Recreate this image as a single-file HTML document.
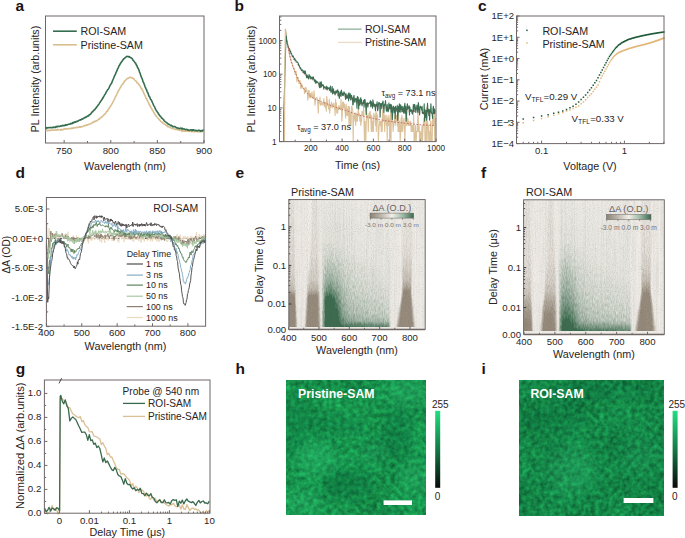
<!DOCTYPE html>
<html><head><meta charset="utf-8"><style>
html,body{margin:0;padding:0;background:#fff;}
svg{display:block;font-family:"Liberation Sans", sans-serif;}
</style></head><body>
<svg width="685" height="538" viewBox="0 0 685 538">
<rect width="685" height="538" fill="#fff"/>
<text x="15.6" y="11.3" font-size="15.5" text-anchor="start" font-weight="bold" fill="#1c1414">a</text>
<rect x="45.5" y="16" width="158.5" height="127" fill="none" stroke="#6f6767" stroke-width="1"/>
<line x1="64.15" y1="143.00" x2="64.15" y2="140.00" stroke="#6f6767" stroke-width="1"/>
<text x="64.14705882352942" y="153.6" font-size="9.7" text-anchor="middle" font-weight="normal" fill="#2a2424">750</text>
<line x1="110.76" y1="143.00" x2="110.76" y2="140.00" stroke="#6f6767" stroke-width="1"/>
<text x="110.76470588235294" y="153.6" font-size="9.7" text-anchor="middle" font-weight="normal" fill="#2a2424">800</text>
<line x1="157.38" y1="143.00" x2="157.38" y2="140.00" stroke="#6f6767" stroke-width="1"/>
<text x="157.38235294117646" y="153.6" font-size="9.7" text-anchor="middle" font-weight="normal" fill="#2a2424">850</text>
<line x1="204.00" y1="143.00" x2="204.00" y2="140.00" stroke="#6f6767" stroke-width="1"/>
<text x="204.0" y="153.6" font-size="9.7" text-anchor="middle" font-weight="normal" fill="#2a2424">900</text>
<line x1="87.46" y1="143.00" x2="87.46" y2="141.00" stroke="#6f6767" stroke-width="1"/>
<line x1="134.07" y1="143.00" x2="134.07" y2="141.00" stroke="#6f6767" stroke-width="1"/>
<line x1="180.69" y1="143.00" x2="180.69" y2="141.00" stroke="#6f6767" stroke-width="1"/>
<text x="125" y="170" font-size="10.8" text-anchor="middle" font-weight="normal" fill="#2a2424">Wavelength (nm)</text>
<text x="38.6" y="79" font-size="10.7" text-anchor="middle" font-weight="normal" fill="#2a2424" transform="rotate(-90 38.6 79)">PL Intensity (arb.units)</text>
<path d="M45.6,130.5 L46.1,130.6 L46.6,130.5 L47.1,130.1 L47.6,130.6 L48.1,130.5 L48.6,130.2 L49.1,130.5 L49.6,130.4 L50.1,130.4 L50.6,130.3 L51.1,130.4 L51.6,130.1 L52.1,130.2 L52.6,130.1 L53.1,130.3 L53.6,130.2 L54.1,130.1 L54.6,129.9 L55.1,130.0 L55.6,130.0 L56.1,129.9 L56.6,130.3 L57.1,130.2 L57.6,129.2 L58.1,129.4 L58.6,129.8 L59.1,129.7 L59.6,129.8 L60.1,129.7 L60.6,130.2 L61.1,129.3 L61.6,129.4 L62.1,130.0 L62.6,129.6 L63.1,129.6 L63.6,129.2 L64.1,128.9 L64.6,129.3 L65.1,129.2 L65.6,128.8 L66.1,128.9 L66.6,129.0 L67.1,128.7 L67.6,128.8 L68.1,128.8 L68.6,128.7 L69.1,128.5 L69.6,128.7 L70.1,128.7 L70.6,128.5 L71.1,128.2 L71.6,128.5 L72.1,128.1 L72.6,128.4 L73.1,127.8 L73.6,128.2 L74.1,127.9 L74.6,127.6 L75.1,127.7 L75.6,127.7 L76.1,127.7 L76.6,127.3 L77.1,127.2 L77.6,127.4 L78.1,127.2 L78.6,127.3 L79.1,127.3 L79.6,126.6 L80.1,127.0 L80.6,127.2 L81.1,126.7 L81.6,126.5 L82.1,126.7 L82.6,126.5 L83.1,126.5 L83.6,126.1 L84.1,125.6 L84.6,125.8 L85.1,125.6 L85.6,125.7 L86.1,125.4 L86.6,124.8 L87.1,124.7 L87.6,125.1 L88.1,124.8 L88.6,124.3 L89.1,124.2 L89.6,124.1 L90.1,123.9 L90.6,123.8 L91.1,123.4 L91.6,123.1 L92.1,122.9 L92.6,122.9 L93.1,121.9 L93.6,122.2 L94.1,122.0 L94.6,121.3 L95.1,121.5 L95.6,121.0 L96.1,121.1 L96.6,120.6 L97.1,120.5 L97.6,120.3 L98.1,119.8 L98.6,119.2 L99.1,118.7 L99.6,119.1 L100.1,118.3 L100.6,117.8 L101.1,117.6 L101.6,117.1 L102.1,116.9 L102.6,116.2 L103.1,115.8 L103.6,115.1 L104.1,114.9 L104.6,114.0 L105.1,113.9 L105.6,113.5 L106.1,112.2 L106.6,111.3 L107.1,111.4 L107.6,111.3 L108.1,109.7 L108.6,108.9 L109.1,108.6 L109.6,107.5 L110.1,106.8 L110.6,106.1 L111.1,105.5 L111.6,104.4 L112.1,103.7 L112.6,102.7 L113.1,101.6 L113.6,100.8 L114.1,99.6 L114.6,98.8 L115.1,97.5 L115.6,96.4 L116.1,96.0 L116.6,94.5 L117.1,93.5 L117.6,92.6 L118.1,91.4 L118.6,90.5 L119.1,89.8 L119.6,88.9 L120.1,87.7 L120.6,87.4 L121.1,86.3 L121.6,85.4 L122.1,84.7 L122.6,84.1 L123.1,83.9 L123.6,82.5 L124.1,82.1 L124.6,80.9 L125.1,80.8 L125.6,80.4 L126.1,79.6 L126.6,79.0 L127.1,78.8 L127.6,78.5 L128.1,78.2 L128.6,78.3 L129.1,77.6 L129.6,77.3 L130.1,77.4 L130.6,77.4 L131.1,77.6 L131.6,77.7 L132.1,78.0 L132.6,77.8 L133.1,78.7 L133.6,78.7 L134.1,79.0 L134.6,79.9 L135.1,80.6 L135.6,80.9 L136.1,81.3 L136.6,81.6 L137.1,83.1 L137.6,83.3 L138.1,83.4 L138.6,84.1 L139.1,85.0 L139.6,85.2 L140.1,86.4 L140.6,87.0 L141.1,88.2 L141.6,89.0 L142.1,89.0 L142.6,90.6 L143.1,91.2 L143.6,92.9 L144.1,93.7 L144.6,94.9 L145.1,95.6 L145.6,97.4 L146.1,98.5 L146.6,98.8 L147.1,100.2 L147.6,100.9 L148.1,102.1 L148.6,102.8 L149.1,104.5 L149.6,104.8 L150.1,105.9 L150.6,107.1 L151.1,107.7 L151.6,108.7 L152.1,109.5 L152.6,110.5 L153.1,111.1 L153.6,112.2 L154.1,113.0 L154.6,113.8 L155.1,114.6 L155.6,115.2 L156.1,116.2 L156.6,116.6 L157.1,117.2 L157.6,117.7 L158.1,118.3 L158.6,118.7 L159.1,119.7 L159.6,119.8 L160.1,120.4 L160.6,121.2 L161.1,121.7 L161.6,121.9 L162.1,122.0 L162.6,123.0 L163.1,123.3 L163.6,123.3 L164.1,124.2 L164.6,124.2 L165.1,124.4 L165.6,125.0 L166.1,125.3 L166.6,125.7 L167.1,125.5 L167.6,126.7 L168.1,126.4 L168.6,126.4 L169.1,127.2 L169.6,127.2 L170.1,127.6 L170.6,127.7 L171.1,128.0 L171.6,128.2 L172.1,128.2 L172.6,128.7 L173.1,128.6 L173.6,128.6 L174.1,129.0 L174.6,129.2 L175.1,129.2 L175.6,129.1 L176.1,129.6 L176.6,129.1 L177.1,129.4 L177.6,129.8 L178.1,129.6 L178.6,130.0 L179.1,130.1 L179.6,130.4 L180.1,130.1 L180.6,130.2 L181.1,130.6 L181.6,129.9 L182.1,131.4 L182.6,130.5 L183.1,130.6 L183.6,131.1 L184.1,130.9 L184.6,130.5 L185.1,131.2 L185.6,131.3 L186.1,131.0 L186.6,131.1 L187.1,131.3 L187.6,131.0 L188.1,131.4 L188.6,131.4 L189.1,131.2 L189.6,131.0 L190.1,131.3 L190.6,131.2 L191.1,131.7 L191.6,131.5 L192.1,131.6 L192.6,131.5 L193.1,131.5 L193.6,131.3 L194.1,131.7 L194.6,132.0 L195.1,131.4 L195.6,131.4 L196.1,131.5 L196.6,131.4 L197.1,131.4 L197.6,131.6 L198.1,131.5 L198.6,131.9 L199.1,131.6 L199.6,131.7 L200.1,131.8 L200.6,131.5 L201.1,131.9 L201.6,131.4 L202.1,131.4 L202.6,131.5 L203.1,131.6 L203.6,131.2" fill="none" stroke="#d9bf8f" stroke-width="1.6" stroke-linejoin="round" opacity="1"/>
<path d="M45.6,128.0 L46.1,127.5 L46.6,128.3 L47.1,127.9 L47.6,127.7 L48.1,127.6 L48.6,127.7 L49.1,127.7 L49.6,127.5 L50.1,127.5 L50.6,127.6 L51.1,127.5 L51.6,127.8 L52.1,127.8 L52.6,127.4 L53.1,127.5 L53.6,127.0 L54.1,127.4 L54.6,127.2 L55.1,127.2 L55.6,127.4 L56.1,126.4 L56.6,126.9 L57.1,126.5 L57.6,126.8 L58.1,126.3 L58.6,126.4 L59.1,126.5 L59.6,126.5 L60.1,126.2 L60.6,125.9 L61.1,125.9 L61.6,126.1 L62.1,125.8 L62.6,125.3 L63.1,125.8 L63.6,125.6 L64.1,125.6 L64.6,125.2 L65.1,125.4 L65.6,124.8 L66.1,125.1 L66.6,124.7 L67.1,124.9 L67.6,124.8 L68.1,124.3 L68.6,124.3 L69.1,124.2 L69.6,124.3 L70.1,124.0 L70.6,123.4 L71.1,123.6 L71.6,123.5 L72.1,123.7 L72.6,122.6 L73.1,122.7 L73.6,123.0 L74.1,122.1 L74.6,121.9 L75.1,122.2 L75.6,122.1 L76.1,121.5 L76.6,121.6 L77.1,121.2 L77.6,121.4 L78.1,120.8 L78.6,120.8 L79.1,120.2 L79.6,120.1 L80.1,119.9 L80.6,120.0 L81.1,119.7 L81.6,119.1 L82.1,119.3 L82.6,119.1 L83.1,118.6 L83.6,118.3 L84.1,118.1 L84.6,117.5 L85.1,117.7 L85.6,117.4 L86.1,116.9 L86.6,117.0 L87.1,116.2 L87.6,116.0 L88.1,115.7 L88.6,116.0 L89.1,114.7 L89.6,114.8 L90.1,114.5 L90.6,113.9 L91.1,113.6 L91.6,112.6 L92.1,111.8 L92.6,112.0 L93.1,111.0 L93.6,110.7 L94.1,109.9 L94.6,109.9 L95.1,109.2 L95.6,108.2 L96.1,108.0 L96.6,107.2 L97.1,106.5 L97.6,105.9 L98.1,105.1 L98.6,104.6 L99.1,103.8 L99.6,102.9 L100.1,102.5 L100.6,101.3 L101.1,100.7 L101.6,100.0 L102.1,99.4 L102.6,98.1 L103.1,97.9 L103.6,96.7 L104.1,95.8 L104.6,94.8 L105.1,94.3 L105.6,93.4 L106.1,92.3 L106.6,91.4 L107.1,90.7 L107.6,89.8 L108.1,89.4 L108.6,88.6 L109.1,87.6 L109.6,86.5 L110.1,85.4 L110.6,84.6 L111.1,83.8 L111.6,83.2 L112.1,81.8 L112.6,80.5 L113.1,79.4 L113.6,78.2 L114.1,76.9 L114.6,75.9 L115.1,74.7 L115.6,73.9 L116.1,72.3 L116.6,71.4 L117.1,70.4 L117.6,68.8 L118.1,68.1 L118.6,66.9 L119.1,65.7 L119.6,65.0 L120.1,64.1 L120.6,63.2 L121.1,62.5 L121.6,61.8 L122.1,61.2 L122.6,60.2 L123.1,59.8 L123.6,58.8 L124.1,58.7 L124.6,58.3 L125.1,57.7 L125.6,57.3 L126.1,57.1 L126.6,56.5 L127.1,56.4 L127.6,56.5 L128.1,56.6 L128.6,56.5 L129.1,57.1 L129.6,56.7 L130.1,57.3 L130.6,57.7 L131.1,57.8 L131.6,58.1 L132.1,58.5 L132.6,59.4 L133.1,60.3 L133.6,60.7 L134.1,61.4 L134.6,62.0 L135.1,63.0 L135.6,63.1 L136.1,64.5 L136.6,65.3 L137.1,66.0 L137.6,67.9 L138.1,68.1 L138.6,69.3 L139.1,70.6 L139.6,72.4 L140.1,73.2 L140.6,75.0 L141.1,76.3 L141.6,77.6 L142.1,78.6 L142.6,80.1 L143.1,82.0 L143.6,82.5 L144.1,83.9 L144.6,85.3 L145.1,86.8 L145.6,87.8 L146.1,89.1 L146.6,89.8 L147.1,91.5 L147.6,92.6 L148.1,93.2 L148.6,95.1 L149.1,96.4 L149.6,96.7 L150.1,98.0 L150.6,99.4 L151.1,99.7 L151.6,100.6 L152.1,101.8 L152.6,103.0 L153.1,104.0 L153.6,105.3 L154.1,106.2 L154.6,106.7 L155.1,108.1 L155.6,109.4 L156.1,110.1 L156.6,111.0 L157.1,111.6 L157.6,112.6 L158.1,112.9 L158.6,114.1 L159.1,114.6 L159.6,115.6 L160.1,116.1 L160.6,116.3 L161.1,117.2 L161.6,118.1 L162.1,118.1 L162.6,118.8 L163.1,119.2 L163.6,119.6 L164.1,120.7 L164.6,121.2 L165.1,121.6 L165.6,121.9 L166.1,122.2 L166.6,122.7 L167.1,122.9 L167.6,123.6 L168.1,124.0 L168.6,124.3 L169.1,124.3 L169.6,124.7 L170.1,124.9 L170.6,125.7 L171.1,125.5 L171.6,125.3 L172.1,126.1 L172.6,126.7 L173.1,126.6 L173.6,126.8 L174.1,126.8 L174.6,126.5 L175.1,126.7 L175.6,127.1 L176.1,127.5 L176.6,127.8 L177.1,128.0 L177.6,127.9 L178.1,128.4 L178.6,128.2 L179.1,128.2 L179.6,128.7 L180.1,128.4 L180.6,128.0 L181.1,128.5 L181.6,128.9 L182.1,128.2 L182.6,129.0 L183.1,129.1 L183.6,128.9 L184.1,128.9 L184.6,129.3 L185.1,129.3 L185.6,129.8 L186.1,129.7 L186.6,129.3 L187.1,129.5 L187.6,129.9 L188.1,130.3 L188.6,130.0 L189.1,130.0 L189.6,130.4 L190.1,130.0 L190.6,130.0 L191.1,129.7 L191.6,130.0 L192.1,130.7 L192.6,129.8 L193.1,130.2 L193.6,129.9 L194.1,130.3 L194.6,130.5 L195.1,130.3 L195.6,130.5 L196.1,130.6 L196.6,130.5 L197.1,130.9 L197.6,130.6 L198.1,130.4 L198.6,130.3 L199.1,130.3 L199.6,130.6 L200.1,130.5 L200.6,131.2 L201.1,131.0 L201.6,130.5 L202.1,130.5 L202.6,131.0 L203.1,130.1 L203.6,130.5" fill="none" stroke="#356d4f" stroke-width="1.6" stroke-linejoin="round" opacity="1"/>
<line x1="53.00" y1="31.20" x2="76.80" y2="31.20" stroke="#356d4f" stroke-width="1.6"/>
<line x1="53.00" y1="44.80" x2="76.80" y2="44.80" stroke="#d9bf8f" stroke-width="1.6"/>
<text x="80.5" y="35.4" font-size="10.7" text-anchor="start" font-weight="normal" fill="#2a2424">ROI-SAM</text>
<text x="80.5" y="48.8" font-size="10.7" text-anchor="start" font-weight="normal" fill="#2a2424">Pristine-SAM</text>
<text x="234.5" y="11.3" font-size="15.5" text-anchor="start" font-weight="bold" fill="#1c1414">b</text>
<path d="M285.4,29.1 L286.0,33.8 L286.4,36.7 L286.8,39.9 L287.3,41.5 L287.7,44.1 L288.1,46.5 L288.5,49.4 L288.9,51.2 L289.4,54.1 L289.8,56.1 L290.2,57.7 L290.6,58.7 L291.0,60.6 L291.5,62.6 L291.9,63.2 L292.3,64.2 L292.7,65.8 L293.1,67.0 L293.6,68.3 L294.0,68.0 L294.4,71.4 L294.8,70.6 L295.2,74.2 L295.7,73.8 L296.1,71.3 L296.5,76.4 L296.9,81.7 L297.3,78.4 L297.8,77.1 L298.2,78.2 L298.6,81.7 L299.0,83.5 L299.4,82.2 L299.9,80.5 L300.3,82.2 L300.7,88.4 L301.1,83.2 L301.5,88.0 L302.0,84.3 L302.4,88.0 L302.8,88.0 L303.2,88.0 L303.6,88.0 L304.1,88.4 L304.5,93.4 L304.9,88.0 L305.3,92.8 L305.7,87.2 L306.2,89.2 L306.6,90.0 L307.0,90.4 L307.4,93.4 L307.8,100.1 L308.3,96.4 L308.7,90.4 L309.1,90.4 L309.5,96.4 L309.9,97.8 L310.4,93.4 L310.8,97.8 L311.2,97.8 L311.6,94.5 L312.0,91.8 L312.5,97.0 L312.9,97.8 L313.3,98.5 L313.7,95.1 L314.1,90.9 L314.6,99.3 L315.0,105.2 L315.4,101.0 L315.8,98.5 L316.2,97.8 L316.7,97.8 L317.1,97.8 L317.5,101.0 L317.9,105.2 L318.3,113.1 L318.8,100.1 L319.2,103.0 L319.6,103.0 L320.0,97.0 L320.4,105.2 L320.9,104.1 L321.3,103.0 L321.7,103.0 L322.1,105.2 L322.5,104.1 L323.0,103.0 L323.4,104.1 L323.8,98.5 L324.2,106.5 L324.6,105.2 L325.1,102.0 L325.5,107.9 L325.9,103.0 L326.3,111.2 L326.7,96.4 L327.2,101.0 L327.6,104.1 L328.0,106.5 L328.4,105.2 L328.8,109.4 L329.3,99.3 L329.7,113.1 L330.1,106.5 L330.5,107.9 L330.9,105.2 L331.4,102.0 L331.8,104.1 L332.2,107.9 L332.6,105.2 L333.0,104.1 L333.5,105.2 L333.9,103.0 L334.3,107.9 L334.7,107.9 L335.1,115.4 L335.6,99.3 L336.0,109.4 L336.4,103.0 L336.8,113.1 L337.2,107.9 L337.7,113.1 L338.1,107.9 L338.5,109.4 L338.9,105.2 L339.3,106.5 L339.8,109.4 L340.2,109.4 L340.6,109.4 L341.0,99.3 L341.4,106.5 L341.9,121.3 L342.3,113.1 L342.7,102.0 L343.1,107.9 L343.5,102.0 L344.0,107.9 L344.4,104.1 L344.8,107.9 L345.2,113.1 L345.6,118.0 L346.1,104.1 L346.5,107.9 L346.9,115.4 L347.3,109.4 L347.7,115.4 L348.2,106.5 L348.6,106.5 L349.0,125.5 L349.4,106.5 L349.8,113.1 L350.3,125.5 L350.7,113.1 L351.1,125.5 L351.5,106.5 L351.9,106.5 L352.4,109.4 L352.8,111.2 L353.2,140.9 L353.6,115.4 L354.0,121.3 L354.5,118.0 L354.9,113.1 L355.3,113.1 L355.7,125.5 L356.1,113.1 L356.6,115.4 L357.0,121.3 L357.4,121.3 L357.8,115.4 L358.2,107.9 L358.7,115.4 L359.1,113.1 L359.5,115.4 L359.9,121.3 L360.3,115.4 L360.8,125.5 L361.2,121.3 L361.6,121.3 L362.0,111.2 L362.4,113.1 L362.9,115.4 L363.3,113.1 L363.7,106.5 L364.1,125.5 L364.5,140.9 L365.0,121.3 L365.4,131.5 L365.8,140.9 L366.2,125.5 L366.6,111.2 L367.1,118.0 L367.5,115.4 L367.9,118.0 L368.3,131.5 L368.7,115.4 L369.2,113.1 L369.6,118.0 L370.0,111.2 L370.4,113.1 L370.8,118.0 L371.3,131.5 L371.7,115.4 L372.1,131.5 L372.5,121.3 L372.9,125.5 L373.4,131.5 L373.8,113.1 L374.2,115.4 L374.6,115.4 L375.0,118.0 L375.5,125.5 L375.9,111.2 L376.3,131.5 L376.7,113.1 L377.1,121.3 L377.6,115.4 L378.0,125.5 L378.4,140.9 L378.8,131.5 L379.2,125.5 L379.7,121.3 L380.1,121.3 L380.5,125.5 L380.9,121.3 L381.3,131.5 L381.8,121.3 L382.2,131.5 L382.6,111.2 L383.0,109.4 L383.4,121.3 L383.9,113.1 L384.3,121.3 L384.7,131.5 L385.1,115.4 L385.5,121.3 L386.0,121.3 L386.4,125.5 L386.8,115.4 L387.2,140.9 L387.6,118.0 L388.1,121.3 L388.5,125.5 L388.9,115.4 L389.3,121.3 L389.7,140.9 L390.2,125.5 L390.6,113.1 L391.0,140.9 L391.4,113.1 L391.8,121.3 L392.3,118.0 L392.7,121.3 L393.1,131.5 L393.5,125.5 L393.9,121.3 L394.4,121.3 L394.8,115.4 L395.2,125.5 L395.6,118.0 L396.0,115.4 L396.5,121.3 L396.9,115.4 L397.3,125.5 L397.7,118.0 L398.1,131.5 L398.6,113.1 L399.0,131.5 L399.4,121.3 L399.8,125.5 L400.2,140.9 L400.7,131.5 L401.1,118.0 L401.5,131.5 L401.9,115.4 L402.3,121.3 L402.8,131.5 L403.2,121.3 L403.6,121.3 L404.0,118.0 L404.4,125.5 L404.9,140.9 L405.3,125.5 L405.7,125.5 L406.1,118.0 L406.5,125.5 L407.0,125.5 L407.4,118.0 L407.8,118.0 L408.2,121.3 L408.6,125.5 L409.1,121.3 L409.5,125.5 L409.9,125.5 L410.3,125.5 L410.7,121.3 L411.2,131.5 L411.6,125.5 L412.0,131.5 L412.4,125.5 L412.8,131.5 L413.3,125.5 L413.7,115.4 L414.1,140.9 L414.5,140.9 L414.9,140.9 L415.4,125.5 L415.8,125.5 L416.2,140.9 L416.6,131.5 L417.0,131.5 L417.5,131.5 L417.9,113.1 L418.3,118.0 L418.7,131.5 L419.1,125.5 L419.6,140.9 L420.0,140.9 L420.4,131.5 L420.8,140.9 L421.2,140.9 L421.7,131.5 L422.1,125.5 L422.5,140.9 L422.9,131.5 L423.3,125.5 L423.8,118.0 L424.2,125.5 L424.6,118.0 L425.0,140.9 L425.4,140.9 L425.9,140.9 L426.3,107.9 L426.7,125.5 L427.1,140.9 L427.5,121.3 L428.0,125.5 L428.4,125.5 L428.8,140.9 L429.2,140.9 L429.6,131.5 L430.1,140.9 L430.5,121.3 L430.9,121.3 L431.3,140.9 L431.7,140.9 L432.2,140.9 L432.6,115.4 L433.0,118.0 L433.4,121.3 L433.8,125.5 L434.3,113.1 L434.7,140.9 L435.1,125.5 L435.5,118.0" fill="none" stroke="#dcc29a" stroke-width="1.1" stroke-linejoin="round" opacity="1"/>
<path d="M283.8,141.6 L283.8,114.0 L286.0,35.3 L286.4,38.5 L286.8,40.6 L287.3,44.1 L287.7,44.8 L288.1,46.2 L288.5,47.5 L288.9,48.1 L289.4,48.9 L289.8,49.8 L290.2,52.2 L290.6,51.3 L291.0,53.2 L291.5,53.5 L291.9,54.9 L292.3,56.0 L292.7,56.6 L293.1,55.9 L293.6,57.3 L294.0,58.1 L294.4,59.6 L294.8,58.5 L295.2,60.4 L295.7,60.0 L296.1,61.2 L296.5,61.9 L296.9,61.8 L297.3,62.5 L297.8,62.4 L298.2,63.2 L298.6,65.4 L299.0,65.0 L299.4,66.0 L299.9,67.6 L300.3,68.6 L300.7,67.8 L301.1,69.2 L301.5,70.7 L302.0,69.8 L302.4,70.0 L302.8,70.6 L303.2,72.8 L303.6,72.5 L304.1,70.7 L304.5,73.8 L304.9,73.7 L305.3,71.1 L305.7,73.7 L306.2,75.2 L306.6,77.8 L307.0,74.9 L307.4,77.6 L307.8,76.0 L308.3,77.5 L308.7,79.0 L309.1,74.6 L309.5,77.2 L309.9,76.0 L310.4,76.4 L310.8,78.8 L311.2,77.8 L311.6,78.7 L312.0,77.0 L312.5,78.0 L312.9,79.5 L313.3,76.9 L313.7,78.7 L314.1,79.1 L314.6,81.4 L315.0,79.8 L315.4,83.3 L315.8,80.3 L316.2,83.0 L316.7,81.4 L317.1,82.5 L317.5,82.0 L317.9,82.1 L318.3,83.1 L318.8,83.4 L319.2,86.5 L319.6,87.7 L320.0,82.0 L320.4,83.4 L320.9,87.6 L321.3,81.7 L321.7,86.5 L322.1,84.4 L322.5,84.8 L323.0,85.6 L323.4,84.9 L323.8,89.2 L324.2,86.6 L324.6,87.3 L325.1,86.8 L325.5,87.7 L325.9,88.8 L326.3,89.2 L326.7,86.1 L327.2,89.9 L327.6,87.5 L328.0,87.7 L328.4,88.8 L328.8,88.0 L329.3,87.9 L329.7,90.4 L330.1,88.7 L330.5,86.0 L330.9,92.3 L331.4,90.7 L331.8,92.0 L332.2,86.5 L332.6,94.0 L333.0,90.7 L333.5,88.9 L333.9,93.2 L334.3,91.5 L334.7,93.1 L335.1,95.0 L335.6,91.8 L336.0,90.7 L336.4,93.0 L336.8,91.7 L337.2,90.7 L337.7,89.8 L338.1,95.9 L338.5,91.3 L338.9,94.4 L339.3,98.5 L339.8,95.1 L340.2,91.7 L340.6,92.6 L341.0,96.5 L341.4,90.1 L341.9,92.8 L342.3,94.1 L342.7,95.5 L343.1,93.1 L343.5,95.3 L344.0,91.8 L344.4,93.8 L344.8,93.2 L345.2,95.7 L345.6,99.5 L346.1,93.8 L346.5,98.3 L346.9,95.8 L347.3,95.7 L347.7,98.1 L348.2,93.8 L348.6,100.7 L349.0,92.8 L349.4,98.3 L349.8,94.3 L350.3,93.8 L350.7,99.9 L351.1,99.7 L351.5,95.2 L351.9,97.4 L352.4,97.9 L352.8,105.0 L353.2,104.4 L353.6,97.3 L354.0,95.3 L354.5,101.5 L354.9,102.3 L355.3,99.0 L355.7,98.5 L356.1,98.4 L356.6,101.6 L357.0,108.2 L357.4,96.5 L357.8,102.3 L358.2,97.2 L358.7,109.1 L359.1,99.8 L359.5,102.8 L359.9,105.2 L360.3,98.5 L360.8,97.8 L361.2,103.6 L361.6,99.7 L362.0,105.8 L362.4,104.1 L362.9,102.8 L363.3,103.3 L363.7,100.2 L364.1,107.0 L364.5,99.5 L365.0,99.6 L365.4,103.4 L365.8,107.4 L366.2,114.5 L366.6,103.1 L367.1,105.7 L367.5,102.7 L367.9,107.3 L368.3,103.2 L368.7,103.6 L369.2,103.4 L369.6,102.6 L370.0,102.6 L370.4,100.6 L370.8,106.8 L371.3,101.5 L371.7,103.4 L372.1,105.6 L372.5,108.1 L372.9,99.7 L373.4,103.4 L373.8,106.3 L374.2,104.1 L374.6,104.5 L375.0,106.6 L375.5,110.7 L375.9,104.2 L376.3,105.4 L376.7,105.9 L377.1,101.7 L377.6,110.8 L378.0,109.1 L378.4,104.6 L378.8,102.5 L379.2,103.2 L379.7,103.0 L380.1,117.2 L380.5,103.9 L380.9,104.2 L381.3,103.4 L381.8,108.7 L382.2,104.1 L382.6,102.6 L383.0,101.0 L383.4,105.2 L383.9,112.4 L384.3,106.1 L384.7,104.1 L385.1,104.7 L385.5,100.6 L386.0,107.5 L386.4,111.3 L386.8,109.5 L387.2,104.6 L387.6,110.5 L388.1,111.8 L388.5,110.8 L388.9,103.1 L389.3,106.4 L389.7,108.8 L390.2,104.4 L390.6,105.0 L391.0,112.1 L391.4,104.7 L391.8,106.8 L392.3,119.5 L392.7,113.6 L393.1,106.9 L393.5,106.2 L393.9,109.3 L394.4,112.8 L394.8,107.2 L395.2,118.6 L395.6,106.2 L396.0,109.0 L396.5,108.5 L396.9,111.4 L397.3,105.4 L397.7,120.3 L398.1,112.7 L398.6,106.4 L399.0,111.9 L399.4,103.7 L399.8,107.1 L400.2,112.3 L400.7,104.8 L401.1,109.2 L401.5,106.7 L401.9,111.7 L402.3,111.7 L402.8,106.3 L403.2,108.6 L403.6,112.6 L404.0,113.3 L404.4,106.6 L404.9,103.2 L405.3,113.2 L405.7,106.6 L406.1,121.1 L406.5,116.6 L407.0,106.7 L407.4,103.8 L407.8,109.1 L408.2,107.2 L408.6,108.3 L409.1,105.7 L409.5,114.9 L409.9,107.0 L410.3,111.5 L410.7,111.0 L411.2,109.6 L411.6,110.5 L412.0,113.3 L412.4,110.8 L412.8,114.4 L413.3,104.5 L413.7,107.1 L414.1,111.7 L414.5,104.3 L414.9,105.2 L415.4,107.9 L415.8,112.4 L416.2,108.9 L416.6,107.7 L417.0,105.0 L417.5,110.8 L417.9,112.7 L418.3,102.6 L418.7,105.2 L419.1,108.9 L419.6,114.9 L420.0,108.3 L420.4,106.1 L420.8,107.4 L421.2,107.2 L421.7,110.2 L422.1,106.2 L422.5,113.4 L422.9,112.6 L423.3,112.9 L423.8,113.8 L424.2,103.9 L424.6,121.1 L425.0,109.7 L425.4,115.9 L425.9,117.7 L426.3,110.4 L426.7,120.3 L427.1,111.4 L427.5,103.3 L428.0,111.6 L428.4,109.2 L428.8,115.5 L429.2,109.2 L429.6,120.1 L430.1,110.4 L430.5,111.9 L430.9,103.9 L431.3,111.8 L431.7,113.2 L432.2,114.3 L432.6,118.4 L433.0,108.5 L433.4,106.2 L433.8,113.5 L434.3,108.8 L434.7,113.6 L435.1,110.1 L435.5,109.9" fill="none" stroke="#3b6e52" stroke-width="1.1" stroke-linejoin="round" opacity="1"/>
<path d="M285.4,29.6 L286.0,36.0 L286.6,38.5" fill="none" stroke="#3b6e52" stroke-width="1.1" stroke-linejoin="round" opacity="1"/>
<path d="M284.5,141.6 L284.9,60.0 L285.4,29.1 L286.0,36.0" fill="none" stroke="#dcc29a" stroke-width="1.2" stroke-linejoin="round" opacity="1"/>
<path d="M288.0,46.4 L288.5,49.2 L289.0,51.8 L289.5,54.2 L290.0,56.5 L290.5,58.6 L291.0,60.4 L291.5,62.1 L292.0,63.6 L292.5,65.0 L293.0,66.4 L293.5,67.8 L294.0,69.2 L294.5,70.5 L295.0,71.8 L295.5,73.1 L296.0,74.3 L296.5,75.5 L297.0,76.7 L297.5,77.9 L298.0,79.1 L298.5,80.2 L299.0,81.2 L299.5,82.1 L300.0,83.0 L300.5,83.9 L301.0,84.7 L301.5,85.5 L302.0,86.3 L302.5,87.0 L303.0,87.8 L303.5,88.5 L304.0,89.2 L304.5,89.8 L305.0,90.4 L305.5,91.0 L306.0,91.6 L306.5,92.2 L307.0,92.7 L307.5,93.3 L308.0,93.8 L308.5,94.3 L309.0,94.8 L309.5,95.3 L310.0,95.7 L310.5,96.1 L311.0,96.6 L311.5,96.9 L312.0,97.3 L312.5,97.7 L313.0,98.0 L313.5,98.2 L314.0,98.5 L314.5,98.8 L315.0,99.0 L315.5,99.2 L316.0,99.5 L316.5,99.7 L317.0,99.9 L317.5,100.1 L318.0,100.3 L318.5,100.5 L319.0,100.7 L319.5,100.9 L320.0,101.1 L320.5,101.3 L321.0,101.5 L321.5,101.7 L322.0,101.9 L322.5,102.1 L323.0,102.3 L323.5,102.5 L324.0,102.7 L324.5,102.9 L325.0,103.1 L325.5,103.3 L326.0,103.5 L326.5,103.7 L327.0,103.9 L327.5,104.1 L328.0,104.3 L328.5,104.5 L329.0,104.7 L329.5,104.9 L330.0,105.1 L330.5,105.3 L331.0,105.5 L331.5,105.7 L332.0,105.8 L332.5,106.0 L333.0,106.2 L333.5,106.4 L334.0,106.6 L334.5,106.7 L335.0,106.9 L335.5,107.1 L336.0,107.3 L336.5,107.4 L337.0,107.6 L337.5,107.8 L338.0,107.9 L338.5,108.1 L339.0,108.3 L339.5,108.4 L340.0,108.6 L340.5,108.7 L341.0,108.9 L341.5,109.1 L342.0,109.2 L342.5,109.4 L343.0,109.5 L343.5,109.7 L344.0,109.9 L344.5,110.0 L345.0,110.2 L345.5,110.4 L346.0,110.5 L346.5,110.7 L347.0,110.9 L347.5,111.0 L348.0,111.2 L348.5,111.4 L349.0,111.6 L349.5,111.8 L350.0,111.9 L350.5,112.1 L351.0,112.3 L351.5,112.5 L352.0,112.7 L352.5,112.9 L353.0,113.1 L353.5,113.3 L354.0,113.5 L354.5,113.6 L355.0,113.8 L355.5,114.0 L356.0,114.2 L356.5,114.3 L357.0,114.5 L357.5,114.6 L358.0,114.7 L358.5,114.9 L359.0,115.0 L359.5,115.1 L360.0,115.3 L360.5,115.4 L361.0,115.5 L361.5,115.6 L362.0,115.8 L362.5,115.9 L363.0,116.0 L363.5,116.2 L364.0,116.3 L364.5,116.4 L365.0,116.5 L365.5,116.6 L366.0,116.8 L366.5,116.9 L367.0,117.0 L367.5,117.1 L368.0,117.2 L368.5,117.3 L369.0,117.5 L369.5,117.6 L370.0,117.7 L370.5,117.8 L371.0,117.9 L371.5,118.0 L372.0,118.1 L372.5,118.2 L373.0,118.3 L373.5,118.5 L374.0,118.6 L374.5,118.7 L375.0,118.8 L375.5,118.9 L376.0,119.0 L376.5,119.1 L377.0,119.2 L377.5,119.3 L378.0,119.4 L378.5,119.5 L379.0,119.6 L379.5,119.7 L380.0,119.7 L380.5,119.8 L381.0,119.9 L381.5,120.0 L382.0,120.1 L382.5,120.2 L383.0,120.3 L383.5,120.4 L384.0,120.5 L384.5,120.5 L385.0,120.6 L385.5,120.7 L386.0,120.8 L386.5,120.9 L387.0,121.0 L387.5,121.0 L388.0,121.1 L388.5,121.2 L389.0,121.3 L389.5,121.3 L390.0,121.4 L390.5,121.5 L391.0,121.6 L391.5,121.6 L392.0,121.7 L392.5,121.8 L393.0,121.8 L393.5,121.9 L394.0,122.0 L394.5,122.0 L395.0,122.1 L395.5,122.1 L396.0,122.2 L396.5,122.3 L397.0,122.3 L397.5,122.4 L398.0,122.4 L398.5,122.5 L399.0,122.6 L399.5,122.6 L400.0,122.7 L400.5,122.7 L401.0,122.8 L401.5,122.8 L402.0,122.9 L402.5,123.0 L403.0,123.0 L403.5,123.1 L404.0,123.1 L404.5,123.2 L405.0,123.2 L405.5,123.3 L406.0,123.3 L406.5,123.4 L407.0,123.4 L407.5,123.5 L408.0,123.5 L408.5,123.6 L409.0,123.6 L409.5,123.7 L410.0,123.8 L410.5,123.8 L411.0,123.9 L411.5,123.9 L412.0,123.9 L412.5,124.0 L413.0,124.0 L413.5,124.1 L414.0,124.1 L414.5,124.2 L415.0,124.2 L415.5,124.3 L416.0,124.3 L416.5,124.4 L417.0,124.4 L417.5,124.5 L418.0,124.5 L418.5,124.5 L419.0,124.6 L419.5,124.6 L420.0,124.7 L420.5,124.7 L421.0,124.7 L421.5,124.8 L422.0,124.8 L422.5,124.8 L423.0,124.9 L423.5,124.9 L424.0,124.9 L424.5,125.0 L425.0,125.0 L425.5,125.0 L426.0,125.1 L426.5,125.1 L427.0,125.1 L427.5,125.2 L428.0,125.2 L428.5,125.2 L429.0,125.2 L429.5,125.3 L430.0,125.3 L430.5,125.3 L431.0,125.3 L431.5,125.4 L432.0,125.4 L432.5,125.4 L433.0,125.4 L433.5,125.4 L434.0,125.5 L434.5,125.5 L435.0,125.5" fill="none" stroke="#b5484a" stroke-width="0.9" stroke-linejoin="round" opacity="0.9" stroke-dasharray="1.6,1.6"/>
<path d="M288.0,47.3 L288.5,48.6 L289.0,49.7 L289.5,50.8 L290.0,52.0 L290.5,53.2 L291.0,54.4 L291.5,55.5 L292.0,56.6 L292.5,57.6 L293.0,58.6 L293.5,59.4 L294.0,60.1 L294.5,60.8 L295.0,61.4 L295.5,62.0 L296.0,62.6 L296.5,63.2 L297.0,63.9 L297.5,64.7 L298.0,65.4 L298.5,66.2 L299.0,67.0 L299.5,67.8 L300.0,68.5 L300.5,69.3 L301.0,70.0 L301.5,70.6 L302.0,71.3 L302.5,71.9 L303.0,72.5 L303.5,73.2 L304.0,73.8 L304.5,74.3 L305.0,74.9 L305.5,75.4 L306.0,75.9 L306.5,76.4 L307.0,76.8 L307.5,77.2 L308.0,77.6 L308.5,77.9 L309.0,78.2 L309.5,78.5 L310.0,78.8 L310.5,79.1 L311.0,79.3 L311.5,79.6 L312.0,79.9 L312.5,80.2 L313.0,80.5 L313.5,80.8 L314.0,81.2 L314.5,81.6 L315.0,81.9 L315.5,82.3 L316.0,82.7 L316.5,83.1 L317.0,83.5 L317.5,83.9 L318.0,84.3 L318.5,84.6 L319.0,85.0 L319.5,85.3 L320.0,85.6 L320.5,85.9 L321.0,86.2 L321.5,86.5 L322.0,86.8 L322.5,87.1 L323.0,87.4 L323.5,87.6 L324.0,87.9 L324.5,88.2 L325.0,88.4 L325.5,88.7 L326.0,88.9 L326.5,89.2 L327.0,89.4 L327.5,89.7 L328.0,89.9 L328.5,90.2 L329.0,90.4 L329.5,90.6 L330.0,90.9 L330.5,91.1 L331.0,91.3 L331.5,91.5 L332.0,91.7 L332.5,92.0 L333.0,92.2 L333.5,92.4 L334.0,92.6 L334.5,92.8 L335.0,93.0 L335.5,93.2 L336.0,93.3 L336.5,93.5 L337.0,93.7 L337.5,93.9 L338.0,94.0 L338.5,94.2 L339.0,94.4 L339.5,94.5 L340.0,94.7 L340.5,94.8 L341.0,95.0 L341.5,95.1 L342.0,95.3 L342.5,95.5 L343.0,95.6 L343.5,95.8 L344.0,95.9 L344.5,96.1 L345.0,96.3 L345.5,96.5 L346.0,96.6 L346.5,96.8 L347.0,97.0 L347.5,97.2 L348.0,97.4 L348.5,97.6 L349.0,97.9 L349.5,98.1 L350.0,98.4 L350.5,98.6 L351.0,98.9 L351.5,99.2 L352.0,99.4 L352.5,99.7 L353.0,100.0 L353.5,100.2 L354.0,100.5 L354.5,100.7 L355.0,101.0 L355.5,101.2 L356.0,101.4 L356.5,101.6 L357.0,101.8 L357.5,102.0 L358.0,102.2 L358.5,102.3 L359.0,102.5 L359.5,102.6 L360.0,102.8 L360.5,102.9 L361.0,103.0 L361.5,103.2 L362.0,103.3 L362.5,103.4 L363.0,103.6 L363.5,103.7 L364.0,103.8 L364.5,103.9 L365.0,104.0 L365.5,104.1 L366.0,104.3 L366.5,104.4 L367.0,104.5 L367.5,104.6 L368.0,104.7 L368.5,104.8 L369.0,104.9 L369.5,105.0 L370.0,105.1 L370.5,105.2 L371.0,105.3 L371.5,105.4 L372.0,105.5 L372.5,105.6 L373.0,105.7 L373.5,105.8 L374.0,105.9 L374.5,106.0 L375.0,106.0 L375.5,106.1 L376.0,106.2 L376.5,106.3 L377.0,106.4 L377.5,106.5 L378.0,106.6 L378.5,106.7 L379.0,106.8 L379.5,106.9 L380.0,107.0 L380.5,107.1 L381.0,107.2 L381.5,107.3 L382.0,107.4 L382.5,107.5 L383.0,107.6 L383.5,107.7 L384.0,107.8 L384.5,107.9 L385.0,108.0 L385.5,108.1 L386.0,108.2 L386.5,108.3 L387.0,108.4 L387.5,108.5 L388.0,108.6 L388.5,108.7 L389.0,108.8 L389.5,108.9 L390.0,109.0 L390.5,109.1 L391.0,109.1 L391.5,109.2 L392.0,109.3 L392.5,109.4 L393.0,109.5 L393.5,109.5 L394.0,109.6 L394.5,109.7 L395.0,109.8 L395.5,109.8 L396.0,109.9 L396.5,110.0 L397.0,110.0 L397.5,110.1 L398.0,110.1 L398.5,110.2 L399.0,110.2 L399.5,110.3 L400.0,110.4 L400.5,110.4 L401.0,110.4 L401.5,110.5 L402.0,110.5 L402.5,110.6 L403.0,110.6 L403.5,110.7 L404.0,110.7 L404.5,110.8 L405.0,110.8 L405.5,110.8 L406.0,110.9 L406.5,110.9 L407.0,111.0 L407.5,111.0 L408.0,111.0 L408.5,111.1 L409.0,111.1 L409.5,111.2 L410.0,111.2 L410.5,111.2 L411.0,111.3 L411.5,111.3 L412.0,111.4 L412.5,111.4 L413.0,111.4 L413.5,111.5 L414.0,111.5 L414.5,111.5 L415.0,111.6 L415.5,111.6 L416.0,111.7 L416.5,111.7 L417.0,111.7 L417.5,111.8 L418.0,111.8 L418.5,111.9 L419.0,111.9 L419.5,112.0 L420.0,112.0 L420.5,112.0 L421.0,112.1 L421.5,112.1 L422.0,112.2 L422.5,112.2 L423.0,112.3 L423.5,112.3 L424.0,112.4 L424.5,112.4 L425.0,112.5 L425.5,112.5 L426.0,112.6 L426.5,112.6 L427.0,112.7 L427.5,112.7 L428.0,112.8 L428.5,112.8 L429.0,112.9 L429.5,112.9 L430.0,113.0 L430.5,113.0 L431.0,113.1 L431.5,113.1 L432.0,113.1 L432.5,113.2 L433.0,113.2 L433.5,113.3 L434.0,113.3 L434.5,113.4 L435.0,113.4" fill="none" stroke="#b5484a" stroke-width="0.8" stroke-linejoin="round" opacity="0.6" stroke-dasharray="1.6,1.6"/>
<rect x="279.5" y="16" width="156.5" height="125.6" fill="none" stroke="#6f6767" stroke-width="1"/>
<line x1="279.50" y1="141.60" x2="282.50" y2="141.60" stroke="#6f6767" stroke-width="1"/>
<text x="276.6" y="144.6" font-size="8.2" text-anchor="end" font-weight="normal" fill="#2a2424">1</text>
<line x1="279.50" y1="107.90" x2="282.50" y2="107.90" stroke="#6f6767" stroke-width="1"/>
<text x="276.6" y="110.89999999999999" font-size="8.2" text-anchor="end" font-weight="normal" fill="#2a2424">10</text>
<line x1="279.50" y1="74.20" x2="282.50" y2="74.20" stroke="#6f6767" stroke-width="1"/>
<text x="276.6" y="77.19999999999999" font-size="8.2" text-anchor="end" font-weight="normal" fill="#2a2424">100</text>
<line x1="279.50" y1="40.50" x2="282.50" y2="40.50" stroke="#6f6767" stroke-width="1"/>
<text x="276.6" y="43.499999999999986" font-size="8.2" text-anchor="end" font-weight="normal" fill="#2a2424">1000</text>
<line x1="279.50" y1="131.46" x2="281.30" y2="131.46" stroke="#6f6767" stroke-width="1"/>
<line x1="279.50" y1="125.52" x2="281.30" y2="125.52" stroke="#6f6767" stroke-width="1"/>
<line x1="279.50" y1="121.31" x2="281.30" y2="121.31" stroke="#6f6767" stroke-width="1"/>
<line x1="279.50" y1="118.04" x2="281.30" y2="118.04" stroke="#6f6767" stroke-width="1"/>
<line x1="279.50" y1="115.38" x2="281.30" y2="115.38" stroke="#6f6767" stroke-width="1"/>
<line x1="279.50" y1="113.12" x2="281.30" y2="113.12" stroke="#6f6767" stroke-width="1"/>
<line x1="279.50" y1="111.17" x2="281.30" y2="111.17" stroke="#6f6767" stroke-width="1"/>
<line x1="279.50" y1="109.44" x2="281.30" y2="109.44" stroke="#6f6767" stroke-width="1"/>
<line x1="279.50" y1="97.76" x2="281.30" y2="97.76" stroke="#6f6767" stroke-width="1"/>
<line x1="279.50" y1="91.82" x2="281.30" y2="91.82" stroke="#6f6767" stroke-width="1"/>
<line x1="279.50" y1="87.61" x2="281.30" y2="87.61" stroke="#6f6767" stroke-width="1"/>
<line x1="279.50" y1="84.34" x2="281.30" y2="84.34" stroke="#6f6767" stroke-width="1"/>
<line x1="279.50" y1="81.68" x2="281.30" y2="81.68" stroke="#6f6767" stroke-width="1"/>
<line x1="279.50" y1="79.42" x2="281.30" y2="79.42" stroke="#6f6767" stroke-width="1"/>
<line x1="279.50" y1="77.47" x2="281.30" y2="77.47" stroke="#6f6767" stroke-width="1"/>
<line x1="279.50" y1="75.74" x2="281.30" y2="75.74" stroke="#6f6767" stroke-width="1"/>
<line x1="279.50" y1="64.06" x2="281.30" y2="64.06" stroke="#6f6767" stroke-width="1"/>
<line x1="279.50" y1="58.12" x2="281.30" y2="58.12" stroke="#6f6767" stroke-width="1"/>
<line x1="279.50" y1="53.91" x2="281.30" y2="53.91" stroke="#6f6767" stroke-width="1"/>
<line x1="279.50" y1="50.64" x2="281.30" y2="50.64" stroke="#6f6767" stroke-width="1"/>
<line x1="279.50" y1="47.98" x2="281.30" y2="47.98" stroke="#6f6767" stroke-width="1"/>
<line x1="279.50" y1="45.72" x2="281.30" y2="45.72" stroke="#6f6767" stroke-width="1"/>
<line x1="279.50" y1="43.77" x2="281.30" y2="43.77" stroke="#6f6767" stroke-width="1"/>
<line x1="279.50" y1="42.04" x2="281.30" y2="42.04" stroke="#6f6767" stroke-width="1"/>
<line x1="279.50" y1="30.36" x2="281.30" y2="30.36" stroke="#6f6767" stroke-width="1"/>
<line x1="279.50" y1="24.42" x2="281.30" y2="24.42" stroke="#6f6767" stroke-width="1"/>
<line x1="279.50" y1="20.21" x2="281.30" y2="20.21" stroke="#6f6767" stroke-width="1"/>
<line x1="279.50" y1="16.94" x2="281.30" y2="16.94" stroke="#6f6767" stroke-width="1"/>
<line x1="310.80" y1="141.60" x2="310.80" y2="138.60" stroke="#6f6767" stroke-width="1"/>
<text x="310.8" y="151" font-size="8.2" text-anchor="middle" font-weight="normal" fill="#2a2424">200</text>
<line x1="342.10" y1="141.60" x2="342.10" y2="138.60" stroke="#6f6767" stroke-width="1"/>
<text x="342.1" y="151" font-size="8.2" text-anchor="middle" font-weight="normal" fill="#2a2424">400</text>
<line x1="373.40" y1="141.60" x2="373.40" y2="138.60" stroke="#6f6767" stroke-width="1"/>
<text x="373.4" y="151" font-size="8.2" text-anchor="middle" font-weight="normal" fill="#2a2424">600</text>
<line x1="404.70" y1="141.60" x2="404.70" y2="138.60" stroke="#6f6767" stroke-width="1"/>
<text x="404.7" y="151" font-size="8.2" text-anchor="middle" font-weight="normal" fill="#2a2424">800</text>
<line x1="436.00" y1="141.60" x2="436.00" y2="138.60" stroke="#6f6767" stroke-width="1"/>
<text x="436.0" y="151" font-size="8.2" text-anchor="middle" font-weight="normal" fill="#2a2424">1000</text>
<line x1="295.15" y1="141.60" x2="295.15" y2="139.60" stroke="#6f6767" stroke-width="1"/>
<line x1="326.45" y1="141.60" x2="326.45" y2="139.60" stroke="#6f6767" stroke-width="1"/>
<line x1="357.75" y1="141.60" x2="357.75" y2="139.60" stroke="#6f6767" stroke-width="1"/>
<line x1="389.05" y1="141.60" x2="389.05" y2="139.60" stroke="#6f6767" stroke-width="1"/>
<line x1="420.35" y1="141.60" x2="420.35" y2="139.60" stroke="#6f6767" stroke-width="1"/>
<text x="357.5" y="168.5" font-size="10.8" text-anchor="middle" font-weight="normal" fill="#2a2424">Time (ns)</text>
<text x="255" y="79" font-size="10.7" text-anchor="middle" font-weight="normal" fill="#2a2424" transform="rotate(-90 255 79)">PL Intensity (arb.units)</text>
<line x1="338.00" y1="29.20" x2="361.60" y2="29.20" stroke="#a6c1b2" stroke-width="1.7"/>
<line x1="338.00" y1="42.40" x2="361.60" y2="42.40" stroke="#ecdac4" stroke-width="1.3"/>
<text x="365" y="33.2" font-size="10.5" text-anchor="start" font-weight="normal" fill="#2a2424">ROI-SAM</text>
<text x="365" y="46.4" font-size="10.5" text-anchor="start" font-weight="normal" fill="#2a2424">Pristine-SAM</text>
<text x="381.5" y="95.6" font-size="9.1" text-anchor="start" font-weight="normal" fill="#2a2424">τ<tspan font-size="6.3" dy="2.2">avg</tspan><tspan dy="-2.2"> = 73.1 ns</tspan></text>
<text x="297" y="129.6" font-size="9.1" text-anchor="start" font-weight="normal" fill="#2a2424">τ<tspan font-size="6.3" dy="2.2">avg</tspan><tspan dy="-2.2"> = 37.0 ns</tspan></text>
<text x="478" y="11.3" font-size="15.5" text-anchor="start" font-weight="bold" fill="#1c1414">c</text>
<path d="M507.90,124.79h1.5v1.5h-1.5zM522.48,122.10h1.5v1.5h-1.5zM532.83,119.76h1.5v1.5h-1.5zM540.85,117.77h1.5v1.5h-1.5zM547.41,115.98h1.5v1.5h-1.5zM552.95,114.39h1.5v1.5h-1.5zM557.75,113.09h1.5v1.5h-1.5zM561.99,111.87h1.5v1.5h-1.5zM565.78,110.37h1.5v1.5h-1.5zM569.20,109.19h1.5v1.5h-1.5zM572.33,107.87h1.5v1.5h-1.5zM575.21,106.47h1.5v1.5h-1.5zM577.87,105.13h1.5v1.5h-1.5zM580.36,103.08h1.5v1.5h-1.5zM582.68,101.13h1.5v1.5h-1.5zM584.86,98.95h1.5v1.5h-1.5zM586.91,96.87h1.5v1.5h-1.5zM588.86,94.75h1.5v1.5h-1.5zM590.70,92.98h1.5v1.5h-1.5zM592.46,90.68h1.5v1.5h-1.5zM594.13,88.50h1.5v1.5h-1.5zM595.73,86.52h1.5v1.5h-1.5zM597.26,84.36h1.5v1.5h-1.5zM598.72,80.89h1.5v1.5h-1.5zM600.14,77.48h1.5v1.5h-1.5zM601.49,74.99h1.5v1.5h-1.5zM602.80,72.80h1.5v1.5h-1.5zM604.06,70.57h1.5v1.5h-1.5zM605.28,68.23h1.5v1.5h-1.5zM606.46,65.95h1.5v1.5h-1.5zM607.60,63.89h1.5v1.5h-1.5zM608.71,61.97h1.5v1.5h-1.5zM609.78,60.20h1.5v1.5h-1.5zM610.82,58.63h1.5v1.5h-1.5zM611.84,57.29h1.5v1.5h-1.5zM612.82,56.09h1.5v1.5h-1.5zM613.78,55.04h1.5v1.5h-1.5zM614.72,54.15h1.5v1.5h-1.5zM615.63,53.42h1.5v1.5h-1.5zM616.51,52.79h1.5v1.5h-1.5zM617.38,52.25h1.5v1.5h-1.5zM618.23,51.77h1.5v1.5h-1.5zM619.05,51.35h1.5v1.5h-1.5zM619.86,50.97h1.5v1.5h-1.5zM620.65,50.63h1.5v1.5h-1.5zM621.42,50.31h1.5v1.5h-1.5zM622.18,50.02h1.5v1.5h-1.5zM622.92,49.74h1.5v1.5h-1.5zM623.65,49.47h1.5v1.5h-1.5zM624.36,49.21h1.5v1.5h-1.5zM625.06,48.95h1.5v1.5h-1.5zM625.75,48.71h1.5v1.5h-1.5zM626.42,48.47h1.5v1.5h-1.5zM627.08,48.25h1.5v1.5h-1.5zM627.73,48.03h1.5v1.5h-1.5zM628.36,47.82h1.5v1.5h-1.5zM628.99,47.62h1.5v1.5h-1.5zM629.60,47.43h1.5v1.5h-1.5zM630.21,47.24h1.5v1.5h-1.5zM630.80,47.06h1.5v1.5h-1.5zM631.39,46.89h1.5v1.5h-1.5zM631.96,46.72h1.5v1.5h-1.5zM632.53,46.56h1.5v1.5h-1.5zM633.08,46.41h1.5v1.5h-1.5zM633.63,46.26h1.5v1.5h-1.5zM634.17,46.11h1.5v1.5h-1.5zM634.71,45.96h1.5v1.5h-1.5zM635.23,45.82h1.5v1.5h-1.5zM635.75,45.68h1.5v1.5h-1.5zM636.26,45.55h1.5v1.5h-1.5zM636.76,45.41h1.5v1.5h-1.5zM637.26,45.28h1.5v1.5h-1.5zM637.75,45.16h1.5v1.5h-1.5zM638.23,45.04h1.5v1.5h-1.5zM638.71,44.92h1.5v1.5h-1.5zM639.18,44.80h1.5v1.5h-1.5zM639.64,44.69h1.5v1.5h-1.5zM640.10,44.58h1.5v1.5h-1.5zM640.55,44.47h1.5v1.5h-1.5zM641.00,44.36h1.5v1.5h-1.5zM641.44,44.25h1.5v1.5h-1.5zM641.87,44.15h1.5v1.5h-1.5zM642.31,44.04h1.5v1.5h-1.5zM642.73,43.94h1.5v1.5h-1.5zM643.15,43.84h1.5v1.5h-1.5zM643.57,43.73h1.5v1.5h-1.5zM643.98,43.63h1.5v1.5h-1.5zM644.38,43.53h1.5v1.5h-1.5zM644.79,43.42h1.5v1.5h-1.5zM645.18,43.32h1.5v1.5h-1.5zM645.58,43.22h1.5v1.5h-1.5zM645.97,43.11h1.5v1.5h-1.5zM646.35,43.00h1.5v1.5h-1.5zM646.73,42.90h1.5v1.5h-1.5zM647.11,42.79h1.5v1.5h-1.5zM647.48,42.68h1.5v1.5h-1.5zM647.85,42.58h1.5v1.5h-1.5zM648.21,42.47h1.5v1.5h-1.5zM648.58,42.36h1.5v1.5h-1.5zM648.93,42.25h1.5v1.5h-1.5zM649.29,42.15h1.5v1.5h-1.5zM649.64,42.04h1.5v1.5h-1.5zM649.99,41.93h1.5v1.5h-1.5zM650.33,41.82h1.5v1.5h-1.5zM650.67,41.72h1.5v1.5h-1.5zM651.01,41.61h1.5v1.5h-1.5zM651.34,41.51h1.5v1.5h-1.5zM651.67,41.40h1.5v1.5h-1.5zM652.00,41.30h1.5v1.5h-1.5zM652.33,41.19h1.5v1.5h-1.5zM652.65,41.09h1.5v1.5h-1.5zM652.97,40.98h1.5v1.5h-1.5zM653.29,40.88h1.5v1.5h-1.5zM653.60,40.77h1.5v1.5h-1.5zM653.91,40.67h1.5v1.5h-1.5zM654.22,40.56h1.5v1.5h-1.5zM654.53,40.46h1.5v1.5h-1.5zM654.83,40.36h1.5v1.5h-1.5zM655.13,40.25h1.5v1.5h-1.5zM655.43,40.15h1.5v1.5h-1.5zM655.73,40.05h1.5v1.5h-1.5zM656.02,39.95h1.5v1.5h-1.5zM656.31,39.84h1.5v1.5h-1.5zM656.60,39.74h1.5v1.5h-1.5zM656.89,39.64h1.5v1.5h-1.5zM657.17,39.54h1.5v1.5h-1.5zM657.45,39.44h1.5v1.5h-1.5zM657.73,39.34h1.5v1.5h-1.5zM658.01,39.24h1.5v1.5h-1.5zM658.29,39.14h1.5v1.5h-1.5zM658.56,39.04h1.5v1.5h-1.5zM658.83,38.94h1.5v1.5h-1.5zM659.10,38.84h1.5v1.5h-1.5zM659.37,38.74h1.5v1.5h-1.5zM659.63,38.64h1.5v1.5h-1.5zM659.90,38.54h1.5v1.5h-1.5zM660.16,38.45h1.5v1.5h-1.5zM660.42,38.35h1.5v1.5h-1.5zM660.67,38.25h1.5v1.5h-1.5zM660.93,38.15h1.5v1.5h-1.5zM661.18,38.06h1.5v1.5h-1.5zM661.44,37.96h1.5v1.5h-1.5zM661.69,37.86h1.5v1.5h-1.5zM661.94,37.77h1.5v1.5h-1.5zM662.18,37.67h1.5v1.5h-1.5zM662.43,37.57h1.5v1.5h-1.5zM662.67,37.48h1.5v1.5h-1.5zM662.92,37.38h1.5v1.5h-1.5zM663.16,37.29h1.5v1.5h-1.5z" fill="#e2b677"/>
<path d="M507.90,120.21h1.5v1.5h-1.5zM522.48,118.32h1.5v1.5h-1.5zM532.83,116.69h1.5v1.5h-1.5zM540.85,115.19h1.5v1.5h-1.5zM547.41,113.89h1.5v1.5h-1.5zM552.95,112.50h1.5v1.5h-1.5zM557.75,111.40h1.5v1.5h-1.5zM561.99,110.27h1.5v1.5h-1.5zM565.78,108.75h1.5v1.5h-1.5zM569.20,107.07h1.5v1.5h-1.5zM572.33,105.44h1.5v1.5h-1.5zM575.21,103.53h1.5v1.5h-1.5zM577.87,101.34h1.5v1.5h-1.5zM580.36,98.85h1.5v1.5h-1.5zM582.68,96.62h1.5v1.5h-1.5zM584.86,94.13h1.5v1.5h-1.5zM586.91,91.75h1.5v1.5h-1.5zM588.86,89.32h1.5v1.5h-1.5zM590.70,86.95h1.5v1.5h-1.5zM592.46,84.46h1.5v1.5h-1.5zM594.13,82.04h1.5v1.5h-1.5zM595.73,79.63h1.5v1.5h-1.5zM597.26,76.90h1.5v1.5h-1.5zM598.72,74.21h1.5v1.5h-1.5zM600.14,71.67h1.5v1.5h-1.5zM601.49,69.19h1.5v1.5h-1.5zM602.80,66.76h1.5v1.5h-1.5zM604.06,64.35h1.5v1.5h-1.5zM605.28,62.04h1.5v1.5h-1.5zM606.46,59.83h1.5v1.5h-1.5zM607.60,57.72h1.5v1.5h-1.5zM608.71,55.83h1.5v1.5h-1.5zM609.78,54.17h1.5v1.5h-1.5zM610.82,52.65h1.5v1.5h-1.5zM611.84,51.23h1.5v1.5h-1.5zM612.82,49.88h1.5v1.5h-1.5zM613.78,48.65h1.5v1.5h-1.5zM614.72,47.55h1.5v1.5h-1.5zM615.63,46.55h1.5v1.5h-1.5zM616.51,45.63h1.5v1.5h-1.5zM617.38,44.80h1.5v1.5h-1.5zM618.23,44.09h1.5v1.5h-1.5zM619.05,43.46h1.5v1.5h-1.5zM619.86,42.88h1.5v1.5h-1.5zM620.65,42.35h1.5v1.5h-1.5zM621.42,41.87h1.5v1.5h-1.5zM622.18,41.43h1.5v1.5h-1.5zM622.92,41.02h1.5v1.5h-1.5zM623.65,40.65h1.5v1.5h-1.5zM624.36,40.29h1.5v1.5h-1.5zM625.06,39.96h1.5v1.5h-1.5zM625.75,39.65h1.5v1.5h-1.5zM626.42,39.36h1.5v1.5h-1.5zM627.08,39.08h1.5v1.5h-1.5zM627.73,38.82h1.5v1.5h-1.5zM628.36,38.58h1.5v1.5h-1.5zM628.99,38.35h1.5v1.5h-1.5zM629.60,38.13h1.5v1.5h-1.5zM630.21,37.93h1.5v1.5h-1.5zM630.80,37.74h1.5v1.5h-1.5zM631.39,37.56h1.5v1.5h-1.5zM631.96,37.39h1.5v1.5h-1.5zM632.53,37.22h1.5v1.5h-1.5zM633.08,37.07h1.5v1.5h-1.5zM633.63,36.92h1.5v1.5h-1.5zM634.17,36.78h1.5v1.5h-1.5zM634.71,36.64h1.5v1.5h-1.5zM635.23,36.51h1.5v1.5h-1.5zM635.75,36.37h1.5v1.5h-1.5zM636.26,36.25h1.5v1.5h-1.5zM636.76,36.12h1.5v1.5h-1.5zM637.26,36.00h1.5v1.5h-1.5zM637.75,35.88h1.5v1.5h-1.5zM638.23,35.77h1.5v1.5h-1.5zM638.71,35.66h1.5v1.5h-1.5zM639.18,35.55h1.5v1.5h-1.5zM639.64,35.44h1.5v1.5h-1.5zM640.10,35.33h1.5v1.5h-1.5zM640.55,35.23h1.5v1.5h-1.5zM641.00,35.13h1.5v1.5h-1.5zM641.44,35.03h1.5v1.5h-1.5zM641.87,34.94h1.5v1.5h-1.5zM642.31,34.85h1.5v1.5h-1.5zM642.73,34.76h1.5v1.5h-1.5zM643.15,34.67h1.5v1.5h-1.5zM643.57,34.58h1.5v1.5h-1.5zM643.98,34.49h1.5v1.5h-1.5zM644.38,34.41h1.5v1.5h-1.5zM644.79,34.33h1.5v1.5h-1.5zM645.18,34.25h1.5v1.5h-1.5zM645.58,34.17h1.5v1.5h-1.5zM645.97,34.10h1.5v1.5h-1.5zM646.35,34.02h1.5v1.5h-1.5zM646.73,33.95h1.5v1.5h-1.5zM647.11,33.88h1.5v1.5h-1.5zM647.48,33.81h1.5v1.5h-1.5zM647.85,33.74h1.5v1.5h-1.5zM648.21,33.67h1.5v1.5h-1.5zM648.58,33.60h1.5v1.5h-1.5zM648.93,33.54h1.5v1.5h-1.5zM649.29,33.47h1.5v1.5h-1.5zM649.64,33.41h1.5v1.5h-1.5zM649.99,33.34h1.5v1.5h-1.5zM650.33,33.28h1.5v1.5h-1.5zM650.67,33.22h1.5v1.5h-1.5zM651.01,33.16h1.5v1.5h-1.5zM651.34,33.10h1.5v1.5h-1.5zM651.67,33.04h1.5v1.5h-1.5zM652.00,32.99h1.5v1.5h-1.5zM652.33,32.93h1.5v1.5h-1.5zM652.65,32.87h1.5v1.5h-1.5zM652.97,32.82h1.5v1.5h-1.5zM653.29,32.76h1.5v1.5h-1.5zM653.60,32.71h1.5v1.5h-1.5zM653.91,32.66h1.5v1.5h-1.5zM654.22,32.60h1.5v1.5h-1.5zM654.53,32.55h1.5v1.5h-1.5zM654.83,32.50h1.5v1.5h-1.5zM655.13,32.45h1.5v1.5h-1.5zM655.43,32.40h1.5v1.5h-1.5zM655.73,32.36h1.5v1.5h-1.5zM656.02,32.31h1.5v1.5h-1.5zM656.31,32.26h1.5v1.5h-1.5zM656.60,32.21h1.5v1.5h-1.5zM656.89,32.17h1.5v1.5h-1.5zM657.17,32.12h1.5v1.5h-1.5zM657.45,32.08h1.5v1.5h-1.5zM657.73,32.04h1.5v1.5h-1.5zM658.01,31.99h1.5v1.5h-1.5zM658.29,31.95h1.5v1.5h-1.5zM658.56,31.91h1.5v1.5h-1.5zM658.83,31.87h1.5v1.5h-1.5zM659.10,31.83h1.5v1.5h-1.5zM659.37,31.79h1.5v1.5h-1.5zM659.63,31.75h1.5v1.5h-1.5zM659.90,31.71h1.5v1.5h-1.5zM660.16,31.67h1.5v1.5h-1.5zM660.42,31.64h1.5v1.5h-1.5zM660.67,31.60h1.5v1.5h-1.5zM660.93,31.56h1.5v1.5h-1.5zM661.18,31.53h1.5v1.5h-1.5zM661.44,31.49h1.5v1.5h-1.5zM661.69,31.46h1.5v1.5h-1.5zM661.94,31.42h1.5v1.5h-1.5zM662.18,31.39h1.5v1.5h-1.5zM662.43,31.36h1.5v1.5h-1.5zM662.67,31.33h1.5v1.5h-1.5zM662.92,31.29h1.5v1.5h-1.5zM663.16,31.26h1.5v1.5h-1.5z" fill="#1f5a3b"/>
<rect x="516.5" y="16" width="147.5" height="127.6" fill="none" stroke="#6f6767" stroke-width="1"/>
<line x1="516.50" y1="16.00" x2="519.50" y2="16.00" stroke="#6f6767" stroke-width="1"/>
<text x="514" y="19.4" font-size="9.5" text-anchor="end" font-weight="normal" fill="#2a2424">1E+2</text>
<line x1="516.50" y1="30.86" x2="518.10" y2="30.86" stroke="#6f6767" stroke-width="1"/>
<line x1="516.50" y1="27.12" x2="518.10" y2="27.12" stroke="#6f6767" stroke-width="1"/>
<line x1="516.50" y1="24.46" x2="518.10" y2="24.46" stroke="#6f6767" stroke-width="1"/>
<line x1="516.50" y1="22.40" x2="518.10" y2="22.40" stroke="#6f6767" stroke-width="1"/>
<line x1="516.50" y1="20.72" x2="518.10" y2="20.72" stroke="#6f6767" stroke-width="1"/>
<line x1="516.50" y1="19.29" x2="518.10" y2="19.29" stroke="#6f6767" stroke-width="1"/>
<line x1="516.50" y1="18.06" x2="518.10" y2="18.06" stroke="#6f6767" stroke-width="1"/>
<line x1="516.50" y1="16.97" x2="518.10" y2="16.97" stroke="#6f6767" stroke-width="1"/>
<line x1="516.50" y1="37.27" x2="519.50" y2="37.27" stroke="#6f6767" stroke-width="1"/>
<text x="514" y="40.666666666666664" font-size="9.5" text-anchor="end" font-weight="normal" fill="#2a2424">1E+1</text>
<line x1="516.50" y1="52.13" x2="518.10" y2="52.13" stroke="#6f6767" stroke-width="1"/>
<line x1="516.50" y1="48.39" x2="518.10" y2="48.39" stroke="#6f6767" stroke-width="1"/>
<line x1="516.50" y1="45.73" x2="518.10" y2="45.73" stroke="#6f6767" stroke-width="1"/>
<line x1="516.50" y1="43.67" x2="518.10" y2="43.67" stroke="#6f6767" stroke-width="1"/>
<line x1="516.50" y1="41.98" x2="518.10" y2="41.98" stroke="#6f6767" stroke-width="1"/>
<line x1="516.50" y1="40.56" x2="518.10" y2="40.56" stroke="#6f6767" stroke-width="1"/>
<line x1="516.50" y1="39.33" x2="518.10" y2="39.33" stroke="#6f6767" stroke-width="1"/>
<line x1="516.50" y1="38.24" x2="518.10" y2="38.24" stroke="#6f6767" stroke-width="1"/>
<line x1="516.50" y1="58.53" x2="519.50" y2="58.53" stroke="#6f6767" stroke-width="1"/>
<text x="514" y="61.93333333333333" font-size="9.5" text-anchor="end" font-weight="normal" fill="#2a2424">1E+0</text>
<line x1="516.50" y1="73.40" x2="518.10" y2="73.40" stroke="#6f6767" stroke-width="1"/>
<line x1="516.50" y1="69.65" x2="518.10" y2="69.65" stroke="#6f6767" stroke-width="1"/>
<line x1="516.50" y1="67.00" x2="518.10" y2="67.00" stroke="#6f6767" stroke-width="1"/>
<line x1="516.50" y1="64.94" x2="518.10" y2="64.94" stroke="#6f6767" stroke-width="1"/>
<line x1="516.50" y1="63.25" x2="518.10" y2="63.25" stroke="#6f6767" stroke-width="1"/>
<line x1="516.50" y1="61.83" x2="518.10" y2="61.83" stroke="#6f6767" stroke-width="1"/>
<line x1="516.50" y1="60.59" x2="518.10" y2="60.59" stroke="#6f6767" stroke-width="1"/>
<line x1="516.50" y1="59.51" x2="518.10" y2="59.51" stroke="#6f6767" stroke-width="1"/>
<line x1="516.50" y1="79.80" x2="519.50" y2="79.80" stroke="#6f6767" stroke-width="1"/>
<text x="514" y="83.2" font-size="9.5" text-anchor="end" font-weight="normal" fill="#2a2424">1E−1</text>
<line x1="516.50" y1="94.66" x2="518.10" y2="94.66" stroke="#6f6767" stroke-width="1"/>
<line x1="516.50" y1="90.92" x2="518.10" y2="90.92" stroke="#6f6767" stroke-width="1"/>
<line x1="516.50" y1="88.26" x2="518.10" y2="88.26" stroke="#6f6767" stroke-width="1"/>
<line x1="516.50" y1="86.20" x2="518.10" y2="86.20" stroke="#6f6767" stroke-width="1"/>
<line x1="516.50" y1="84.52" x2="518.10" y2="84.52" stroke="#6f6767" stroke-width="1"/>
<line x1="516.50" y1="83.09" x2="518.10" y2="83.09" stroke="#6f6767" stroke-width="1"/>
<line x1="516.50" y1="81.86" x2="518.10" y2="81.86" stroke="#6f6767" stroke-width="1"/>
<line x1="516.50" y1="80.77" x2="518.10" y2="80.77" stroke="#6f6767" stroke-width="1"/>
<line x1="516.50" y1="101.07" x2="519.50" y2="101.07" stroke="#6f6767" stroke-width="1"/>
<text x="514" y="104.46666666666667" font-size="9.5" text-anchor="end" font-weight="normal" fill="#2a2424">1E−2</text>
<line x1="516.50" y1="115.93" x2="518.10" y2="115.93" stroke="#6f6767" stroke-width="1"/>
<line x1="516.50" y1="112.19" x2="518.10" y2="112.19" stroke="#6f6767" stroke-width="1"/>
<line x1="516.50" y1="109.53" x2="518.10" y2="109.53" stroke="#6f6767" stroke-width="1"/>
<line x1="516.50" y1="107.47" x2="518.10" y2="107.47" stroke="#6f6767" stroke-width="1"/>
<line x1="516.50" y1="105.78" x2="518.10" y2="105.78" stroke="#6f6767" stroke-width="1"/>
<line x1="516.50" y1="104.36" x2="518.10" y2="104.36" stroke="#6f6767" stroke-width="1"/>
<line x1="516.50" y1="103.13" x2="518.10" y2="103.13" stroke="#6f6767" stroke-width="1"/>
<line x1="516.50" y1="102.04" x2="518.10" y2="102.04" stroke="#6f6767" stroke-width="1"/>
<line x1="516.50" y1="122.33" x2="519.50" y2="122.33" stroke="#6f6767" stroke-width="1"/>
<text x="514" y="125.73333333333333" font-size="9.5" text-anchor="end" font-weight="normal" fill="#2a2424">1E−3</text>
<line x1="516.50" y1="137.20" x2="518.10" y2="137.20" stroke="#6f6767" stroke-width="1"/>
<line x1="516.50" y1="133.45" x2="518.10" y2="133.45" stroke="#6f6767" stroke-width="1"/>
<line x1="516.50" y1="130.80" x2="518.10" y2="130.80" stroke="#6f6767" stroke-width="1"/>
<line x1="516.50" y1="128.74" x2="518.10" y2="128.74" stroke="#6f6767" stroke-width="1"/>
<line x1="516.50" y1="127.05" x2="518.10" y2="127.05" stroke="#6f6767" stroke-width="1"/>
<line x1="516.50" y1="125.63" x2="518.10" y2="125.63" stroke="#6f6767" stroke-width="1"/>
<line x1="516.50" y1="124.39" x2="518.10" y2="124.39" stroke="#6f6767" stroke-width="1"/>
<line x1="516.50" y1="123.31" x2="518.10" y2="123.31" stroke="#6f6767" stroke-width="1"/>
<line x1="516.50" y1="143.60" x2="519.50" y2="143.60" stroke="#6f6767" stroke-width="1"/>
<text x="514" y="147.0" font-size="9.5" text-anchor="end" font-weight="normal" fill="#2a2424">1E−4</text>
<line x1="541.60" y1="143.60" x2="541.60" y2="140.60" stroke="#6f6767" stroke-width="1"/>
<line x1="624.40" y1="143.60" x2="624.40" y2="140.60" stroke="#6f6767" stroke-width="1"/>
<line x1="523.23" y1="143.60" x2="523.23" y2="141.80" stroke="#6f6767" stroke-width="1"/>
<line x1="528.77" y1="143.60" x2="528.77" y2="141.80" stroke="#6f6767" stroke-width="1"/>
<line x1="533.58" y1="143.60" x2="533.58" y2="141.80" stroke="#6f6767" stroke-width="1"/>
<line x1="537.81" y1="143.60" x2="537.81" y2="141.80" stroke="#6f6767" stroke-width="1"/>
<line x1="566.53" y1="143.60" x2="566.53" y2="141.80" stroke="#6f6767" stroke-width="1"/>
<line x1="581.11" y1="143.60" x2="581.11" y2="141.80" stroke="#6f6767" stroke-width="1"/>
<line x1="591.45" y1="143.60" x2="591.45" y2="141.80" stroke="#6f6767" stroke-width="1"/>
<line x1="599.47" y1="143.60" x2="599.47" y2="141.80" stroke="#6f6767" stroke-width="1"/>
<line x1="606.03" y1="143.60" x2="606.03" y2="141.80" stroke="#6f6767" stroke-width="1"/>
<line x1="611.57" y1="143.60" x2="611.57" y2="141.80" stroke="#6f6767" stroke-width="1"/>
<line x1="616.38" y1="143.60" x2="616.38" y2="141.80" stroke="#6f6767" stroke-width="1"/>
<line x1="620.61" y1="143.60" x2="620.61" y2="141.80" stroke="#6f6767" stroke-width="1"/>
<line x1="649.33" y1="143.60" x2="649.33" y2="141.80" stroke="#6f6767" stroke-width="1"/>
<line x1="663.91" y1="143.60" x2="663.91" y2="141.80" stroke="#6f6767" stroke-width="1"/>
<text x="541.6" y="154.3" font-size="9.5" text-anchor="middle" font-weight="normal" fill="#2a2424">0.1</text>
<text x="624.4" y="154.3" font-size="9.5" text-anchor="middle" font-weight="normal" fill="#2a2424">1</text>
<text x="590" y="170" font-size="10.8" text-anchor="middle" font-weight="normal" fill="#2a2424">Voltage (V)</text>
<text x="488" y="79" font-size="10.8" text-anchor="middle" font-weight="normal" fill="#2a2424" transform="rotate(-90 488 79)">Current (mA)</text>
<rect x="526.2" y="29.6" width="1.5" height="1.5" fill="#1f5a3b"/>
<rect x="526.2" y="42.2" width="1.5" height="1.5" fill="#e2b677"/>
<text x="542.4" y="35" font-size="10.7" text-anchor="start" font-weight="normal" fill="#2a2424">ROI-SAM</text>
<text x="542.4" y="48" font-size="10.7" text-anchor="start" font-weight="normal" fill="#2a2424">Pristine-SAM</text>
<text x="525" y="99.6" font-size="9.7" text-anchor="start" font-weight="normal" fill="#2a2424">V<tspan font-size="6.8" dy="2.4">TFL</tspan><tspan dy="-2.4">=0.29 V</tspan></text>
<text x="571.6" y="121.6" font-size="9.7" text-anchor="start" font-weight="normal" fill="#2a2424">V<tspan font-size="6.8" dy="2.4">TFL</tspan><tspan dy="-2.4">=0.33 V</tspan></text>
<text x="15.6" y="178" font-size="15.5" text-anchor="start" font-weight="bold" fill="#1c1414">d</text>
<line x1="46.40" y1="238.40" x2="205.60" y2="238.40" stroke="#3a3434" stroke-width="0.9" stroke-dasharray="2.2,1.2"/>
<path d="M46.4,225.0 L46.8,222.9 L47.3,233.6 L47.7,238.4 L48.2,236.1 L48.6,245.2 L49.1,228.2 L49.5,235.6 L50.0,231.1 L50.4,232.7 L50.9,241.0 L51.3,240.8 L51.8,234.1 L52.2,239.2 L52.7,237.5 L53.1,236.9 L53.6,238.6 L54.0,233.0 L54.5,234.2 L54.9,235.9 L55.4,235.0 L55.8,238.6 L56.3,234.5 L56.7,238.6 L57.2,233.2 L57.6,238.3 L58.1,238.1 L58.5,234.4 L59.0,235.6 L59.4,239.1 L59.9,235.9 L60.3,237.2 L60.8,237.2 L61.2,236.0 L61.7,236.1 L62.1,235.4 L62.6,236.5 L63.0,236.9 L63.5,237.8 L63.9,234.7 L64.4,239.2 L64.8,234.0 L65.3,233.5 L65.7,233.6 L66.2,238.1 L66.6,233.9 L67.1,235.7 L67.5,235.9 L68.0,231.7 L68.4,237.7 L68.9,237.0 L69.3,240.5 L69.8,242.4 L70.2,237.7 L70.7,237.4 L71.1,236.9 L71.6,237.7 L72.0,242.1 L72.5,237.6 L72.9,236.2 L73.4,235.4 L73.8,240.2 L74.3,240.1 L74.7,239.7 L75.2,239.6 L75.6,241.4 L76.1,239.7 L76.5,235.4 L77.0,240.4 L77.4,241.9 L77.9,238.9 L78.3,239.3 L78.7,237.1 L79.2,239.7 L79.6,238.7 L80.1,239.9 L80.5,240.1 L81.0,237.6 L81.4,238.0 L81.9,238.4 L82.3,237.3 L82.8,239.8 L83.2,238.2 L83.7,237.8 L84.1,236.0 L84.6,241.7 L85.0,238.8 L85.5,237.3 L85.9,239.2 L86.4,238.0 L86.8,236.8 L87.3,237.2 L87.7,241.4 L88.2,240.4 L88.6,243.4 L89.1,236.9 L89.5,237.7 L90.0,235.6 L90.4,238.0 L90.9,240.3 L91.3,236.1 L91.8,240.6 L92.2,238.1 L92.7,238.5 L93.1,236.7 L93.6,236.4 L94.0,238.9 L94.5,239.5 L94.9,238.2 L95.4,239.2 L95.8,236.3 L96.3,237.4 L96.7,235.5 L97.2,233.2 L97.6,239.8 L98.1,239.3 L98.5,237.2 L99.0,237.4 L99.4,238.8 L99.9,241.4 L100.3,233.3 L100.8,238.0 L101.2,240.3 L101.7,242.7 L102.1,235.5 L102.6,237.5 L103.0,238.1 L103.5,240.1 L103.9,238.3 L104.4,238.9 L104.8,242.8 L105.3,233.1 L105.7,237.3 L106.2,238.8 L106.6,239.9 L107.1,239.3 L107.5,233.5 L108.0,237.4 L108.4,240.6 L108.9,236.4 L109.3,237.2 L109.8,237.1 L110.2,238.4 L110.6,238.4 L111.1,237.7 L111.5,238.5 L112.0,240.8 L112.4,240.0 L112.9,238.1 L113.3,241.2 L113.8,238.4 L114.2,238.7 L114.7,236.7 L115.1,237.8 L115.6,238.7 L116.0,238.7 L116.5,237.3 L116.9,236.3 L117.4,240.2 L117.8,241.0 L118.3,239.5 L118.7,242.5 L119.2,239.6 L119.6,236.5 L120.1,236.3 L120.5,235.2 L121.0,238.0 L121.4,237.8 L121.9,239.2 L122.3,239.1 L122.8,237.6 L123.2,236.4 L123.7,237.3 L124.1,242.0 L124.6,237.2 L125.0,238.1 L125.5,239.3 L125.9,237.9 L126.4,236.4 L126.8,237.9 L127.3,239.5 L127.7,231.8 L128.2,239.3 L128.6,237.3 L129.1,235.7 L129.5,239.8 L130.0,237.1 L130.4,239.8 L130.9,238.6 L131.3,239.6 L131.8,234.8 L132.2,240.8 L132.7,237.2 L133.1,238.1 L133.6,241.9 L134.0,234.9 L134.5,239.2 L134.9,238.6 L135.4,237.7 L135.8,239.9 L136.3,239.6 L136.7,238.2 L137.2,239.8 L137.6,238.0 L138.1,235.7 L138.5,240.1 L139.0,241.2 L139.4,238.4 L139.9,237.4 L140.3,236.9 L140.8,240.2 L141.2,242.6 L141.7,236.5 L142.1,236.8 L142.5,235.3 L143.0,240.0 L143.4,237.1 L143.9,236.2 L144.3,241.6 L144.8,236.1 L145.2,235.4 L145.7,237.0 L146.1,237.1 L146.6,236.7 L147.0,238.6 L147.5,240.9 L147.9,239.9 L148.4,238.5 L148.8,239.8 L149.3,236.2 L149.7,238.9 L150.2,238.4 L150.6,241.5 L151.1,237.4 L151.5,239.5 L152.0,235.3 L152.4,241.4 L152.9,237.5 L153.3,238.9 L153.8,238.8 L154.2,234.9 L154.7,236.3 L155.1,239.8 L155.6,235.5 L156.0,239.4 L156.5,236.7 L156.9,241.4 L157.4,238.8 L157.8,238.7 L158.3,238.8 L158.7,241.2 L159.2,241.8 L159.6,238.2 L160.1,237.0 L160.5,238.1 L161.0,238.8 L161.4,241.0 L161.9,238.7 L162.3,239.3 L162.8,239.6 L163.2,237.9 L163.7,237.9 L164.1,237.5 L164.6,238.7 L165.0,239.8 L165.5,238.6 L165.9,238.8 L166.4,241.3 L166.8,238.9 L167.3,241.4 L167.7,242.0 L168.2,239.8 L168.6,239.5 L169.1,237.0 L169.5,238.9 L170.0,237.3 L170.4,235.6 L170.9,238.1 L171.3,237.6 L171.8,239.6 L172.2,236.8 L172.7,238.2 L173.1,238.2 L173.6,240.5 L174.0,240.1 L174.4,239.6 L174.9,238.2 L175.3,236.3 L175.8,241.2 L176.2,239.1 L176.7,239.0 L177.1,234.1 L177.6,238.8 L178.0,239.4 L178.5,237.0 L178.9,240.5 L179.4,237.4 L179.8,241.6 L180.3,234.6 L180.7,238.5 L181.2,239.2 L181.6,240.9 L182.1,238.7 L182.5,238.3 L183.0,239.8 L183.4,236.2 L183.9,239.1 L184.3,238.3 L184.8,237.9 L185.2,235.9 L185.7,239.2 L186.1,238.3 L186.6,237.9 L187.0,237.3 L187.5,241.9 L187.9,236.3 L188.4,238.7 L188.8,239.8 L189.3,238.5 L189.7,242.0 L190.2,239.8 L190.6,238.0 L191.1,235.8 L191.5,238.5 L192.0,237.6 L192.4,238.8 L192.9,236.6 L193.3,238.9 L193.8,237.3 L194.2,238.7 L194.7,239.9 L195.1,239.9 L195.6,239.2 L196.0,235.7 L196.5,231.9 L196.9,238.2 L197.4,239.2 L197.8,236.7 L198.3,236.7 L198.7,238.6 L199.2,233.9 L199.6,235.8 L200.1,235.6 L200.5,237.2 L201.0,237.0 L201.4,235.4 L201.9,239.8 L202.3,238.6 L202.8,236.9 L203.2,239.7 L203.7,233.8 L204.1,238.0 L204.6,237.6 L205.0,236.1 L205.5,233.8" fill="none" stroke="#e9d9bf" stroke-width="0.95" stroke-linejoin="round" opacity="1"/>
<path d="M46.4,241.6 L46.8,249.5 L47.3,253.0 L47.7,249.2 L48.2,251.6 L48.6,238.6 L49.1,240.5 L49.5,253.2 L50.0,243.9 L50.4,238.2 L50.9,231.2 L51.3,241.7 L51.8,237.1 L52.2,233.0 L52.7,237.4 L53.1,235.5 L53.6,236.7 L54.0,234.1 L54.5,237.7 L54.9,235.4 L55.4,238.2 L55.8,233.6 L56.3,234.4 L56.7,235.6 L57.2,235.5 L57.6,235.6 L58.1,236.3 L58.5,235.5 L59.0,235.2 L59.4,236.0 L59.9,236.9 L60.3,236.7 L60.8,236.8 L61.2,235.4 L61.7,236.0 L62.1,233.3 L62.6,236.7 L63.0,236.4 L63.5,237.6 L63.9,236.6 L64.4,237.6 L64.8,238.4 L65.3,236.9 L65.7,234.9 L66.2,238.7 L66.6,238.5 L67.1,237.7 L67.5,237.4 L68.0,236.0 L68.4,239.0 L68.9,238.4 L69.3,239.5 L69.8,239.8 L70.2,239.3 L70.7,240.4 L71.1,238.3 L71.6,237.5 L72.0,239.9 L72.5,240.3 L72.9,237.4 L73.4,239.8 L73.8,237.4 L74.3,243.9 L74.7,239.9 L75.2,241.1 L75.6,240.4 L76.1,238.4 L76.5,238.0 L77.0,239.8 L77.4,238.1 L77.9,241.1 L78.3,239.0 L78.7,239.6 L79.2,241.8 L79.6,238.0 L80.1,240.2 L80.5,238.5 L81.0,240.3 L81.4,238.8 L81.9,238.1 L82.3,238.9 L82.8,239.5 L83.2,237.8 L83.7,238.2 L84.1,239.0 L84.6,238.1 L85.0,238.2 L85.5,238.4 L85.9,236.3 L86.4,234.9 L86.8,238.1 L87.3,237.3 L87.7,238.4 L88.2,238.8 L88.6,235.0 L89.1,237.6 L89.5,236.0 L90.0,238.4 L90.4,237.2 L90.9,235.5 L91.3,235.4 L91.8,235.7 L92.2,235.3 L92.7,235.5 L93.1,234.3 L93.6,233.2 L94.0,234.8 L94.5,235.7 L94.9,237.0 L95.4,236.2 L95.8,236.0 L96.3,233.4 L96.7,237.8 L97.2,236.7 L97.6,237.0 L98.1,234.2 L98.5,236.5 L99.0,238.2 L99.4,238.5 L99.9,235.1 L100.3,237.9 L100.8,233.9 L101.2,234.0 L101.7,237.2 L102.1,236.1 L102.6,235.6 L103.0,237.8 L103.5,237.5 L103.9,236.6 L104.4,235.7 L104.8,235.3 L105.3,238.5 L105.7,235.4 L106.2,235.9 L106.6,236.2 L107.1,236.5 L107.5,234.3 L108.0,233.5 L108.4,236.5 L108.9,236.1 L109.3,238.2 L109.8,236.5 L110.2,234.9 L110.6,236.1 L111.1,235.4 L111.5,236.1 L112.0,235.8 L112.4,235.0 L112.9,234.9 L113.3,238.9 L113.8,236.3 L114.2,240.3 L114.7,236.0 L115.1,236.8 L115.6,236.9 L116.0,233.8 L116.5,235.5 L116.9,234.4 L117.4,235.2 L117.8,233.6 L118.3,236.4 L118.7,236.5 L119.2,236.2 L119.6,232.5 L120.1,236.8 L120.5,236.1 L121.0,234.1 L121.4,234.8 L121.9,236.9 L122.3,233.6 L122.8,235.5 L123.2,234.0 L123.7,235.3 L124.1,235.0 L124.6,237.3 L125.0,234.1 L125.5,237.2 L125.9,236.1 L126.4,234.6 L126.8,236.7 L127.3,236.1 L127.7,236.2 L128.2,236.0 L128.6,235.4 L129.1,238.5 L129.5,237.0 L130.0,233.2 L130.4,239.1 L130.9,237.2 L131.3,235.1 L131.8,239.0 L132.2,237.6 L132.7,237.5 L133.1,234.0 L133.6,237.6 L134.0,235.4 L134.5,237.3 L134.9,236.3 L135.4,238.0 L135.8,238.5 L136.3,237.0 L136.7,238.4 L137.2,236.6 L137.6,236.2 L138.1,235.8 L138.5,234.1 L139.0,234.3 L139.4,238.0 L139.9,237.5 L140.3,233.9 L140.8,236.5 L141.2,237.0 L141.7,234.9 L142.1,237.4 L142.5,235.1 L143.0,236.9 L143.4,234.6 L143.9,236.7 L144.3,235.3 L144.8,234.9 L145.2,234.1 L145.7,237.7 L146.1,237.1 L146.6,238.6 L147.0,239.1 L147.5,237.3 L147.9,236.3 L148.4,234.7 L148.8,237.2 L149.3,233.8 L149.7,236.3 L150.2,235.3 L150.6,237.0 L151.1,238.5 L151.5,234.3 L152.0,237.1 L152.4,235.0 L152.9,237.2 L153.3,235.8 L153.8,236.9 L154.2,237.2 L154.7,236.9 L155.1,235.7 L155.6,238.5 L156.0,238.2 L156.5,235.3 L156.9,237.8 L157.4,236.5 L157.8,238.7 L158.3,237.1 L158.7,235.2 L159.2,236.7 L159.6,236.5 L160.1,237.4 L160.5,236.7 L161.0,239.5 L161.4,239.3 L161.9,236.3 L162.3,239.5 L162.8,235.0 L163.2,235.7 L163.7,238.7 L164.1,240.2 L164.6,240.5 L165.0,236.5 L165.5,237.1 L165.9,235.0 L166.4,236.4 L166.8,234.8 L167.3,235.8 L167.7,238.5 L168.2,237.4 L168.6,238.4 L169.1,237.7 L169.5,238.0 L170.0,237.6 L170.4,235.3 L170.9,238.1 L171.3,239.1 L171.8,238.4 L172.2,238.2 L172.7,238.5 L173.1,238.0 L173.6,238.5 L174.0,236.3 L174.4,236.7 L174.9,239.3 L175.3,236.9 L175.8,236.4 L176.2,238.6 L176.7,240.0 L177.1,238.3 L177.6,239.2 L178.0,238.7 L178.5,241.0 L178.9,236.5 L179.4,240.0 L179.8,239.1 L180.3,241.0 L180.7,240.2 L181.2,244.0 L181.6,242.9 L182.1,244.9 L182.5,240.0 L183.0,243.8 L183.4,244.3 L183.9,240.5 L184.3,243.1 L184.8,242.7 L185.2,240.9 L185.7,241.8 L186.1,242.0 L186.6,241.4 L187.0,245.1 L187.5,240.2 L187.9,240.0 L188.4,239.1 L188.8,244.8 L189.3,242.7 L189.7,242.1 L190.2,238.6 L190.6,240.1 L191.1,238.2 L191.5,240.0 L192.0,241.5 L192.4,242.4 L192.9,241.2 L193.3,238.2 L193.8,241.3 L194.2,242.6 L194.7,239.4 L195.1,237.7 L195.6,236.0 L196.0,237.7 L196.5,238.0 L196.9,241.9 L197.4,239.7 L197.8,239.7 L198.3,238.8 L198.7,240.3 L199.2,237.7 L199.6,236.9 L200.1,238.5 L200.5,239.0 L201.0,238.2 L201.4,237.9 L201.9,237.2 L202.3,239.5 L202.8,236.1 L203.2,238.1 L203.7,238.3 L204.1,237.0 L204.6,239.0 L205.0,236.6 L205.5,234.6" fill="none" stroke="#8b7f70" stroke-width="0.95" stroke-linejoin="round" opacity="1"/>
<path d="M46.4,242.0 L46.8,249.1 L47.3,256.3 L47.7,249.7 L48.2,250.9 L48.6,258.7 L49.1,247.5 L49.5,250.6 L50.0,249.1 L50.4,242.6 L50.9,241.4 L51.3,234.4 L51.8,239.7 L52.2,239.3 L52.7,238.0 L53.1,235.8 L53.6,234.0 L54.0,237.4 L54.5,236.4 L54.9,238.0 L55.4,235.3 L55.8,236.8 L56.3,231.0 L56.7,231.6 L57.2,236.8 L57.6,235.0 L58.1,234.6 L58.5,236.3 L59.0,236.2 L59.4,234.6 L59.9,236.2 L60.3,236.4 L60.8,236.1 L61.2,234.2 L61.7,236.7 L62.1,235.8 L62.6,236.2 L63.0,235.7 L63.5,237.2 L63.9,237.9 L64.4,238.3 L64.8,237.1 L65.3,237.4 L65.7,238.2 L66.2,237.6 L66.6,234.6 L67.1,237.2 L67.5,241.3 L68.0,236.9 L68.4,238.9 L68.9,240.8 L69.3,237.6 L69.8,239.9 L70.2,238.5 L70.7,241.2 L71.1,238.9 L71.6,241.1 L72.0,239.4 L72.5,239.7 L72.9,242.7 L73.4,240.5 L73.8,240.4 L74.3,241.1 L74.7,243.7 L75.2,240.6 L75.6,241.4 L76.1,239.1 L76.5,242.4 L77.0,239.3 L77.4,240.5 L77.9,236.9 L78.3,242.0 L78.7,239.0 L79.2,241.1 L79.6,241.7 L80.1,238.6 L80.5,239.1 L81.0,238.3 L81.4,242.1 L81.9,241.2 L82.3,238.4 L82.8,240.3 L83.2,236.8 L83.7,236.1 L84.1,238.5 L84.6,237.9 L85.0,237.6 L85.5,237.8 L85.9,237.0 L86.4,237.0 L86.8,235.6 L87.3,236.4 L87.7,236.3 L88.2,235.7 L88.6,235.9 L89.1,234.9 L89.5,233.7 L90.0,231.2 L90.4,236.4 L90.9,235.8 L91.3,233.6 L91.8,233.2 L92.2,233.1 L92.7,230.0 L93.1,235.3 L93.6,232.6 L94.0,234.1 L94.5,232.6 L94.9,231.3 L95.4,234.1 L95.8,230.4 L96.3,233.2 L96.7,233.5 L97.2,234.4 L97.6,233.0 L98.1,233.0 L98.5,230.7 L99.0,234.2 L99.4,231.6 L99.9,230.7 L100.3,232.3 L100.8,230.8 L101.2,233.0 L101.7,231.3 L102.1,232.4 L102.6,228.8 L103.0,232.3 L103.5,232.4 L103.9,231.4 L104.4,232.7 L104.8,232.3 L105.3,231.5 L105.7,230.8 L106.2,233.0 L106.6,232.1 L107.1,232.5 L107.5,231.2 L108.0,231.1 L108.4,231.8 L108.9,232.1 L109.3,229.9 L109.8,233.9 L110.2,230.3 L110.6,232.0 L111.1,235.1 L111.5,232.7 L112.0,235.1 L112.4,233.2 L112.9,236.1 L113.3,232.1 L113.8,234.4 L114.2,230.9 L114.7,234.5 L115.1,233.4 L115.6,235.5 L116.0,233.8 L116.5,233.6 L116.9,232.9 L117.4,230.1 L117.8,231.3 L118.3,232.6 L118.7,234.3 L119.2,234.3 L119.6,234.3 L120.1,235.2 L120.5,233.0 L121.0,234.1 L121.4,233.3 L121.9,234.4 L122.3,233.5 L122.8,231.5 L123.2,233.6 L123.7,232.8 L124.1,235.5 L124.6,234.4 L125.0,234.8 L125.5,233.5 L125.9,233.9 L126.4,235.3 L126.8,233.8 L127.3,234.2 L127.7,236.7 L128.2,234.5 L128.6,232.7 L129.1,235.8 L129.5,232.9 L130.0,233.5 L130.4,234.3 L130.9,233.9 L131.3,235.8 L131.8,233.6 L132.2,236.7 L132.7,236.3 L133.1,233.9 L133.6,236.3 L134.0,231.7 L134.5,234.2 L134.9,233.4 L135.4,233.3 L135.8,235.3 L136.3,234.7 L136.7,234.1 L137.2,234.8 L137.6,232.5 L138.1,233.3 L138.5,234.5 L139.0,233.0 L139.4,234.8 L139.9,233.8 L140.3,234.7 L140.8,235.3 L141.2,236.3 L141.7,236.0 L142.1,234.9 L142.5,234.4 L143.0,238.1 L143.4,235.6 L143.9,234.2 L144.3,235.3 L144.8,236.7 L145.2,236.6 L145.7,232.6 L146.1,237.5 L146.6,235.6 L147.0,234.0 L147.5,238.1 L147.9,234.2 L148.4,237.5 L148.8,233.8 L149.3,231.3 L149.7,237.1 L150.2,235.4 L150.6,234.8 L151.1,236.1 L151.5,234.5 L152.0,236.4 L152.4,236.2 L152.9,236.6 L153.3,235.5 L153.8,234.7 L154.2,234.0 L154.7,235.6 L155.1,237.0 L155.6,236.2 L156.0,236.2 L156.5,236.1 L156.9,234.7 L157.4,235.7 L157.8,235.4 L158.3,235.5 L158.7,235.7 L159.2,236.3 L159.6,234.5 L160.1,235.7 L160.5,235.8 L161.0,237.3 L161.4,236.7 L161.9,236.6 L162.3,234.9 L162.8,238.3 L163.2,234.7 L163.7,235.6 L164.1,236.9 L164.6,237.1 L165.0,235.1 L165.5,235.6 L165.9,238.9 L166.4,237.0 L166.8,237.4 L167.3,236.2 L167.7,237.1 L168.2,235.6 L168.6,237.1 L169.1,236.9 L169.5,234.8 L170.0,237.1 L170.4,237.7 L170.9,237.1 L171.3,239.2 L171.8,239.8 L172.2,237.7 L172.7,238.7 L173.1,240.2 L173.6,236.9 L174.0,237.5 L174.4,238.4 L174.9,239.8 L175.3,239.5 L175.8,240.4 L176.2,238.6 L176.7,242.2 L177.1,240.1 L177.6,240.8 L178.0,242.8 L178.5,240.5 L178.9,242.3 L179.4,239.4 L179.8,240.7 L180.3,242.8 L180.7,243.6 L181.2,244.4 L181.6,244.8 L182.1,243.6 L182.5,246.6 L183.0,243.4 L183.4,244.2 L183.9,245.7 L184.3,244.6 L184.8,242.6 L185.2,245.6 L185.7,243.5 L186.1,246.4 L186.6,246.7 L187.0,244.2 L187.5,248.3 L187.9,243.8 L188.4,245.0 L188.8,245.4 L189.3,244.3 L189.7,243.9 L190.2,242.0 L190.6,242.3 L191.1,243.0 L191.5,243.4 L192.0,244.3 L192.4,242.4 L192.9,246.2 L193.3,240.8 L193.8,242.0 L194.2,244.2 L194.7,240.8 L195.1,242.7 L195.6,241.9 L196.0,243.6 L196.5,241.9 L196.9,240.4 L197.4,240.6 L197.8,239.9 L198.3,241.3 L198.7,239.3 L199.2,242.2 L199.6,240.8 L200.1,243.7 L200.5,240.2 L201.0,240.4 L201.4,239.8 L201.9,238.6 L202.3,237.4 L202.8,241.0 L203.2,239.6 L203.7,242.1 L204.1,236.4 L204.6,237.2 L205.0,238.4 L205.5,237.2" fill="none" stroke="#a9c7a2" stroke-width="0.95" stroke-linejoin="round" opacity="1"/>
<path d="M46.4,244.1 L46.8,256.0 L47.3,257.6 L47.7,262.4 L48.2,269.7 L48.6,273.7 L49.1,271.5 L49.5,260.2 L50.0,260.9 L50.4,256.7 L50.9,257.0 L51.3,249.6 L51.8,247.8 L52.2,248.2 L52.7,243.3 L53.1,244.3 L53.6,242.4 L54.0,241.9 L54.5,243.0 L54.9,241.1 L55.4,239.4 L55.8,242.6 L56.3,242.3 L56.7,241.9 L57.2,239.7 L57.6,241.1 L58.1,240.1 L58.5,239.0 L59.0,241.7 L59.4,238.7 L59.9,240.5 L60.3,240.9 L60.8,239.1 L61.2,240.5 L61.7,242.7 L62.1,241.5 L62.6,242.6 L63.0,241.6 L63.5,242.7 L63.9,242.8 L64.4,241.7 L64.8,244.9 L65.3,243.1 L65.7,244.0 L66.2,243.8 L66.6,247.1 L67.1,245.9 L67.5,245.8 L68.0,244.0 L68.4,247.6 L68.9,248.0 L69.3,247.6 L69.8,247.7 L70.2,249.4 L70.7,249.4 L71.1,251.8 L71.6,248.9 L72.0,251.6 L72.5,251.5 L72.9,249.1 L73.4,252.8 L73.8,253.5 L74.3,253.2 L74.7,250.2 L75.2,251.9 L75.6,252.3 L76.1,251.1 L76.5,250.7 L77.0,249.1 L77.4,248.9 L77.9,248.8 L78.3,248.1 L78.7,248.9 L79.2,248.9 L79.6,246.6 L80.1,245.8 L80.5,245.5 L81.0,244.6 L81.4,243.4 L81.9,244.4 L82.3,242.7 L82.8,242.3 L83.2,242.5 L83.7,239.1 L84.1,239.1 L84.6,237.6 L85.0,236.5 L85.5,237.2 L85.9,233.7 L86.4,234.1 L86.8,232.5 L87.3,230.9 L87.7,232.3 L88.2,231.7 L88.6,230.1 L89.1,228.5 L89.5,227.9 L90.0,230.7 L90.4,226.6 L90.9,228.2 L91.3,226.8 L91.8,228.3 L92.2,227.5 L92.7,225.8 L93.1,227.7 L93.6,224.7 L94.0,225.8 L94.5,224.7 L94.9,224.7 L95.4,225.3 L95.8,223.3 L96.3,222.2 L96.7,224.0 L97.2,226.5 L97.6,224.6 L98.1,225.0 L98.5,223.9 L99.0,224.8 L99.4,222.6 L99.9,224.2 L100.3,224.4 L100.8,225.5 L101.2,226.1 L101.7,225.3 L102.1,225.1 L102.6,224.9 L103.0,225.2 L103.5,225.8 L103.9,225.6 L104.4,226.2 L104.8,226.9 L105.3,226.9 L105.7,225.7 L106.2,225.6 L106.6,226.8 L107.1,226.9 L107.5,226.4 L108.0,227.3 L108.4,224.1 L108.9,227.5 L109.3,228.4 L109.8,230.0 L110.2,228.0 L110.6,227.4 L111.1,228.7 L111.5,227.5 L112.0,229.6 L112.4,229.3 L112.9,229.5 L113.3,230.3 L113.8,231.2 L114.2,230.9 L114.7,232.0 L115.1,229.4 L115.6,230.6 L116.0,230.7 L116.5,231.3 L116.9,229.9 L117.4,232.0 L117.8,229.5 L118.3,230.3 L118.7,232.3 L119.2,232.0 L119.6,231.3 L120.1,230.9 L120.5,233.3 L121.0,233.2 L121.4,230.2 L121.9,232.0 L122.3,232.2 L122.8,231.2 L123.2,232.9 L123.7,233.9 L124.1,235.3 L124.6,232.6 L125.0,234.7 L125.5,232.8 L125.9,235.6 L126.4,234.1 L126.8,233.6 L127.3,234.9 L127.7,234.2 L128.2,234.5 L128.6,233.5 L129.1,235.0 L129.5,234.0 L130.0,232.3 L130.4,232.2 L130.9,231.7 L131.3,233.3 L131.8,234.2 L132.2,233.4 L132.7,233.0 L133.1,233.5 L133.6,232.3 L134.0,234.5 L134.5,234.0 L134.9,235.4 L135.4,234.3 L135.8,232.5 L136.3,233.8 L136.7,233.1 L137.2,233.4 L137.6,232.9 L138.1,234.8 L138.5,233.3 L139.0,233.2 L139.4,232.7 L139.9,232.4 L140.3,234.5 L140.8,235.5 L141.2,234.6 L141.7,232.6 L142.1,235.0 L142.5,235.5 L143.0,235.4 L143.4,235.4 L143.9,233.3 L144.3,234.9 L144.8,234.7 L145.2,232.9 L145.7,233.1 L146.1,233.2 L146.6,234.9 L147.0,235.9 L147.5,233.7 L147.9,232.3 L148.4,234.5 L148.8,234.4 L149.3,237.6 L149.7,232.3 L150.2,234.4 L150.6,236.0 L151.1,234.2 L151.5,234.8 L152.0,233.5 L152.4,231.9 L152.9,235.1 L153.3,234.1 L153.8,234.6 L154.2,235.0 L154.7,233.8 L155.1,232.6 L155.6,233.8 L156.0,234.7 L156.5,233.8 L156.9,234.1 L157.4,233.5 L157.8,234.9 L158.3,234.2 L158.7,232.6 L159.2,234.4 L159.6,233.4 L160.1,234.5 L160.5,234.4 L161.0,235.3 L161.4,231.5 L161.9,233.3 L162.3,233.3 L162.8,233.4 L163.2,235.7 L163.7,235.4 L164.1,234.9 L164.6,236.5 L165.0,235.7 L165.5,234.0 L165.9,237.2 L166.4,236.1 L166.8,235.4 L167.3,235.6 L167.7,235.8 L168.2,236.8 L168.6,235.3 L169.1,239.0 L169.5,236.3 L170.0,238.7 L170.4,238.1 L170.9,237.7 L171.3,236.3 L171.8,239.4 L172.2,240.4 L172.7,238.3 L173.1,239.9 L173.6,240.3 L174.0,240.2 L174.4,240.3 L174.9,241.8 L175.3,244.8 L175.8,243.3 L176.2,243.7 L176.7,245.7 L177.1,246.3 L177.6,245.3 L178.0,246.5 L178.5,248.6 L178.9,247.9 L179.4,249.3 L179.8,251.7 L180.3,251.5 L180.7,253.4 L181.2,253.8 L181.6,253.5 L182.1,256.2 L182.5,257.4 L183.0,256.9 L183.4,259.5 L183.9,259.8 L184.3,260.7 L184.8,261.4 L185.2,261.3 L185.7,262.4 L186.1,262.6 L186.6,262.0 L187.0,259.8 L187.5,259.4 L187.9,259.7 L188.4,257.4 L188.8,257.1 L189.3,258.0 L189.7,254.3 L190.2,252.0 L190.6,253.7 L191.1,255.1 L191.5,251.1 L192.0,251.3 L192.4,251.4 L192.9,252.8 L193.3,250.0 L193.8,249.5 L194.2,248.9 L194.7,248.3 L195.1,246.2 L195.6,247.0 L196.0,245.6 L196.5,247.5 L196.9,246.1 L197.4,244.6 L197.8,245.2 L198.3,243.9 L198.7,243.7 L199.2,243.1 L199.6,243.4 L200.1,242.1 L200.5,243.9 L201.0,242.7 L201.4,240.4 L201.9,242.2 L202.3,239.9 L202.8,241.0 L203.2,241.4 L203.7,240.9 L204.1,239.2 L204.6,241.1 L205.0,241.9 L205.5,240.2" fill="none" stroke="#5c845e" stroke-width="0.95" stroke-linejoin="round" opacity="1"/>
<path d="M46.4,247.5 L46.8,259.1 L47.3,276.8 L47.7,280.1 L48.2,285.2 L48.6,284.5 L49.1,281.7 L49.5,275.2 L50.0,270.1 L50.4,263.9 L50.9,256.1 L51.3,256.8 L51.8,256.2 L52.2,253.3 L52.7,250.9 L53.1,250.7 L53.6,245.3 L54.0,243.3 L54.5,246.1 L54.9,243.0 L55.4,244.6 L55.8,243.8 L56.3,244.5 L56.7,241.7 L57.2,239.6 L57.6,239.3 L58.1,239.9 L58.5,240.8 L59.0,239.0 L59.4,238.4 L59.9,241.5 L60.3,240.5 L60.8,241.2 L61.2,242.2 L61.7,243.2 L62.1,243.2 L62.6,242.6 L63.0,242.8 L63.5,243.4 L63.9,242.8 L64.4,245.8 L64.8,247.2 L65.3,248.0 L65.7,247.2 L66.2,249.2 L66.6,251.3 L67.1,249.3 L67.5,249.6 L68.0,251.5 L68.4,251.7 L68.9,254.6 L69.3,255.3 L69.8,254.3 L70.2,254.9 L70.7,256.0 L71.1,256.7 L71.6,257.6 L72.0,255.8 L72.5,258.7 L72.9,258.2 L73.4,257.1 L73.8,259.3 L74.3,258.0 L74.7,258.1 L75.2,257.0 L75.6,259.9 L76.1,257.1 L76.5,257.2 L77.0,254.6 L77.4,255.2 L77.9,255.0 L78.3,252.8 L78.7,252.3 L79.2,251.2 L79.6,250.4 L80.1,249.8 L80.5,250.1 L81.0,247.9 L81.4,246.4 L81.9,244.8 L82.3,243.3 L82.8,242.0 L83.2,241.0 L83.7,239.3 L84.1,239.0 L84.6,237.7 L85.0,234.8 L85.5,234.7 L85.9,233.0 L86.4,232.5 L86.8,232.5 L87.3,230.1 L87.7,226.9 L88.2,227.7 L88.6,227.5 L89.1,225.2 L89.5,225.8 L90.0,225.4 L90.4,226.0 L90.9,225.7 L91.3,223.1 L91.8,222.9 L92.2,222.7 L92.7,221.6 L93.1,222.5 L93.6,221.7 L94.0,222.4 L94.5,222.2 L94.9,221.9 L95.4,220.0 L95.8,220.3 L96.3,222.1 L96.7,221.3 L97.2,220.9 L97.6,221.9 L98.1,220.4 L98.5,222.0 L99.0,221.5 L99.4,221.6 L99.9,223.2 L100.3,223.2 L100.8,222.3 L101.2,220.2 L101.7,220.9 L102.1,221.1 L102.6,222.3 L103.0,222.2 L103.5,221.8 L103.9,221.6 L104.4,223.6 L104.8,222.8 L105.3,223.0 L105.7,220.9 L106.2,223.0 L106.6,223.4 L107.1,221.8 L107.5,223.3 L108.0,222.0 L108.4,224.1 L108.9,221.3 L109.3,223.5 L109.8,223.5 L110.2,224.0 L110.6,224.0 L111.1,224.1 L111.5,224.6 L112.0,223.2 L112.4,227.1 L112.9,226.2 L113.3,225.5 L113.8,225.5 L114.2,224.0 L114.7,225.2 L115.1,226.0 L115.6,227.1 L116.0,224.4 L116.5,225.9 L116.9,224.3 L117.4,228.8 L117.8,225.7 L118.3,227.8 L118.7,228.9 L119.2,228.1 L119.6,228.4 L120.1,229.1 L120.5,230.6 L121.0,229.7 L121.4,231.0 L121.9,229.8 L122.3,231.5 L122.8,230.0 L123.2,230.8 L123.7,229.5 L124.1,231.4 L124.6,232.0 L125.0,232.2 L125.5,230.5 L125.9,226.6 L126.4,232.3 L126.8,231.6 L127.3,229.3 L127.7,230.3 L128.2,229.7 L128.6,230.8 L129.1,230.7 L129.5,231.2 L130.0,232.4 L130.4,231.1 L130.9,232.4 L131.3,230.7 L131.8,234.3 L132.2,233.7 L132.7,231.7 L133.1,231.5 L133.6,229.6 L134.0,232.5 L134.5,231.0 L134.9,233.6 L135.4,229.2 L135.8,234.5 L136.3,230.2 L136.7,232.2 L137.2,233.8 L137.6,232.5 L138.1,230.9 L138.5,232.0 L139.0,232.8 L139.4,231.7 L139.9,231.9 L140.3,231.0 L140.8,231.2 L141.2,232.5 L141.7,232.8 L142.1,231.9 L142.5,232.1 L143.0,231.7 L143.4,233.1 L143.9,231.8 L144.3,232.8 L144.8,231.4 L145.2,231.7 L145.7,232.2 L146.1,233.6 L146.6,230.8 L147.0,232.9 L147.5,232.5 L147.9,232.1 L148.4,231.5 L148.8,232.6 L149.3,232.5 L149.7,233.5 L150.2,230.9 L150.6,232.5 L151.1,232.5 L151.5,234.2 L152.0,232.6 L152.4,231.0 L152.9,230.8 L153.3,233.1 L153.8,231.9 L154.2,231.3 L154.7,233.5 L155.1,232.4 L155.6,231.2 L156.0,230.8 L156.5,233.5 L156.9,233.1 L157.4,230.7 L157.8,232.4 L158.3,231.6 L158.7,233.2 L159.2,230.7 L159.6,231.5 L160.1,230.5 L160.5,233.0 L161.0,232.5 L161.4,233.3 L161.9,233.3 L162.3,233.4 L162.8,231.8 L163.2,233.0 L163.7,232.0 L164.1,232.8 L164.6,231.7 L165.0,231.3 L165.5,231.6 L165.9,232.0 L166.4,233.7 L166.8,233.4 L167.3,235.2 L167.7,236.5 L168.2,237.8 L168.6,237.2 L169.1,237.5 L169.5,236.7 L170.0,239.6 L170.4,238.1 L170.9,241.9 L171.3,241.0 L171.8,239.1 L172.2,242.6 L172.7,243.9 L173.1,244.7 L173.6,242.0 L174.0,243.9 L174.4,246.6 L174.9,247.4 L175.3,250.5 L175.8,249.1 L176.2,248.4 L176.7,253.4 L177.1,251.7 L177.6,253.7 L178.0,254.4 L178.5,258.4 L178.9,259.3 L179.4,260.0 L179.8,262.8 L180.3,264.3 L180.7,267.2 L181.2,268.8 L181.6,271.1 L182.1,272.4 L182.5,274.8 L183.0,277.4 L183.4,281.5 L183.9,282.5 L184.3,282.4 L184.8,281.8 L185.2,284.1 L185.7,283.3 L186.1,282.0 L186.6,279.8 L187.0,277.8 L187.5,277.9 L187.9,276.6 L188.4,276.0 L188.8,273.2 L189.3,272.5 L189.7,270.3 L190.2,269.6 L190.6,265.5 L191.1,265.0 L191.5,264.1 L192.0,260.5 L192.4,259.9 L192.9,256.5 L193.3,254.3 L193.8,254.1 L194.2,253.9 L194.7,253.8 L195.1,252.6 L195.6,249.0 L196.0,249.4 L196.5,250.9 L196.9,250.2 L197.4,248.2 L197.8,247.9 L198.3,247.3 L198.7,246.2 L199.2,247.5 L199.6,246.7 L200.1,244.3 L200.5,244.6 L201.0,244.7 L201.4,244.1 L201.9,242.9 L202.3,242.9 L202.8,243.5 L203.2,243.7 L203.7,241.2 L204.1,243.0 L204.6,239.3 L205.0,242.4 L205.5,241.6" fill="none" stroke="#86adc4" stroke-width="0.95" stroke-linejoin="round" opacity="1"/>
<path d="M46.4,246.2 L46.8,260.7 L47.3,279.8 L47.7,302.3 L48.2,297.1 L48.6,299.0 L49.1,289.7 L49.5,277.9 L50.0,271.4 L50.4,268.8 L50.9,265.1 L51.3,261.4 L51.8,260.7 L52.2,258.3 L52.7,253.5 L53.1,252.7 L53.6,249.6 L54.0,249.0 L54.5,247.3 L54.9,245.1 L55.4,244.0 L55.8,241.8 L56.3,242.6 L56.7,243.3 L57.2,242.5 L57.6,242.7 L58.1,240.9 L58.5,241.7 L59.0,242.4 L59.4,240.1 L59.9,239.3 L60.3,243.1 L60.8,240.4 L61.2,241.7 L61.7,243.5 L62.1,243.5 L62.6,243.4 L63.0,241.2 L63.5,244.0 L63.9,243.4 L64.4,247.0 L64.8,246.5 L65.3,248.4 L65.7,251.6 L66.2,253.2 L66.6,253.6 L67.1,257.3 L67.5,256.9 L68.0,259.3 L68.4,258.8 L68.9,259.2 L69.3,259.8 L69.8,260.9 L70.2,262.3 L70.7,263.4 L71.1,264.4 L71.6,264.7 L72.0,265.0 L72.5,265.6 L72.9,265.3 L73.4,266.7 L73.8,268.0 L74.3,266.0 L74.7,267.7 L75.2,268.8 L75.6,267.9 L76.1,266.8 L76.5,266.1 L77.0,264.8 L77.4,261.9 L77.9,264.2 L78.3,259.9 L78.7,260.1 L79.2,259.2 L79.6,259.9 L80.1,256.3 L80.5,253.4 L81.0,253.0 L81.4,251.2 L81.9,248.7 L82.3,245.1 L82.8,243.5 L83.2,240.3 L83.7,241.0 L84.1,238.3 L84.6,239.1 L85.0,236.7 L85.5,234.1 L85.9,234.2 L86.4,232.1 L86.8,232.6 L87.3,231.0 L87.7,229.3 L88.2,228.7 L88.6,226.8 L89.1,223.7 L89.5,224.5 L90.0,223.2 L90.4,221.1 L90.9,222.0 L91.3,221.5 L91.8,221.2 L92.2,219.0 L92.7,218.6 L93.1,217.0 L93.6,216.5 L94.0,219.9 L94.5,217.3 L94.9,215.6 L95.4,217.3 L95.8,217.2 L96.3,218.4 L96.7,215.8 L97.2,217.9 L97.6,216.6 L98.1,217.0 L98.5,216.1 L99.0,217.0 L99.4,217.0 L99.9,215.6 L100.3,216.8 L100.8,216.0 L101.2,217.8 L101.7,215.7 L102.1,216.9 L102.6,216.4 L103.0,217.0 L103.5,219.6 L103.9,220.8 L104.4,217.1 L104.8,218.9 L105.3,218.9 L105.7,219.5 L106.2,219.4 L106.6,218.6 L107.1,218.1 L107.5,219.5 L108.0,221.6 L108.4,218.8 L108.9,219.3 L109.3,220.4 L109.8,221.3 L110.2,221.5 L110.6,218.9 L111.1,221.0 L111.5,219.3 L112.0,221.0 L112.4,220.1 L112.9,222.2 L113.3,222.8 L113.8,221.9 L114.2,223.8 L114.7,223.7 L115.1,222.0 L115.6,221.1 L116.0,222.8 L116.5,225.0 L116.9,224.5 L117.4,223.5 L117.8,224.0 L118.3,221.5 L118.7,222.2 L119.2,224.7 L119.6,222.3 L120.1,225.7 L120.5,225.9 L121.0,223.5 L121.4,226.3 L121.9,225.9 L122.3,223.7 L122.8,225.9 L123.2,224.1 L123.7,224.8 L124.1,226.0 L124.6,224.8 L125.0,224.3 L125.5,224.6 L125.9,226.4 L126.4,224.5 L126.8,228.0 L127.3,225.8 L127.7,225.4 L128.2,224.5 L128.6,224.0 L129.1,226.9 L129.5,226.1 L130.0,225.6 L130.4,226.0 L130.9,225.1 L131.3,224.8 L131.8,224.7 L132.2,225.8 L132.7,222.0 L133.1,226.6 L133.6,225.6 L134.0,223.7 L134.5,224.5 L134.9,224.5 L135.4,224.0 L135.8,225.5 L136.3,225.2 L136.7,224.1 L137.2,223.5 L137.6,226.6 L138.1,225.8 L138.5,225.2 L139.0,224.2 L139.4,226.5 L139.9,224.1 L140.3,225.8 L140.8,224.3 L141.2,224.8 L141.7,223.5 L142.1,226.2 L142.5,224.4 L143.0,225.3 L143.4,225.7 L143.9,224.0 L144.3,226.0 L144.8,224.1 L145.2,226.0 L145.7,226.1 L146.1,224.1 L146.6,222.5 L147.0,224.2 L147.5,225.7 L147.9,224.3 L148.4,225.0 L148.8,225.3 L149.3,224.3 L149.7,224.0 L150.2,223.6 L150.6,225.6 L151.1,222.7 L151.5,224.7 L152.0,226.1 L152.4,225.3 L152.9,224.3 L153.3,225.3 L153.8,224.2 L154.2,225.4 L154.7,223.4 L155.1,224.3 L155.6,224.8 L156.0,223.6 L156.5,225.7 L156.9,225.0 L157.4,224.3 L157.8,224.6 L158.3,225.1 L158.7,224.3 L159.2,225.9 L159.6,225.5 L160.1,226.6 L160.5,225.9 L161.0,227.2 L161.4,227.3 L161.9,226.3 L162.3,227.6 L162.8,225.9 L163.2,226.0 L163.7,226.7 L164.1,226.9 L164.6,227.5 L165.0,230.2 L165.5,230.4 L165.9,229.7 L166.4,232.1 L166.8,232.6 L167.3,232.8 L167.7,233.3 L168.2,236.1 L168.6,235.1 L169.1,234.9 L169.5,236.2 L170.0,235.7 L170.4,238.5 L170.9,237.5 L171.3,237.5 L171.8,240.0 L172.2,240.8 L172.7,241.9 L173.1,246.5 L173.6,246.3 L174.0,245.8 L174.4,249.7 L174.9,249.6 L175.3,251.0 L175.8,252.0 L176.2,255.6 L176.7,256.9 L177.1,260.5 L177.6,261.7 L178.0,267.0 L178.5,269.9 L178.9,271.9 L179.4,273.5 L179.8,277.9 L180.3,280.8 L180.7,284.3 L181.2,285.7 L181.6,290.8 L182.1,293.6 L182.5,296.7 L183.0,297.9 L183.4,302.3 L183.9,304.0 L184.3,303.9 L184.8,304.2 L185.2,305.4 L185.7,303.8 L186.1,302.3 L186.6,299.9 L187.0,299.0 L187.5,293.9 L187.9,293.6 L188.4,290.4 L188.8,289.2 L189.3,287.1 L189.7,284.0 L190.2,282.2 L190.6,280.6 L191.1,274.8 L191.5,272.7 L192.0,267.3 L192.4,266.5 L192.9,262.7 L193.3,260.5 L193.8,259.2 L194.2,257.3 L194.7,255.3 L195.1,253.3 L195.6,251.7 L196.0,250.5 L196.5,249.3 L196.9,250.6 L197.4,245.8 L197.8,245.8 L198.3,247.3 L198.7,246.3 L199.2,247.2 L199.6,247.6 L200.1,244.5 L200.5,241.8 L201.0,242.9 L201.4,242.5 L201.9,242.3 L202.3,241.4 L202.8,241.8 L203.2,242.3 L203.7,241.8 L204.1,240.3 L204.6,241.3 L205.0,242.8 L205.5,240.1" fill="none" stroke="#4f4a4a" stroke-width="0.95" stroke-linejoin="round" opacity="1"/>
<rect x="46.4" y="197.5" width="159.2" height="128.7" fill="none" stroke="#6f6767" stroke-width="1"/>
<line x1="46.40" y1="209.00" x2="49.40" y2="209.00" stroke="#6f6767" stroke-width="1"/>
<text x="43" y="212.4" font-size="9.6" text-anchor="end" font-weight="normal" fill="#2a2424">5.0E-3</text>
<line x1="46.40" y1="238.40" x2="49.40" y2="238.40" stroke="#6f6767" stroke-width="1"/>
<text x="43" y="241.8" font-size="9.6" text-anchor="end" font-weight="normal" fill="#2a2424">0.0E+0</text>
<line x1="46.40" y1="267.80" x2="49.40" y2="267.80" stroke="#6f6767" stroke-width="1"/>
<text x="43" y="271.2" font-size="9.6" text-anchor="end" font-weight="normal" fill="#2a2424">-5.0E-3</text>
<line x1="46.40" y1="297.20" x2="49.40" y2="297.20" stroke="#6f6767" stroke-width="1"/>
<text x="43" y="300.59999999999997" font-size="9.6" text-anchor="end" font-weight="normal" fill="#2a2424">-1.0E-2</text>
<line x1="46.40" y1="326.60" x2="49.40" y2="326.60" stroke="#6f6767" stroke-width="1"/>
<text x="43" y="330.0" font-size="9.6" text-anchor="end" font-weight="normal" fill="#2a2424">-1.5E-2</text>
<line x1="46.40" y1="223.70" x2="48.20" y2="223.70" stroke="#6f6767" stroke-width="1"/>
<line x1="46.40" y1="253.10" x2="48.20" y2="253.10" stroke="#6f6767" stroke-width="1"/>
<line x1="46.40" y1="282.50" x2="48.20" y2="282.50" stroke="#6f6767" stroke-width="1"/>
<line x1="46.40" y1="311.90" x2="48.20" y2="311.90" stroke="#6f6767" stroke-width="1"/>
<line x1="46.40" y1="326.20" x2="46.40" y2="323.20" stroke="#6f6767" stroke-width="1"/>
<text x="46.4" y="335.8" font-size="9.7" text-anchor="middle" font-weight="normal" fill="#2a2424">400</text>
<line x1="81.78" y1="326.20" x2="81.78" y2="323.20" stroke="#6f6767" stroke-width="1"/>
<text x="81.77777777777777" y="335.8" font-size="9.7" text-anchor="middle" font-weight="normal" fill="#2a2424">500</text>
<line x1="117.16" y1="326.20" x2="117.16" y2="323.20" stroke="#6f6767" stroke-width="1"/>
<text x="117.15555555555554" y="335.8" font-size="9.7" text-anchor="middle" font-weight="normal" fill="#2a2424">600</text>
<line x1="152.53" y1="326.20" x2="152.53" y2="323.20" stroke="#6f6767" stroke-width="1"/>
<text x="152.53333333333333" y="335.8" font-size="9.7" text-anchor="middle" font-weight="normal" fill="#2a2424">700</text>
<line x1="187.91" y1="326.20" x2="187.91" y2="323.20" stroke="#6f6767" stroke-width="1"/>
<text x="187.9111111111111" y="335.8" font-size="9.7" text-anchor="middle" font-weight="normal" fill="#2a2424">800</text>
<line x1="64.09" y1="326.20" x2="64.09" y2="324.40" stroke="#6f6767" stroke-width="1"/>
<line x1="99.47" y1="326.20" x2="99.47" y2="324.40" stroke="#6f6767" stroke-width="1"/>
<line x1="134.84" y1="326.20" x2="134.84" y2="324.40" stroke="#6f6767" stroke-width="1"/>
<line x1="170.22" y1="326.20" x2="170.22" y2="324.40" stroke="#6f6767" stroke-width="1"/>
<text x="125.5" y="349.8" font-size="10.8" text-anchor="middle" font-weight="normal" fill="#2a2424">Wavelength (nm)</text>
<text x="9.8" y="254.7" font-size="10.1" text-anchor="middle" font-weight="normal" fill="#2a2424" transform="rotate(-90 9.8 254.7)">ΔA (OD)</text>
<text x="198.2" y="212.3" font-size="10.5" text-anchor="end" font-weight="normal" fill="#2a2424">ROI-SAM</text>
<text x="126.7" y="256.6" font-size="8.9" text-anchor="start" font-weight="normal" fill="#2a2424">Delay Time</text>
<line x1="126.70" y1="264.00" x2="142.90" y2="264.00" stroke="#4f4a4a" stroke-width="1.2"/>
<text x="146" y="267" font-size="8.9" text-anchor="start" font-weight="normal" fill="#2a2424">1 ns</text>
<line x1="126.70" y1="275.10" x2="142.90" y2="275.10" stroke="#86adc4" stroke-width="1.2"/>
<text x="146" y="278.1" font-size="8.9" text-anchor="start" font-weight="normal" fill="#2a2424">3 ns</text>
<line x1="126.70" y1="285.10" x2="142.90" y2="285.10" stroke="#5c845e" stroke-width="1.2"/>
<text x="146" y="288.1" font-size="8.9" text-anchor="start" font-weight="normal" fill="#2a2424">10 ns</text>
<line x1="126.70" y1="296.20" x2="142.90" y2="296.20" stroke="#a9c7a2" stroke-width="1.2"/>
<text x="146" y="299.2" font-size="8.9" text-anchor="start" font-weight="normal" fill="#2a2424">50 ns</text>
<line x1="126.70" y1="306.60" x2="142.90" y2="306.60" stroke="#8b7f70" stroke-width="1.2"/>
<text x="146" y="309.6" font-size="8.9" text-anchor="start" font-weight="normal" fill="#2a2424">100 ns</text>
<line x1="126.70" y1="317.50" x2="142.90" y2="317.50" stroke="#e9d9bf" stroke-width="1.2"/>
<text x="146" y="320.5" font-size="8.9" text-anchor="start" font-weight="normal" fill="#2a2424">1000 ns</text>
<text x="15.8" y="374.3" font-size="15.5" text-anchor="start" font-weight="bold" fill="#1c1414">g</text>
<path d="M44.6,507.9 L46.1,510.7 L47.6,514.0 L49.1,512.9 L50.6,509.8 L52.1,505.4 L53.6,509.8 L55.1,508.5 L56.6,509.8 L58.1,514.0 L59.6,511.0 L60.2,399.4 L60.8,399.3 L62.3,398.6 L63.8,400.7 L65.3,401.1 L66.8,403.7 L68.3,407.6 L69.8,407.7 L71.3,411.0 L72.8,414.0 L74.3,414.6 L75.8,416.1 L77.3,417.0 L78.8,417.7 L80.3,416.5 L81.8,421.6 L83.3,420.6 L84.8,424.6 L86.3,426.5 L87.8,427.4 L89.3,431.7 L90.8,431.8 L92.3,431.7 L93.8,436.1 L95.3,436.4 L96.8,437.0 L98.3,438.0 L99.8,438.9 L101.3,444.5 L102.8,442.7 L104.3,446.0 L105.8,448.4 L107.3,454.7 L108.8,453.3 L110.3,457.1 L111.8,456.9 L113.3,460.5 L114.8,463.7 L116.3,467.8 L117.8,469.3 L119.3,469.3 L120.8,474.0 L122.3,473.6 L123.8,474.0 L125.3,475.5 L126.8,477.8 L128.3,478.7 L129.8,481.0 L131.3,486.4 L132.8,483.4 L134.3,488.9 L135.8,486.2 L137.3,487.9 L138.8,492.7 L140.3,490.7 L141.8,489.8 L143.3,490.9 L144.8,493.8 L146.3,496.1 L147.8,493.7 L149.3,498.6 L150.8,499.3 L152.3,496.5 L153.8,500.3 L155.3,498.3 L156.8,501.6 L158.3,501.6 L159.8,499.5 L161.3,502.0 L162.8,501.4 L164.3,503.3 L165.8,504.2 L167.3,505.2 L168.8,506.1 L170.3,504.5 L171.8,504.8 L173.3,503.2 L174.8,505.7 L176.3,506.8 L177.8,505.9 L179.3,504.7 L180.8,509.4 L182.3,504.8 L183.8,509.0 L185.3,509.3 L186.8,504.6 L188.3,507.6 L189.8,510.6 L191.3,508.7 L192.8,508.0 L194.3,509.3 L195.8,508.8 L197.3,510.1 L198.8,510.0 L200.3,512.8 L201.8,512.8 L203.3,511.1 L204.8,513.7 L206.3,510.7 L207.8,512.1 L209.3,510.3" fill="none" stroke="#dcc095" stroke-width="1.3" stroke-linejoin="round" opacity="1"/>
<path d="M44.6,508.6 L46.1,511.7 L47.6,510.3 L49.1,507.4 L50.6,511.1 L52.1,508.0 L53.6,508.8 L55.1,510.3 L56.6,507.7 L58.1,508.3 L59.6,511.0 L60.2,396.4 L60.8,395.4 L62.3,401.3 L63.8,403.8 L65.3,399.8 L66.8,405.8 L68.3,408.3 L69.8,420.8 L71.3,418.4 L72.8,416.9 L74.3,418.4 L75.8,419.5 L77.3,422.7 L78.8,426.0 L80.3,429.0 L81.8,432.4 L83.3,432.2 L84.8,432.1 L86.3,434.7 L87.8,440.3 L89.3,434.7 L90.8,440.7 L92.3,439.9 L93.8,444.4 L95.3,443.1 L96.8,447.6 L98.3,446.0 L99.8,448.5 L101.3,454.9 L102.8,461.9 L104.3,458.0 L105.8,462.7 L107.3,460.9 L108.8,463.9 L110.3,467.0 L111.8,469.6 L113.3,470.6 L114.8,467.4 L116.3,469.9 L117.8,474.5 L119.3,475.9 L120.8,476.5 L122.3,479.9 L123.8,484.2 L125.3,478.6 L126.8,483.3 L128.3,484.7 L129.8,484.4 L131.3,487.5 L132.8,489.0 L134.3,487.8 L135.8,490.7 L137.3,489.4 L138.8,490.3 L140.3,488.2 L141.8,493.4 L143.3,493.7 L144.8,495.7 L146.3,493.1 L147.8,495.1 L149.3,495.9 L150.8,493.6 L152.3,497.4 L153.8,498.0 L155.3,501.6 L156.8,502.8 L158.3,500.8 L159.8,499.9 L161.3,502.6 L162.8,502.7 L164.3,499.8 L165.8,502.6 L167.3,502.8 L168.8,502.5 L170.3,504.1 L171.8,500.5 L173.3,499.6 L174.8,500.5 L176.3,499.7 L177.8,506.6 L179.3,501.2 L180.8,503.2 L182.3,500.1 L183.8,503.9 L185.3,501.0 L186.8,499.0 L188.3,501.1 L189.8,501.9 L191.3,502.6 L192.8,501.6 L194.3,503.3 L195.8,505.5 L197.3,502.3 L198.8,500.4 L200.3,502.9 L201.8,501.5 L203.3,501.0 L204.8,503.0 L206.3,502.9 L207.8,503.7 L209.3,501.1" fill="none" stroke="#3a6a4e" stroke-width="1.3" stroke-linejoin="round" opacity="1"/>
<rect x="44.4" y="380" width="165.6" height="133.20000000000005" fill="none" stroke="#6f6767" stroke-width="1"/>
<line x1="44.40" y1="513.40" x2="47.40" y2="513.40" stroke="#6f6767" stroke-width="1"/>
<text x="41.3" y="516.1999999999999" font-size="9.7" text-anchor="end" font-weight="normal" fill="#2a2424">0.0</text>
<line x1="44.40" y1="489.40" x2="47.40" y2="489.40" stroke="#6f6767" stroke-width="1"/>
<text x="41.3" y="492.2" font-size="9.7" text-anchor="end" font-weight="normal" fill="#2a2424">0.2</text>
<line x1="44.40" y1="465.40" x2="47.40" y2="465.40" stroke="#6f6767" stroke-width="1"/>
<text x="41.3" y="468.2" font-size="9.7" text-anchor="end" font-weight="normal" fill="#2a2424">0.4</text>
<line x1="44.40" y1="441.40" x2="47.40" y2="441.40" stroke="#6f6767" stroke-width="1"/>
<text x="41.3" y="444.2" font-size="9.7" text-anchor="end" font-weight="normal" fill="#2a2424">0.6</text>
<line x1="44.40" y1="417.40" x2="47.40" y2="417.40" stroke="#6f6767" stroke-width="1"/>
<text x="41.3" y="420.2" font-size="9.7" text-anchor="end" font-weight="normal" fill="#2a2424">0.8</text>
<line x1="44.40" y1="393.40" x2="47.40" y2="393.40" stroke="#6f6767" stroke-width="1"/>
<text x="41.3" y="396.2" font-size="9.7" text-anchor="end" font-weight="normal" fill="#2a2424">1.0</text>
<line x1="44.40" y1="501.40" x2="46.20" y2="501.40" stroke="#6f6767" stroke-width="1"/>
<line x1="44.40" y1="477.40" x2="46.20" y2="477.40" stroke="#6f6767" stroke-width="1"/>
<line x1="44.40" y1="453.40" x2="46.20" y2="453.40" stroke="#6f6767" stroke-width="1"/>
<line x1="44.40" y1="429.40" x2="46.20" y2="429.40" stroke="#6f6767" stroke-width="1"/>
<line x1="44.40" y1="405.40" x2="46.20" y2="405.40" stroke="#6f6767" stroke-width="1"/>
<line x1="59.40" y1="513.20" x2="59.40" y2="510.20" stroke="#6f6767" stroke-width="1"/>
<text x="59.4" y="523.8" font-size="9.7" text-anchor="middle" font-weight="normal" fill="#2a2424">0</text>
<line x1="89.40" y1="513.20" x2="89.40" y2="510.20" stroke="#6f6767" stroke-width="1"/>
<text x="89.4" y="523.8" font-size="9.7" text-anchor="middle" font-weight="normal" fill="#2a2424">0.01</text>
<line x1="129.40" y1="513.20" x2="129.40" y2="510.20" stroke="#6f6767" stroke-width="1"/>
<text x="129.4" y="523.8" font-size="9.7" text-anchor="middle" font-weight="normal" fill="#2a2424">0.1</text>
<line x1="169.40" y1="513.20" x2="169.40" y2="510.20" stroke="#6f6767" stroke-width="1"/>
<text x="169.4" y="523.8" font-size="9.7" text-anchor="middle" font-weight="normal" fill="#2a2424">1</text>
<line x1="209.40" y1="513.20" x2="209.40" y2="510.20" stroke="#6f6767" stroke-width="1"/>
<text x="209.4" y="523.8" font-size="9.7" text-anchor="middle" font-weight="normal" fill="#2a2424">10</text>
<line x1="101.44" y1="513.20" x2="101.44" y2="511.60" stroke="#6f6767" stroke-width="1"/>
<line x1="108.48" y1="513.20" x2="108.48" y2="511.60" stroke="#6f6767" stroke-width="1"/>
<line x1="113.48" y1="513.20" x2="113.48" y2="511.60" stroke="#6f6767" stroke-width="1"/>
<line x1="117.36" y1="513.20" x2="117.36" y2="511.60" stroke="#6f6767" stroke-width="1"/>
<line x1="120.53" y1="513.20" x2="120.53" y2="511.60" stroke="#6f6767" stroke-width="1"/>
<line x1="123.20" y1="513.20" x2="123.20" y2="511.60" stroke="#6f6767" stroke-width="1"/>
<line x1="125.52" y1="513.20" x2="125.52" y2="511.60" stroke="#6f6767" stroke-width="1"/>
<line x1="127.57" y1="513.20" x2="127.57" y2="511.60" stroke="#6f6767" stroke-width="1"/>
<line x1="141.44" y1="513.20" x2="141.44" y2="511.60" stroke="#6f6767" stroke-width="1"/>
<line x1="148.48" y1="513.20" x2="148.48" y2="511.60" stroke="#6f6767" stroke-width="1"/>
<line x1="153.48" y1="513.20" x2="153.48" y2="511.60" stroke="#6f6767" stroke-width="1"/>
<line x1="157.36" y1="513.20" x2="157.36" y2="511.60" stroke="#6f6767" stroke-width="1"/>
<line x1="160.53" y1="513.20" x2="160.53" y2="511.60" stroke="#6f6767" stroke-width="1"/>
<line x1="163.20" y1="513.20" x2="163.20" y2="511.60" stroke="#6f6767" stroke-width="1"/>
<line x1="165.52" y1="513.20" x2="165.52" y2="511.60" stroke="#6f6767" stroke-width="1"/>
<line x1="167.57" y1="513.20" x2="167.57" y2="511.60" stroke="#6f6767" stroke-width="1"/>
<line x1="181.44" y1="513.20" x2="181.44" y2="511.60" stroke="#6f6767" stroke-width="1"/>
<line x1="188.48" y1="513.20" x2="188.48" y2="511.60" stroke="#6f6767" stroke-width="1"/>
<line x1="193.48" y1="513.20" x2="193.48" y2="511.60" stroke="#6f6767" stroke-width="1"/>
<line x1="197.36" y1="513.20" x2="197.36" y2="511.60" stroke="#6f6767" stroke-width="1"/>
<line x1="200.53" y1="513.20" x2="200.53" y2="511.60" stroke="#6f6767" stroke-width="1"/>
<line x1="203.20" y1="513.20" x2="203.20" y2="511.60" stroke="#6f6767" stroke-width="1"/>
<line x1="205.52" y1="513.20" x2="205.52" y2="511.60" stroke="#6f6767" stroke-width="1"/>
<line x1="207.57" y1="513.20" x2="207.57" y2="511.60" stroke="#6f6767" stroke-width="1"/>
<line x1="59.00" y1="383.40" x2="61.60" y2="378.20" stroke="#3a3434" stroke-width="0.9"/>
<text x="127.3" y="535.8" font-size="10.8" text-anchor="middle" font-weight="normal" fill="#2a2424">Delay Time (μs)</text>
<text x="24" y="445.8" font-size="11.1" text-anchor="middle" font-weight="normal" fill="#2a2424" transform="rotate(-90 24 445.8)">Normalized ΔA (arb.units)</text>
<text x="122.6" y="395.2" font-size="10.1" text-anchor="start" font-weight="normal" fill="#2a2424">Probe @ 540 nm</text>
<line x1="123.00" y1="403.40" x2="145.00" y2="403.40" stroke="#3a6a4e" stroke-width="1.3"/>
<line x1="123.00" y1="416.40" x2="145.00" y2="416.40" stroke="#dcc095" stroke-width="1.3"/>
<text x="148" y="407" font-size="10.1" text-anchor="start" font-weight="normal" fill="#2a2424">ROI-SAM</text>
<text x="148" y="420" font-size="10.1" text-anchor="start" font-weight="normal" fill="#2a2424">Pristine-SAM</text>
<rect x="289" y="200" width="1" height="129" fill="rgb(239,236,231)"/>
<rect x="290" y="200" width="2" height="129" fill="rgb(238,235,230)"/>
<rect x="292" y="200" width="1" height="129" fill="rgb(236,233,228)"/>
<rect x="293" y="200" width="3" height="129" fill="rgb(235,232,227)"/>
<rect x="296" y="200" width="1" height="129" fill="rgb(234,231,226)"/>
<rect x="297" y="200" width="1" height="129" fill="rgb(235,232,227)"/>
<rect x="298" y="200" width="3" height="129" fill="rgb(236,233,228)"/>
<rect x="301" y="200" width="1" height="129" fill="rgb(233,230,225)"/>
<rect x="302" y="200" width="2" height="129" fill="rgb(236,233,228)"/>
<rect x="304" y="200" width="1" height="129" fill="rgb(239,236,231)"/>
<rect x="305" y="200" width="1" height="129" fill="rgb(238,235,230)"/>
<rect x="306" y="200" width="2" height="129" fill="rgb(235,232,227)"/>
<rect x="308" y="200" width="1" height="129" fill="rgb(241,238,233)"/>
<rect x="309" y="200" width="1" height="129" fill="rgb(238,235,230)"/>
<rect x="310" y="200" width="2" height="129" fill="rgb(240,237,232)"/>
<rect x="312" y="200" width="1" height="129" fill="rgb(235,232,227)"/>
<rect x="313" y="200" width="6" height="129" fill="rgb(237,234,229)"/>
<rect x="319" y="200" width="1" height="129" fill="rgb(233,230,225)"/>
<rect x="320" y="200" width="1" height="129" fill="rgb(236,233,228)"/>
<rect x="321" y="200" width="1" height="129" fill="rgb(235,232,227)"/>
<rect x="322" y="200" width="1" height="129" fill="rgb(237,234,229)"/>
<rect x="323" y="200" width="1" height="129" fill="rgb(236,233,228)"/>
<rect x="324" y="200" width="4" height="129" fill="rgb(238,235,230)"/>
<rect x="328" y="200" width="1" height="129" fill="rgb(237,234,229)"/>
<rect x="329" y="200" width="3" height="129" fill="rgb(236,233,228)"/>
<rect x="332" y="200" width="3" height="129" fill="rgb(237,234,229)"/>
<rect x="335" y="200" width="1" height="129" fill="rgb(234,231,226)"/>
<rect x="336" y="200" width="1" height="129" fill="rgb(238,235,230)"/>
<rect x="337" y="200" width="2" height="129" fill="rgb(235,232,227)"/>
<rect x="339" y="200" width="2" height="129" fill="rgb(236,233,228)"/>
<rect x="341" y="200" width="1" height="129" fill="rgb(237,234,229)"/>
<rect x="342" y="200" width="1" height="129" fill="rgb(235,232,227)"/>
<rect x="343" y="200" width="2" height="129" fill="rgb(234,231,226)"/>
<rect x="345" y="200" width="1" height="129" fill="rgb(239,236,231)"/>
<rect x="346" y="200" width="1" height="129" fill="rgb(237,234,229)"/>
<rect x="347" y="200" width="1" height="129" fill="rgb(234,231,226)"/>
<rect x="348" y="200" width="1" height="129" fill="rgb(237,234,229)"/>
<rect x="349" y="200" width="1" height="129" fill="rgb(233,230,225)"/>
<rect x="350" y="200" width="1" height="129" fill="rgb(240,237,232)"/>
<rect x="351" y="200" width="1" height="129" fill="rgb(233,230,225)"/>
<rect x="352" y="200" width="2" height="129" fill="rgb(237,234,229)"/>
<rect x="354" y="200" width="1" height="129" fill="rgb(234,231,226)"/>
<rect x="355" y="200" width="1" height="129" fill="rgb(237,234,229)"/>
<rect x="356" y="200" width="1" height="129" fill="rgb(238,235,230)"/>
<rect x="357" y="200" width="2" height="129" fill="rgb(237,234,229)"/>
<rect x="359" y="200" width="1" height="129" fill="rgb(238,235,230)"/>
<rect x="360" y="200" width="3" height="129" fill="rgb(237,234,229)"/>
<rect x="363" y="200" width="1" height="129" fill="rgb(238,235,230)"/>
<rect x="364" y="200" width="1" height="129" fill="rgb(235,232,227)"/>
<rect x="365" y="200" width="1" height="129" fill="rgb(238,235,230)"/>
<rect x="366" y="200" width="1" height="129" fill="rgb(235,232,227)"/>
<rect x="367" y="200" width="1" height="129" fill="rgb(234,231,226)"/>
<rect x="368" y="200" width="1" height="129" fill="rgb(237,234,229)"/>
<rect x="369" y="200" width="1" height="129" fill="rgb(240,237,232)"/>
<rect x="370" y="200" width="1" height="129" fill="rgb(238,235,230)"/>
<rect x="371" y="200" width="1" height="129" fill="rgb(235,232,227)"/>
<rect x="372" y="200" width="1" height="129" fill="rgb(238,235,230)"/>
<rect x="373" y="200" width="2" height="129" fill="rgb(236,233,228)"/>
<rect x="375" y="200" width="1" height="129" fill="rgb(237,234,229)"/>
<rect x="376" y="200" width="1" height="129" fill="rgb(232,229,224)"/>
<rect x="377" y="200" width="1" height="129" fill="rgb(237,234,229)"/>
<rect x="378" y="200" width="2" height="129" fill="rgb(234,231,226)"/>
<rect x="380" y="200" width="2" height="129" fill="rgb(234,231,226)"/>
<rect x="382" y="200" width="1" height="129" fill="rgb(235,232,227)"/>
<rect x="383" y="200" width="1" height="129" fill="rgb(238,235,230)"/>
<rect x="384" y="200" width="1" height="129" fill="rgb(240,237,232)"/>
<rect x="385" y="200" width="1" height="129" fill="rgb(236,233,228)"/>
<rect x="386" y="200" width="1" height="129" fill="rgb(239,236,231)"/>
<rect x="387" y="200" width="1" height="129" fill="rgb(236,233,228)"/>
<rect x="388" y="200" width="1" height="129" fill="rgb(233,230,225)"/>
<rect x="389" y="200" width="2" height="129" fill="rgb(237,234,229)"/>
<rect x="391" y="200" width="1" height="129" fill="rgb(236,233,228)"/>
<rect x="392" y="200" width="2" height="129" fill="rgb(237,234,229)"/>
<rect x="394" y="200" width="1" height="129" fill="rgb(235,232,227)"/>
<rect x="395" y="200" width="1" height="129" fill="rgb(234,231,226)"/>
<rect x="396" y="200" width="3" height="129" fill="rgb(236,233,228)"/>
<rect x="399" y="200" width="1" height="129" fill="rgb(238,235,230)"/>
<rect x="400" y="200" width="1" height="129" fill="rgb(240,237,232)"/>
<rect x="401" y="200" width="1" height="129" fill="rgb(236,233,228)"/>
<rect x="402" y="200" width="4" height="129" fill="rgb(238,235,230)"/>
<rect x="406" y="200" width="1" height="129" fill="rgb(236,233,228)"/>
<rect x="407" y="200" width="1" height="129" fill="rgb(238,235,230)"/>
<rect x="408" y="200" width="1" height="129" fill="rgb(241,238,233)"/>
<rect x="409" y="200" width="1" height="129" fill="rgb(238,235,230)"/>
<rect x="410" y="200" width="1" height="129" fill="rgb(235,232,227)"/>
<rect x="411" y="200" width="1" height="129" fill="rgb(238,235,230)"/>
<rect x="412" y="200" width="1" height="129" fill="rgb(239,236,231)"/>
<rect x="413" y="200" width="1" height="129" fill="rgb(237,234,229)"/>
<rect x="414" y="200" width="1" height="129" fill="rgb(235,232,227)"/>
<rect x="415" y="200" width="1" height="129" fill="rgb(240,237,232)"/>
<rect x="416" y="200" width="1" height="129" fill="rgb(234,231,226)"/>
<rect x="417" y="200" width="1" height="129" fill="rgb(238,235,230)"/>
<rect x="418" y="200" width="1" height="129" fill="rgb(236,233,228)"/>
<rect x="419" y="200" width="1" height="129" fill="rgb(234,231,226)"/>
<rect x="420" y="200" width="1" height="129" fill="rgb(239,236,231)"/>
<rect x="421" y="200" width="1" height="129" fill="rgb(237,234,229)"/>
<rect x="422" y="200" width="1" height="129" fill="rgb(234,231,226)"/>
<rect x="423" y="200" width="1" height="129" fill="rgb(238,235,230)"/>
<rect x="424" y="200" width="1" height="129" fill="rgb(236,233,228)"/>
<defs><filter id="fhet" filterUnits="userSpaceOnUse" x="289" y="200" width="136" height="129" color-interpolation-filters="sRGB"><feComponentTransfer in="SourceAlpha" result="ind"><feFuncA type="linear" slope="15" intercept="0"/></feComponentTransfer><feTurbulence type="fractalNoise" baseFrequency="0.9 0.270" numOctaves="1" seed="21" result="T"/><feColorMatrix in="T" type="matrix" values="0 0 0 0 0  0 0 0 0 0  0 0 0 0 0  1 0 0 0 -0.5" result="P"/><feColorMatrix in="T" type="matrix" values="0 0 0 0 0  0 0 0 0 0  0 0 0 0 0  -1 0 0 0 0.5" result="Q"/><feComposite in="ind" in2="P" operator="arithmetic" k1="1" k2="0" k3="0" k4="0" result="PP"/><feComposite in="ind" in2="Q" operator="arithmetic" k1="1" k2="0" k3="0" k4="0" result="QQ"/><feComposite in="SourceGraphic" in2="QQ" operator="arithmetic" k1="0" k2="1" k3="-0.1500" k4="0" result="S1"/><feComposite in="S1" in2="PP" operator="arithmetic" k1="0" k2="1" k3="0.1500" k4="0" result="S2"/><feComponentTransfer in="S2" result="S3"><feFuncA type="linear" slope="3" intercept="0"/></feComponentTransfer><feColorMatrix in="S3" type="matrix" values="0 0 0 0 0.5882  0 0 0 0 0.5451  0 0 0 0 0.4863  0 0 0 1 0"/></filter><linearGradient id="het0" x1="0" y1="0" x2="0" y2="1"><stop offset="0.004" stop-opacity="0.031"/><stop offset="0.430" stop-opacity="0.056"/><stop offset="0.570" stop-opacity="0.082"/><stop offset="0.624" stop-opacity="0.103"/><stop offset="0.686" stop-opacity="0.162"/><stop offset="0.694" stop-opacity="0.176"/><stop offset="0.733" stop-opacity="0.295"/><stop offset="0.740" stop-opacity="0.412"/><stop offset="0.748" stop-opacity="0.498"/><stop offset="0.981" stop-opacity="0.499"/><stop offset="0.988" stop-opacity="0.000"/><stop offset="0.996" stop-opacity="0.000"/></linearGradient><linearGradient id="het4" x1="0" y1="0" x2="0" y2="1"><stop offset="0.004" stop-opacity="0.027"/><stop offset="0.430" stop-opacity="0.054"/><stop offset="0.570" stop-opacity="0.081"/><stop offset="0.624" stop-opacity="0.101"/><stop offset="0.686" stop-opacity="0.161"/><stop offset="0.694" stop-opacity="0.175"/><stop offset="0.733" stop-opacity="0.293"/><stop offset="0.740" stop-opacity="0.403"/><stop offset="0.748" stop-opacity="0.489"/><stop offset="0.981" stop-opacity="0.499"/><stop offset="0.988" stop-opacity="0.000"/><stop offset="0.996" stop-opacity="0.000"/></linearGradient><linearGradient id="het5" x1="0" y1="0" x2="0" y2="1"><stop offset="0.004" stop-opacity="0.004"/><stop offset="0.407" stop-opacity="0.029"/><stop offset="0.616" stop-opacity="0.078"/><stop offset="0.686" stop-opacity="0.139"/><stop offset="0.694" stop-opacity="0.152"/><stop offset="0.740" stop-opacity="0.283"/><stop offset="0.748" stop-opacity="0.298"/><stop offset="0.756" stop-opacity="0.304"/><stop offset="0.795" stop-opacity="0.370"/><stop offset="0.841" stop-opacity="0.419"/><stop offset="0.911" stop-opacity="0.460"/><stop offset="0.981" stop-opacity="0.479"/><stop offset="0.988" stop-opacity="0.000"/><stop offset="0.996" stop-opacity="0.000"/></linearGradient><linearGradient id="het6" x1="0" y1="0" x2="0" y2="1"><stop offset="0.004" stop-opacity="0.000"/><stop offset="0.492" stop-opacity="0.005"/><stop offset="0.640" stop-opacity="0.023"/><stop offset="0.694" stop-opacity="0.052"/><stop offset="0.802" stop-opacity="0.190"/><stop offset="0.872" stop-opacity="0.252"/><stop offset="0.957" stop-opacity="0.293"/><stop offset="0.981" stop-opacity="0.303"/><stop offset="0.988" stop-opacity="0.000"/><stop offset="0.996" stop-opacity="0.000"/></linearGradient><linearGradient id="het7" x1="0" y1="0" x2="0" y2="1"><stop offset="0.004" stop-opacity="0.000"/><stop offset="0.771" stop-opacity="0.004"/><stop offset="0.826" stop-opacity="0.027"/><stop offset="0.895" stop-opacity="0.090"/><stop offset="0.981" stop-opacity="0.180"/><stop offset="0.988" stop-opacity="0.000"/><stop offset="0.996" stop-opacity="0.000"/></linearGradient><linearGradient id="het8" x1="0" y1="0" x2="0" y2="1"><stop offset="0.004" stop-opacity="0.000"/><stop offset="0.919" stop-opacity="0.004"/><stop offset="0.981" stop-opacity="0.024"/><stop offset="0.988" stop-opacity="0.000"/><stop offset="0.996" stop-opacity="0.000"/></linearGradient><linearGradient id="het14" x1="0" y1="0" x2="0" y2="1"><stop offset="0.004" stop-opacity="0.000"/><stop offset="0.973" stop-opacity="0.004"/><stop offset="0.996" stop-opacity="0.000"/></linearGradient><linearGradient id="het15" x1="0" y1="0" x2="0" y2="1"><stop offset="0.004" stop-opacity="0.000"/><stop offset="0.864" stop-opacity="0.004"/><stop offset="0.926" stop-opacity="0.024"/><stop offset="0.981" stop-opacity="0.064"/><stop offset="0.988" stop-opacity="0.000"/><stop offset="0.996" stop-opacity="0.000"/></linearGradient><linearGradient id="het16" x1="0" y1="0" x2="0" y2="1"><stop offset="0.004" stop-opacity="0.000"/><stop offset="0.764" stop-opacity="0.004"/><stop offset="0.818" stop-opacity="0.027"/><stop offset="0.888" stop-opacity="0.090"/><stop offset="0.981" stop-opacity="0.187"/><stop offset="0.988" stop-opacity="0.000"/><stop offset="0.996" stop-opacity="0.000"/></linearGradient><linearGradient id="het17" x1="0" y1="0" x2="0" y2="1"><stop offset="0.004" stop-opacity="0.000"/><stop offset="0.671" stop-opacity="0.004"/><stop offset="0.709" stop-opacity="0.021"/><stop offset="0.771" stop-opacity="0.093"/><stop offset="0.857" stop-opacity="0.195"/><stop offset="0.934" stop-opacity="0.257"/><stop offset="0.981" stop-opacity="0.281"/><stop offset="0.988" stop-opacity="0.000"/><stop offset="0.996" stop-opacity="0.000"/></linearGradient><linearGradient id="het18" x1="0" y1="0" x2="0" y2="1"><stop offset="0.004" stop-opacity="0.000"/><stop offset="0.585" stop-opacity="0.004"/><stop offset="0.640" stop-opacity="0.029"/><stop offset="0.686" stop-opacity="0.077"/><stop offset="0.717" stop-opacity="0.140"/><stop offset="0.748" stop-opacity="0.214"/><stop offset="0.810" stop-opacity="0.267"/><stop offset="0.880" stop-opacity="0.299"/><stop offset="0.934" stop-opacity="0.376"/><stop offset="0.981" stop-opacity="0.419"/><stop offset="0.988" stop-opacity="0.000"/><stop offset="0.996" stop-opacity="0.000"/></linearGradient><linearGradient id="het19" x1="0" y1="0" x2="0" y2="1"><stop offset="0.004" stop-opacity="0.000"/><stop offset="0.500" stop-opacity="0.003"/><stop offset="0.562" stop-opacity="0.028"/><stop offset="0.632" stop-opacity="0.081"/><stop offset="0.694" stop-opacity="0.163"/><stop offset="0.740" stop-opacity="0.290"/><stop offset="0.748" stop-opacity="0.326"/><stop offset="0.787" stop-opacity="0.388"/><stop offset="0.833" stop-opacity="0.434"/><stop offset="0.911" stop-opacity="0.471"/><stop offset="0.981" stop-opacity="0.486"/><stop offset="0.988" stop-opacity="0.000"/><stop offset="0.996" stop-opacity="0.000"/></linearGradient><linearGradient id="het20" x1="0" y1="0" x2="0" y2="1"><stop offset="0.004" stop-opacity="0.000"/><stop offset="0.407" stop-opacity="0.005"/><stop offset="0.484" stop-opacity="0.028"/><stop offset="0.624" stop-opacity="0.103"/><stop offset="0.686" stop-opacity="0.173"/><stop offset="0.702" stop-opacity="0.209"/><stop offset="0.733" stop-opacity="0.294"/><stop offset="0.740" stop-opacity="0.396"/><stop offset="0.748" stop-opacity="0.475"/><stop offset="0.864" stop-opacity="0.494"/><stop offset="0.981" stop-opacity="0.498"/><stop offset="0.988" stop-opacity="0.000"/><stop offset="0.996" stop-opacity="0.000"/></linearGradient><linearGradient id="het21" x1="0" y1="0" x2="0" y2="1"><stop offset="0.004" stop-opacity="0.000"/><stop offset="0.252" stop-opacity="0.006"/><stop offset="0.446" stop-opacity="0.045"/><stop offset="0.624" stop-opacity="0.109"/><stop offset="0.686" stop-opacity="0.178"/><stop offset="0.702" stop-opacity="0.213"/><stop offset="0.733" stop-opacity="0.299"/><stop offset="0.740" stop-opacity="0.421"/><stop offset="0.748" stop-opacity="0.498"/><stop offset="0.981" stop-opacity="0.500"/><stop offset="0.988" stop-opacity="0.000"/><stop offset="0.996" stop-opacity="0.000"/></linearGradient><linearGradient id="het22" x1="0" y1="0" x2="0" y2="1"><stop offset="0.004" stop-opacity="0.000"/><stop offset="0.329" stop-opacity="0.041"/><stop offset="0.461" stop-opacity="0.058"/><stop offset="0.616" stop-opacity="0.105"/><stop offset="0.686" stop-opacity="0.178"/><stop offset="0.702" stop-opacity="0.213"/><stop offset="0.733" stop-opacity="0.299"/><stop offset="0.740" stop-opacity="0.423"/><stop offset="0.748" stop-opacity="0.500"/><stop offset="0.981" stop-opacity="0.500"/><stop offset="0.988" stop-opacity="0.000"/><stop offset="0.996" stop-opacity="0.000"/></linearGradient><linearGradient id="het23" x1="0" y1="0" x2="0" y2="1"><stop offset="0.004" stop-opacity="0.027"/><stop offset="0.422" stop-opacity="0.052"/><stop offset="0.585" stop-opacity="0.094"/><stop offset="0.624" stop-opacity="0.110"/><stop offset="0.686" stop-opacity="0.178"/><stop offset="0.702" stop-opacity="0.213"/><stop offset="0.733" stop-opacity="0.299"/><stop offset="0.740" stop-opacity="0.423"/><stop offset="0.748" stop-opacity="0.500"/><stop offset="0.981" stop-opacity="0.500"/><stop offset="0.988" stop-opacity="0.000"/><stop offset="0.996" stop-opacity="0.000"/></linearGradient><linearGradient id="het24" x1="0" y1="0" x2="0" y2="1"><stop offset="0.004" stop-opacity="0.034"/><stop offset="0.415" stop-opacity="0.051"/><stop offset="0.578" stop-opacity="0.092"/><stop offset="0.624" stop-opacity="0.110"/><stop offset="0.686" stop-opacity="0.178"/><stop offset="0.702" stop-opacity="0.213"/><stop offset="0.733" stop-opacity="0.299"/><stop offset="0.740" stop-opacity="0.423"/><stop offset="0.748" stop-opacity="0.500"/><stop offset="0.981" stop-opacity="0.500"/><stop offset="0.988" stop-opacity="0.000"/><stop offset="0.996" stop-opacity="0.000"/></linearGradient><linearGradient id="het27" x1="0" y1="0" x2="0" y2="1"><stop offset="0.004" stop-opacity="0.033"/><stop offset="0.415" stop-opacity="0.051"/><stop offset="0.585" stop-opacity="0.094"/><stop offset="0.624" stop-opacity="0.109"/><stop offset="0.686" stop-opacity="0.176"/><stop offset="0.702" stop-opacity="0.211"/><stop offset="0.733" stop-opacity="0.296"/><stop offset="0.740" stop-opacity="0.406"/><stop offset="0.748" stop-opacity="0.483"/><stop offset="0.981" stop-opacity="0.491"/><stop offset="0.988" stop-opacity="0.000"/><stop offset="0.996" stop-opacity="0.000"/></linearGradient><linearGradient id="het28" x1="0" y1="0" x2="0" y2="1"><stop offset="0.004" stop-opacity="0.012"/><stop offset="0.422" stop-opacity="0.049"/><stop offset="0.624" stop-opacity="0.102"/><stop offset="0.686" stop-opacity="0.164"/><stop offset="0.702" stop-opacity="0.197"/><stop offset="0.740" stop-opacity="0.300"/><stop offset="0.748" stop-opacity="0.373"/><stop offset="0.926" stop-opacity="0.432"/><stop offset="0.981" stop-opacity="0.443"/><stop offset="0.988" stop-opacity="0.000"/><stop offset="0.996" stop-opacity="0.000"/></linearGradient><linearGradient id="het29" x1="0" y1="0" x2="0" y2="1"><stop offset="0.004" stop-opacity="0.000"/><stop offset="0.306" stop-opacity="0.009"/><stop offset="0.415" stop-opacity="0.025"/><stop offset="0.585" stop-opacity="0.065"/><stop offset="0.624" stop-opacity="0.071"/><stop offset="0.694" stop-opacity="0.124"/><stop offset="0.740" stop-opacity="0.226"/><stop offset="0.748" stop-opacity="0.238"/><stop offset="0.934" stop-opacity="0.286"/><stop offset="0.981" stop-opacity="0.293"/><stop offset="0.988" stop-opacity="0.000"/><stop offset="0.996" stop-opacity="0.000"/></linearGradient><linearGradient id="het30" x1="0" y1="0" x2="0" y2="1"><stop offset="0.004" stop-opacity="0.000"/><stop offset="0.453" stop-opacity="0.005"/><stop offset="0.578" stop-opacity="0.018"/><stop offset="0.655" stop-opacity="0.023"/><stop offset="0.694" stop-opacity="0.033"/><stop offset="0.756" stop-opacity="0.095"/><stop offset="0.950" stop-opacity="0.200"/><stop offset="0.981" stop-opacity="0.213"/><stop offset="0.988" stop-opacity="0.000"/><stop offset="0.996" stop-opacity="0.000"/></linearGradient><linearGradient id="het31" x1="0" y1="0" x2="0" y2="1"><stop offset="0.004" stop-opacity="0.000"/><stop offset="0.740" stop-opacity="0.004"/><stop offset="0.857" stop-opacity="0.030"/><stop offset="0.981" stop-opacity="0.088"/><stop offset="0.988" stop-opacity="0.000"/><stop offset="0.996" stop-opacity="0.000"/></linearGradient><linearGradient id="het32" x1="0" y1="0" x2="0" y2="1"><stop offset="0.004" stop-opacity="0.000"/><stop offset="0.934" stop-opacity="0.004"/><stop offset="0.981" stop-opacity="0.011"/><stop offset="0.988" stop-opacity="0.000"/><stop offset="0.996" stop-opacity="0.000"/></linearGradient><linearGradient id="het106" x1="0" y1="0" x2="0" y2="1"><stop offset="0.004" stop-opacity="0.000"/><stop offset="0.957" stop-opacity="0.002"/><stop offset="0.981" stop-opacity="0.013"/><stop offset="0.988" stop-opacity="0.000"/><stop offset="0.996" stop-opacity="0.000"/></linearGradient><linearGradient id="het107" x1="0" y1="0" x2="0" y2="1"><stop offset="0.004" stop-opacity="0.000"/><stop offset="0.919" stop-opacity="0.003"/><stop offset="0.950" stop-opacity="0.027"/><stop offset="0.981" stop-opacity="0.081"/><stop offset="0.988" stop-opacity="0.000"/><stop offset="0.996" stop-opacity="0.000"/></linearGradient><linearGradient id="het108" x1="0" y1="0" x2="0" y2="1"><stop offset="0.004" stop-opacity="0.000"/><stop offset="0.872" stop-opacity="0.002"/><stop offset="0.895" stop-opacity="0.016"/><stop offset="0.919" stop-opacity="0.051"/><stop offset="0.981" stop-opacity="0.189"/><stop offset="0.988" stop-opacity="0.000"/><stop offset="0.996" stop-opacity="0.000"/></linearGradient><linearGradient id="het109" x1="0" y1="0" x2="0" y2="1"><stop offset="0.004" stop-opacity="0.000"/><stop offset="0.833" stop-opacity="0.002"/><stop offset="0.857" stop-opacity="0.021"/><stop offset="0.880" stop-opacity="0.067"/><stop offset="0.926" stop-opacity="0.186"/><stop offset="0.957" stop-opacity="0.244"/><stop offset="0.981" stop-opacity="0.273"/><stop offset="0.988" stop-opacity="0.000"/><stop offset="0.996" stop-opacity="0.000"/></linearGradient><linearGradient id="het110" x1="0" y1="0" x2="0" y2="1"><stop offset="0.004" stop-opacity="0.000"/><stop offset="0.795" stop-opacity="0.003"/><stop offset="0.818" stop-opacity="0.028"/><stop offset="0.841" stop-opacity="0.086"/><stop offset="0.880" stop-opacity="0.199"/><stop offset="0.903" stop-opacity="0.247"/><stop offset="0.942" stop-opacity="0.292"/><stop offset="0.950" stop-opacity="0.298"/><stop offset="0.981" stop-opacity="0.382"/><stop offset="0.988" stop-opacity="0.000"/><stop offset="0.996" stop-opacity="0.000"/></linearGradient><linearGradient id="het111" x1="0" y1="0" x2="0" y2="1"><stop offset="0.004" stop-opacity="0.000"/><stop offset="0.748" stop-opacity="0.003"/><stop offset="0.771" stop-opacity="0.029"/><stop offset="0.795" stop-opacity="0.086"/><stop offset="0.833" stop-opacity="0.209"/><stop offset="0.857" stop-opacity="0.259"/><stop offset="0.888" stop-opacity="0.298"/><stop offset="0.911" stop-opacity="0.372"/><stop offset="0.934" stop-opacity="0.423"/><stop offset="0.965" stop-opacity="0.459"/><stop offset="0.981" stop-opacity="0.470"/><stop offset="0.988" stop-opacity="0.000"/><stop offset="0.996" stop-opacity="0.000"/></linearGradient><linearGradient id="het112" x1="0" y1="0" x2="0" y2="1"><stop offset="0.004" stop-opacity="0.004"/><stop offset="0.484" stop-opacity="0.016"/><stop offset="0.570" stop-opacity="0.019"/><stop offset="0.647" stop-opacity="0.006"/><stop offset="0.709" stop-opacity="0.015"/><stop offset="0.717" stop-opacity="0.020"/><stop offset="0.733" stop-opacity="0.058"/><stop offset="0.771" stop-opacity="0.186"/><stop offset="0.795" stop-opacity="0.243"/><stop offset="0.818" stop-opacity="0.284"/><stop offset="0.833" stop-opacity="0.304"/><stop offset="0.849" stop-opacity="0.372"/><stop offset="0.864" stop-opacity="0.416"/><stop offset="0.888" stop-opacity="0.455"/><stop offset="0.926" stop-opacity="0.482"/><stop offset="0.981" stop-opacity="0.495"/><stop offset="0.988" stop-opacity="0.000"/><stop offset="0.996" stop-opacity="0.000"/></linearGradient><linearGradient id="het113" x1="0" y1="0" x2="0" y2="1"><stop offset="0.004" stop-opacity="0.014"/><stop offset="0.415" stop-opacity="0.038"/><stop offset="0.554" stop-opacity="0.075"/><stop offset="0.616" stop-opacity="0.086"/><stop offset="0.640" stop-opacity="0.087"/><stop offset="0.709" stop-opacity="0.180"/><stop offset="0.740" stop-opacity="0.259"/><stop offset="0.771" stop-opacity="0.306"/><stop offset="0.787" stop-opacity="0.372"/><stop offset="0.810" stop-opacity="0.435"/><stop offset="0.833" stop-opacity="0.468"/><stop offset="0.872" stop-opacity="0.490"/><stop offset="0.981" stop-opacity="0.499"/><stop offset="0.988" stop-opacity="0.000"/><stop offset="0.996" stop-opacity="0.000"/></linearGradient><linearGradient id="het114" x1="0" y1="0" x2="0" y2="1"><stop offset="0.004" stop-opacity="0.018"/><stop offset="0.407" stop-opacity="0.047"/><stop offset="0.516" stop-opacity="0.081"/><stop offset="0.578" stop-opacity="0.115"/><stop offset="0.640" stop-opacity="0.158"/><stop offset="0.702" stop-opacity="0.285"/><stop offset="0.709" stop-opacity="0.308"/><stop offset="0.717" stop-opacity="0.379"/><stop offset="0.733" stop-opacity="0.427"/><stop offset="0.756" stop-opacity="0.465"/><stop offset="0.795" stop-opacity="0.489"/><stop offset="0.895" stop-opacity="0.500"/><stop offset="0.981" stop-opacity="0.500"/><stop offset="0.988" stop-opacity="0.000"/><stop offset="0.996" stop-opacity="0.000"/></linearGradient><linearGradient id="het115" x1="0" y1="0" x2="0" y2="1"><stop offset="0.004" stop-opacity="0.018"/><stop offset="0.407" stop-opacity="0.048"/><stop offset="0.516" stop-opacity="0.084"/><stop offset="0.570" stop-opacity="0.114"/><stop offset="0.640" stop-opacity="0.172"/><stop offset="0.694" stop-opacity="0.289"/><stop offset="0.702" stop-opacity="0.332"/><stop offset="0.709" stop-opacity="0.432"/><stop offset="0.717" stop-opacity="0.493"/><stop offset="0.911" stop-opacity="0.500"/><stop offset="0.981" stop-opacity="0.500"/><stop offset="0.988" stop-opacity="0.000"/><stop offset="0.996" stop-opacity="0.000"/></linearGradient><linearGradient id="het116" x1="0" y1="0" x2="0" y2="1"><stop offset="0.004" stop-opacity="0.018"/><stop offset="0.407" stop-opacity="0.048"/><stop offset="0.516" stop-opacity="0.085"/><stop offset="0.570" stop-opacity="0.115"/><stop offset="0.640" stop-opacity="0.173"/><stop offset="0.694" stop-opacity="0.290"/><stop offset="0.702" stop-opacity="0.340"/><stop offset="0.709" stop-opacity="0.440"/><stop offset="0.717" stop-opacity="0.500"/><stop offset="0.981" stop-opacity="0.500"/><stop offset="0.988" stop-opacity="0.000"/><stop offset="0.996" stop-opacity="0.000"/></linearGradient><linearGradient id="het120" x1="0" y1="0" x2="0" y2="1"><stop offset="0.004" stop-opacity="0.018"/><stop offset="0.407" stop-opacity="0.048"/><stop offset="0.516" stop-opacity="0.084"/><stop offset="0.570" stop-opacity="0.114"/><stop offset="0.640" stop-opacity="0.172"/><stop offset="0.694" stop-opacity="0.287"/><stop offset="0.702" stop-opacity="0.317"/><stop offset="0.709" stop-opacity="0.414"/><stop offset="0.717" stop-opacity="0.474"/><stop offset="0.818" stop-opacity="0.492"/><stop offset="0.981" stop-opacity="0.498"/><stop offset="0.988" stop-opacity="0.000"/><stop offset="0.996" stop-opacity="0.000"/></linearGradient><linearGradient id="het121" x1="0" y1="0" x2="0" y2="1"><stop offset="0.004" stop-opacity="0.018"/><stop offset="0.407" stop-opacity="0.047"/><stop offset="0.516" stop-opacity="0.081"/><stop offset="0.578" stop-opacity="0.115"/><stop offset="0.640" stop-opacity="0.158"/><stop offset="0.709" stop-opacity="0.274"/><stop offset="0.740" stop-opacity="0.298"/><stop offset="0.779" stop-opacity="0.380"/><stop offset="0.810" stop-opacity="0.418"/><stop offset="0.872" stop-opacity="0.453"/><stop offset="0.973" stop-opacity="0.484"/><stop offset="0.981" stop-opacity="0.485"/><stop offset="0.988" stop-opacity="0.000"/><stop offset="0.996" stop-opacity="0.000"/></linearGradient><linearGradient id="het122" x1="0" y1="0" x2="0" y2="1"><stop offset="0.004" stop-opacity="0.014"/><stop offset="0.415" stop-opacity="0.038"/><stop offset="0.554" stop-opacity="0.075"/><stop offset="0.616" stop-opacity="0.086"/><stop offset="0.647" stop-opacity="0.090"/><stop offset="0.702" stop-opacity="0.104"/><stop offset="0.717" stop-opacity="0.110"/><stop offset="0.756" stop-opacity="0.192"/><stop offset="0.795" stop-opacity="0.247"/><stop offset="0.849" stop-opacity="0.285"/><stop offset="0.888" stop-opacity="0.300"/><stop offset="0.926" stop-opacity="0.375"/><stop offset="0.965" stop-opacity="0.420"/><stop offset="0.981" stop-opacity="0.433"/><stop offset="0.988" stop-opacity="0.000"/><stop offset="0.996" stop-opacity="0.000"/></linearGradient><linearGradient id="het123" x1="0" y1="0" x2="0" y2="1"><stop offset="0.004" stop-opacity="0.004"/><stop offset="0.484" stop-opacity="0.016"/><stop offset="0.570" stop-opacity="0.019"/><stop offset="0.678" stop-opacity="0.003"/><stop offset="0.725" stop-opacity="0.004"/><stop offset="0.756" stop-opacity="0.028"/><stop offset="0.849" stop-opacity="0.178"/><stop offset="0.926" stop-opacity="0.262"/><stop offset="0.981" stop-opacity="0.295"/><stop offset="0.988" stop-opacity="0.000"/><stop offset="0.996" stop-opacity="0.000"/></linearGradient><linearGradient id="het124" x1="0" y1="0" x2="0" y2="1"><stop offset="0.004" stop-opacity="0.000"/><stop offset="0.795" stop-opacity="0.004"/><stop offset="0.833" stop-opacity="0.027"/><stop offset="0.888" stop-opacity="0.094"/><stop offset="0.950" stop-opacity="0.194"/><stop offset="0.981" stop-opacity="0.231"/><stop offset="0.988" stop-opacity="0.000"/><stop offset="0.996" stop-opacity="0.000"/></linearGradient><linearGradient id="het125" x1="0" y1="0" x2="0" y2="1"><stop offset="0.004" stop-opacity="0.000"/><stop offset="0.864" stop-opacity="0.003"/><stop offset="0.903" stop-opacity="0.021"/><stop offset="0.950" stop-opacity="0.079"/><stop offset="0.981" stop-opacity="0.127"/><stop offset="0.988" stop-opacity="0.000"/><stop offset="0.996" stop-opacity="0.000"/></linearGradient><linearGradient id="het126" x1="0" y1="0" x2="0" y2="1"><stop offset="0.004" stop-opacity="0.000"/><stop offset="0.926" stop-opacity="0.003"/><stop offset="0.965" stop-opacity="0.020"/><stop offset="0.981" stop-opacity="0.034"/><stop offset="0.988" stop-opacity="0.000"/><stop offset="0.996" stop-opacity="0.000"/></linearGradient></defs>
<g filter="url(#fhet)"><rect x="289" y="200" width="4" height="129" fill="url(#het0)"/><rect x="293" y="200" width="1" height="129" fill="url(#het4)"/><rect x="294" y="200" width="1" height="129" fill="url(#het5)"/><rect x="295" y="200" width="1" height="129" fill="url(#het6)"/><rect x="296" y="200" width="1" height="129" fill="url(#het7)"/><rect x="297" y="200" width="1" height="129" fill="url(#het8)"/><rect x="303" y="200" width="1" height="129" fill="url(#het14)"/><rect x="304" y="200" width="1" height="129" fill="url(#het15)"/><rect x="305" y="200" width="1" height="129" fill="url(#het16)"/><rect x="306" y="200" width="1" height="129" fill="url(#het17)"/><rect x="307" y="200" width="1" height="129" fill="url(#het18)"/><rect x="308" y="200" width="1" height="129" fill="url(#het19)"/><rect x="309" y="200" width="1" height="129" fill="url(#het20)"/><rect x="310" y="200" width="1" height="129" fill="url(#het21)"/><rect x="311" y="200" width="1" height="129" fill="url(#het22)"/><rect x="312" y="200" width="1" height="129" fill="url(#het23)"/><rect x="313" y="200" width="3" height="129" fill="url(#het24)"/><rect x="316" y="200" width="1" height="129" fill="url(#het27)"/><rect x="317" y="200" width="1" height="129" fill="url(#het28)"/><rect x="318" y="200" width="1" height="129" fill="url(#het29)"/><rect x="319" y="200" width="1" height="129" fill="url(#het30)"/><rect x="320" y="200" width="1" height="129" fill="url(#het31)"/><rect x="321" y="200" width="1" height="129" fill="url(#het32)"/><rect x="395" y="200" width="1" height="129" fill="url(#het106)"/><rect x="396" y="200" width="1" height="129" fill="url(#het107)"/><rect x="397" y="200" width="1" height="129" fill="url(#het108)"/><rect x="398" y="200" width="1" height="129" fill="url(#het109)"/><rect x="399" y="200" width="1" height="129" fill="url(#het110)"/><rect x="400" y="200" width="1" height="129" fill="url(#het111)"/><rect x="401" y="200" width="1" height="129" fill="url(#het112)"/><rect x="402" y="200" width="1" height="129" fill="url(#het113)"/><rect x="403" y="200" width="1" height="129" fill="url(#het114)"/><rect x="404" y="200" width="1" height="129" fill="url(#het115)"/><rect x="405" y="200" width="4" height="129" fill="url(#het116)"/><rect x="409" y="200" width="1" height="129" fill="url(#het120)"/><rect x="410" y="200" width="1" height="129" fill="url(#het121)"/><rect x="411" y="200" width="1" height="129" fill="url(#het122)"/><rect x="412" y="200" width="1" height="129" fill="url(#het123)"/><rect x="413" y="200" width="1" height="129" fill="url(#het124)"/><rect x="414" y="200" width="1" height="129" fill="url(#het125)"/><rect x="415" y="200" width="1" height="129" fill="url(#het126)"/><rect x="416" y="200" width="9" height="129" fill-opacity="0.000"/></g>
<defs><filter id="fheg" filterUnits="userSpaceOnUse" x="289" y="200" width="136" height="129" color-interpolation-filters="sRGB"><feComponentTransfer in="SourceAlpha" result="ind"><feFuncA type="linear" slope="15" intercept="0"/></feComponentTransfer><feTurbulence type="fractalNoise" baseFrequency="0.9 0.270" numOctaves="1" seed="28" result="T"/><feColorMatrix in="T" type="matrix" values="0 0 0 0 0  0 0 0 0 0  0 0 0 0 0  1 0 0 0 -0.5" result="P"/><feColorMatrix in="T" type="matrix" values="0 0 0 0 0  0 0 0 0 0  0 0 0 0 0  -1 0 0 0 0.5" result="Q"/><feComposite in="ind" in2="P" operator="arithmetic" k1="1" k2="0" k3="0" k4="0" result="PP"/><feComposite in="ind" in2="Q" operator="arithmetic" k1="1" k2="0" k3="0" k4="0" result="QQ"/><feComposite in="SourceGraphic" in2="QQ" operator="arithmetic" k1="0" k2="1" k3="-0.1500" k4="0" result="S1"/><feComposite in="S1" in2="PP" operator="arithmetic" k1="0" k2="1" k3="0.1500" k4="0" result="S2"/><feComponentTransfer in="S2" result="S3"><feFuncA type="linear" slope="3" intercept="0"/></feComponentTransfer><feColorMatrix in="S3" type="matrix" values="0 0 0 0 0.2392  0 0 0 0 0.4235  0 0 0 0 0.3137  0 0 0 1 0"/></filter><linearGradient id="heg32" x1="0" y1="0" x2="0" y2="1"><stop offset="0.004" stop-opacity="0.000"/><stop offset="0.981" stop-opacity="0.012"/><stop offset="0.988" stop-opacity="0.000"/><stop offset="0.996" stop-opacity="0.000"/></linearGradient><linearGradient id="heg33" x1="0" y1="0" x2="0" y2="1"><stop offset="0.004" stop-opacity="0.002"/><stop offset="0.368" stop-opacity="0.013"/><stop offset="0.585" stop-opacity="0.041"/><stop offset="0.880" stop-opacity="0.102"/><stop offset="0.981" stop-opacity="0.115"/><stop offset="0.988" stop-opacity="0.000"/><stop offset="0.996" stop-opacity="0.000"/></linearGradient><linearGradient id="heg34" x1="0" y1="0" x2="0" y2="1"><stop offset="0.004" stop-opacity="0.003"/><stop offset="0.329" stop-opacity="0.018"/><stop offset="0.539" stop-opacity="0.059"/><stop offset="0.709" stop-opacity="0.122"/><stop offset="0.849" stop-opacity="0.181"/><stop offset="0.981" stop-opacity="0.209"/><stop offset="0.988" stop-opacity="0.000"/><stop offset="0.996" stop-opacity="0.000"/></linearGradient><linearGradient id="heg35" x1="0" y1="0" x2="0" y2="1"><stop offset="0.004" stop-opacity="0.004"/><stop offset="0.314" stop-opacity="0.018"/><stop offset="0.477" stop-opacity="0.055"/><stop offset="0.640" stop-opacity="0.123"/><stop offset="0.702" stop-opacity="0.163"/><stop offset="0.756" stop-opacity="0.220"/><stop offset="0.919" stop-opacity="0.256"/><stop offset="0.981" stop-opacity="0.267"/><stop offset="0.988" stop-opacity="0.000"/><stop offset="0.996" stop-opacity="0.000"/></linearGradient><linearGradient id="heg36" x1="0" y1="0" x2="0" y2="1"><stop offset="0.004" stop-opacity="0.005"/><stop offset="0.306" stop-opacity="0.020"/><stop offset="0.453" stop-opacity="0.057"/><stop offset="0.632" stop-opacity="0.151"/><stop offset="0.702" stop-opacity="0.215"/><stop offset="0.748" stop-opacity="0.296"/><stop offset="0.756" stop-opacity="0.327"/><stop offset="0.957" stop-opacity="0.500"/><stop offset="0.981" stop-opacity="0.500"/><stop offset="0.988" stop-opacity="0.000"/><stop offset="0.996" stop-opacity="0.000"/></linearGradient><linearGradient id="heg37" x1="0" y1="0" x2="0" y2="1"><stop offset="0.004" stop-opacity="0.005"/><stop offset="0.306" stop-opacity="0.021"/><stop offset="0.453" stop-opacity="0.058"/><stop offset="0.624" stop-opacity="0.151"/><stop offset="0.702" stop-opacity="0.227"/><stop offset="0.740" stop-opacity="0.294"/><stop offset="0.756" stop-opacity="0.395"/><stop offset="0.911" stop-opacity="0.500"/><stop offset="0.981" stop-opacity="0.500"/><stop offset="0.988" stop-opacity="0.000"/><stop offset="0.996" stop-opacity="0.000"/></linearGradient><linearGradient id="heg38" x1="0" y1="0" x2="0" y2="1"><stop offset="0.004" stop-opacity="0.005"/><stop offset="0.306" stop-opacity="0.021"/><stop offset="0.453" stop-opacity="0.057"/><stop offset="0.624" stop-opacity="0.151"/><stop offset="0.702" stop-opacity="0.230"/><stop offset="0.740" stop-opacity="0.293"/><stop offset="0.756" stop-opacity="0.381"/><stop offset="0.981" stop-opacity="0.487"/><stop offset="0.988" stop-opacity="0.000"/><stop offset="0.996" stop-opacity="0.000"/></linearGradient><linearGradient id="heg39" x1="0" y1="0" x2="0" y2="1"><stop offset="0.004" stop-opacity="0.005"/><stop offset="0.306" stop-opacity="0.021"/><stop offset="0.453" stop-opacity="0.057"/><stop offset="0.624" stop-opacity="0.153"/><stop offset="0.702" stop-opacity="0.236"/><stop offset="0.740" stop-opacity="0.296"/><stop offset="0.748" stop-opacity="0.350"/><stop offset="0.756" stop-opacity="0.395"/><stop offset="0.981" stop-opacity="0.458"/><stop offset="0.988" stop-opacity="0.000"/><stop offset="0.996" stop-opacity="0.000"/></linearGradient><linearGradient id="heg40" x1="0" y1="0" x2="0" y2="1"><stop offset="0.004" stop-opacity="0.005"/><stop offset="0.306" stop-opacity="0.022"/><stop offset="0.453" stop-opacity="0.060"/><stop offset="0.616" stop-opacity="0.156"/><stop offset="0.702" stop-opacity="0.252"/><stop offset="0.733" stop-opacity="0.305"/><stop offset="0.748" stop-opacity="0.451"/><stop offset="0.756" stop-opacity="0.495"/><stop offset="0.981" stop-opacity="0.500"/><stop offset="0.988" stop-opacity="0.000"/><stop offset="0.996" stop-opacity="0.000"/></linearGradient><linearGradient id="heg41" x1="0" y1="0" x2="0" y2="1"><stop offset="0.004" stop-opacity="0.005"/><stop offset="0.306" stop-opacity="0.022"/><stop offset="0.453" stop-opacity="0.059"/><stop offset="0.616" stop-opacity="0.155"/><stop offset="0.702" stop-opacity="0.252"/><stop offset="0.733" stop-opacity="0.298"/><stop offset="0.740" stop-opacity="0.361"/><stop offset="0.748" stop-opacity="0.433"/><stop offset="0.756" stop-opacity="0.480"/><stop offset="0.771" stop-opacity="0.498"/><stop offset="0.981" stop-opacity="0.500"/><stop offset="0.988" stop-opacity="0.000"/><stop offset="0.996" stop-opacity="0.000"/></linearGradient><linearGradient id="heg42" x1="0" y1="0" x2="0" y2="1"><stop offset="0.004" stop-opacity="0.005"/><stop offset="0.314" stop-opacity="0.023"/><stop offset="0.461" stop-opacity="0.063"/><stop offset="0.616" stop-opacity="0.154"/><stop offset="0.686" stop-opacity="0.228"/><stop offset="0.733" stop-opacity="0.292"/><stop offset="0.740" stop-opacity="0.327"/><stop offset="0.748" stop-opacity="0.401"/><stop offset="0.756" stop-opacity="0.456"/><stop offset="0.764" stop-opacity="0.483"/><stop offset="0.771" stop-opacity="0.500"/><stop offset="0.981" stop-opacity="0.500"/><stop offset="0.988" stop-opacity="0.000"/><stop offset="0.996" stop-opacity="0.000"/></linearGradient><linearGradient id="heg43" x1="0" y1="0" x2="0" y2="1"><stop offset="0.004" stop-opacity="0.005"/><stop offset="0.329" stop-opacity="0.022"/><stop offset="0.477" stop-opacity="0.064"/><stop offset="0.616" stop-opacity="0.140"/><stop offset="0.678" stop-opacity="0.197"/><stop offset="0.756" stop-opacity="0.297"/><stop offset="0.764" stop-opacity="0.323"/><stop offset="0.779" stop-opacity="0.410"/><stop offset="0.787" stop-opacity="0.436"/><stop offset="0.981" stop-opacity="0.436"/><stop offset="0.988" stop-opacity="0.000"/><stop offset="0.996" stop-opacity="0.000"/></linearGradient><linearGradient id="heg44" x1="0" y1="0" x2="0" y2="1"><stop offset="0.004" stop-opacity="0.005"/><stop offset="0.329" stop-opacity="0.021"/><stop offset="0.484" stop-opacity="0.065"/><stop offset="0.609" stop-opacity="0.132"/><stop offset="0.671" stop-opacity="0.181"/><stop offset="0.740" stop-opacity="0.268"/><stop offset="0.764" stop-opacity="0.307"/><stop offset="0.779" stop-opacity="0.430"/><stop offset="0.787" stop-opacity="0.467"/><stop offset="0.981" stop-opacity="0.467"/><stop offset="0.988" stop-opacity="0.000"/><stop offset="0.996" stop-opacity="0.000"/></linearGradient><linearGradient id="heg45" x1="0" y1="0" x2="0" y2="1"><stop offset="0.004" stop-opacity="0.005"/><stop offset="0.337" stop-opacity="0.022"/><stop offset="0.492" stop-opacity="0.067"/><stop offset="0.616" stop-opacity="0.132"/><stop offset="0.671" stop-opacity="0.172"/><stop offset="0.740" stop-opacity="0.254"/><stop offset="0.771" stop-opacity="0.298"/><stop offset="0.779" stop-opacity="0.352"/><stop offset="0.787" stop-opacity="0.394"/><stop offset="0.872" stop-opacity="0.446"/><stop offset="0.981" stop-opacity="0.458"/><stop offset="0.988" stop-opacity="0.000"/><stop offset="0.996" stop-opacity="0.000"/></linearGradient><linearGradient id="heg46" x1="0" y1="0" x2="0" y2="1"><stop offset="0.004" stop-opacity="0.004"/><stop offset="0.345" stop-opacity="0.023"/><stop offset="0.500" stop-opacity="0.068"/><stop offset="0.632" stop-opacity="0.133"/><stop offset="0.686" stop-opacity="0.177"/><stop offset="0.756" stop-opacity="0.252"/><stop offset="0.787" stop-opacity="0.288"/><stop offset="0.826" stop-opacity="0.300"/><stop offset="0.872" stop-opacity="0.378"/><stop offset="0.981" stop-opacity="0.412"/><stop offset="0.988" stop-opacity="0.000"/><stop offset="0.996" stop-opacity="0.000"/></linearGradient><linearGradient id="heg47" x1="0" y1="0" x2="0" y2="1"><stop offset="0.004" stop-opacity="0.004"/><stop offset="0.345" stop-opacity="0.025"/><stop offset="0.500" stop-opacity="0.069"/><stop offset="0.640" stop-opacity="0.138"/><stop offset="0.740" stop-opacity="0.229"/><stop offset="0.787" stop-opacity="0.280"/><stop offset="0.826" stop-opacity="0.303"/><stop offset="0.864" stop-opacity="0.429"/><stop offset="0.872" stop-opacity="0.445"/><stop offset="0.981" stop-opacity="0.500"/><stop offset="0.988" stop-opacity="0.000"/><stop offset="0.996" stop-opacity="0.000"/></linearGradient><linearGradient id="heg48" x1="0" y1="0" x2="0" y2="1"><stop offset="0.004" stop-opacity="0.003"/><stop offset="0.353" stop-opacity="0.026"/><stop offset="0.523" stop-opacity="0.077"/><stop offset="0.655" stop-opacity="0.145"/><stop offset="0.764" stop-opacity="0.239"/><stop offset="0.833" stop-opacity="0.296"/><stop offset="0.841" stop-opacity="0.310"/><stop offset="0.864" stop-opacity="0.416"/><stop offset="0.872" stop-opacity="0.440"/><stop offset="0.950" stop-opacity="0.499"/><stop offset="0.981" stop-opacity="0.500"/><stop offset="0.988" stop-opacity="0.000"/><stop offset="0.996" stop-opacity="0.000"/></linearGradient><linearGradient id="heg49" x1="0" y1="0" x2="0" y2="1"><stop offset="0.004" stop-opacity="0.003"/><stop offset="0.368" stop-opacity="0.026"/><stop offset="0.547" stop-opacity="0.081"/><stop offset="0.655" stop-opacity="0.132"/><stop offset="0.802" stop-opacity="0.242"/><stop offset="0.872" stop-opacity="0.295"/><stop offset="0.895" stop-opacity="0.302"/><stop offset="0.942" stop-opacity="0.367"/><stop offset="0.981" stop-opacity="0.442"/><stop offset="0.988" stop-opacity="0.000"/><stop offset="0.996" stop-opacity="0.000"/></linearGradient><linearGradient id="heg50" x1="0" y1="0" x2="0" y2="1"><stop offset="0.004" stop-opacity="0.002"/><stop offset="0.368" stop-opacity="0.025"/><stop offset="0.547" stop-opacity="0.079"/><stop offset="0.663" stop-opacity="0.133"/><stop offset="0.880" stop-opacity="0.280"/><stop offset="0.926" stop-opacity="0.299"/><stop offset="0.934" stop-opacity="0.315"/><stop offset="0.942" stop-opacity="0.341"/><stop offset="0.965" stop-opacity="0.452"/><stop offset="0.973" stop-opacity="0.482"/><stop offset="0.981" stop-opacity="0.500"/><stop offset="0.988" stop-opacity="0.000"/><stop offset="0.996" stop-opacity="0.000"/></linearGradient><linearGradient id="heg51" x1="0" y1="0" x2="0" y2="1"><stop offset="0.004" stop-opacity="0.002"/><stop offset="0.368" stop-opacity="0.023"/><stop offset="0.554" stop-opacity="0.075"/><stop offset="0.678" stop-opacity="0.128"/><stop offset="0.942" stop-opacity="0.282"/><stop offset="0.957" stop-opacity="0.307"/><stop offset="0.973" stop-opacity="0.405"/><stop offset="0.981" stop-opacity="0.450"/><stop offset="0.988" stop-opacity="0.000"/><stop offset="0.996" stop-opacity="0.000"/></linearGradient><linearGradient id="heg52" x1="0" y1="0" x2="0" y2="1"><stop offset="0.004" stop-opacity="0.001"/><stop offset="0.376" stop-opacity="0.022"/><stop offset="0.570" stop-opacity="0.074"/><stop offset="0.756" stop-opacity="0.148"/><stop offset="0.888" stop-opacity="0.217"/><stop offset="0.942" stop-opacity="0.260"/><stop offset="0.965" stop-opacity="0.298"/><stop offset="0.973" stop-opacity="0.346"/><stop offset="0.981" stop-opacity="0.406"/><stop offset="0.988" stop-opacity="0.000"/><stop offset="0.996" stop-opacity="0.000"/></linearGradient><linearGradient id="heg53" x1="0" y1="0" x2="0" y2="1"><stop offset="0.004" stop-opacity="0.001"/><stop offset="0.376" stop-opacity="0.020"/><stop offset="0.585" stop-opacity="0.073"/><stop offset="0.833" stop-opacity="0.166"/><stop offset="0.880" stop-opacity="0.190"/><stop offset="0.942" stop-opacity="0.244"/><stop offset="0.973" stop-opacity="0.305"/><stop offset="0.981" stop-opacity="0.374"/><stop offset="0.988" stop-opacity="0.000"/><stop offset="0.996" stop-opacity="0.000"/></linearGradient><linearGradient id="heg54" x1="0" y1="0" x2="0" y2="1"><stop offset="0.004" stop-opacity="0.001"/><stop offset="0.384" stop-opacity="0.021"/><stop offset="0.601" stop-opacity="0.075"/><stop offset="0.864" stop-opacity="0.172"/><stop offset="0.934" stop-opacity="0.228"/><stop offset="0.950" stop-opacity="0.257"/><stop offset="0.965" stop-opacity="0.291"/><stop offset="0.973" stop-opacity="0.316"/><stop offset="0.981" stop-opacity="0.390"/><stop offset="0.988" stop-opacity="0.000"/><stop offset="0.996" stop-opacity="0.000"/></linearGradient><linearGradient id="heg55" x1="0" y1="0" x2="0" y2="1"><stop offset="0.004" stop-opacity="0.001"/><stop offset="0.384" stop-opacity="0.019"/><stop offset="0.632" stop-opacity="0.075"/><stop offset="0.872" stop-opacity="0.158"/><stop offset="0.934" stop-opacity="0.206"/><stop offset="0.950" stop-opacity="0.236"/><stop offset="0.973" stop-opacity="0.284"/><stop offset="0.981" stop-opacity="0.296"/><stop offset="0.988" stop-opacity="0.000"/><stop offset="0.996" stop-opacity="0.000"/></linearGradient><linearGradient id="heg56" x1="0" y1="0" x2="0" y2="1"><stop offset="0.004" stop-opacity="0.001"/><stop offset="0.384" stop-opacity="0.018"/><stop offset="0.640" stop-opacity="0.076"/><stop offset="0.872" stop-opacity="0.158"/><stop offset="0.934" stop-opacity="0.207"/><stop offset="0.942" stop-opacity="0.220"/><stop offset="0.965" stop-opacity="0.283"/><stop offset="0.973" stop-opacity="0.296"/><stop offset="0.981" stop-opacity="0.355"/><stop offset="0.988" stop-opacity="0.000"/><stop offset="0.996" stop-opacity="0.000"/></linearGradient><linearGradient id="heg57" x1="0" y1="0" x2="0" y2="1"><stop offset="0.004" stop-opacity="0.001"/><stop offset="0.391" stop-opacity="0.018"/><stop offset="0.655" stop-opacity="0.076"/><stop offset="0.872" stop-opacity="0.149"/><stop offset="0.934" stop-opacity="0.198"/><stop offset="0.942" stop-opacity="0.211"/><stop offset="0.965" stop-opacity="0.280"/><stop offset="0.973" stop-opacity="0.294"/><stop offset="0.981" stop-opacity="0.345"/><stop offset="0.988" stop-opacity="0.000"/><stop offset="0.996" stop-opacity="0.000"/></linearGradient><linearGradient id="heg58" x1="0" y1="0" x2="0" y2="1"><stop offset="0.004" stop-opacity="0.001"/><stop offset="0.399" stop-opacity="0.017"/><stop offset="0.678" stop-opacity="0.074"/><stop offset="0.872" stop-opacity="0.132"/><stop offset="0.934" stop-opacity="0.178"/><stop offset="0.942" stop-opacity="0.191"/><stop offset="0.965" stop-opacity="0.261"/><stop offset="0.981" stop-opacity="0.288"/><stop offset="0.988" stop-opacity="0.000"/><stop offset="0.996" stop-opacity="0.000"/></linearGradient><linearGradient id="heg59" x1="0" y1="0" x2="0" y2="1"><stop offset="0.004" stop-opacity="0.001"/><stop offset="0.399" stop-opacity="0.017"/><stop offset="0.678" stop-opacity="0.073"/><stop offset="0.872" stop-opacity="0.130"/><stop offset="0.934" stop-opacity="0.178"/><stop offset="0.942" stop-opacity="0.193"/><stop offset="0.965" stop-opacity="0.273"/><stop offset="0.973" stop-opacity="0.287"/><stop offset="0.981" stop-opacity="0.314"/><stop offset="0.988" stop-opacity="0.000"/><stop offset="0.996" stop-opacity="0.000"/></linearGradient><linearGradient id="heg60" x1="0" y1="0" x2="0" y2="1"><stop offset="0.004" stop-opacity="0.001"/><stop offset="0.399" stop-opacity="0.016"/><stop offset="0.686" stop-opacity="0.068"/><stop offset="0.872" stop-opacity="0.119"/><stop offset="0.934" stop-opacity="0.167"/><stop offset="0.942" stop-opacity="0.182"/><stop offset="0.965" stop-opacity="0.266"/><stop offset="0.981" stop-opacity="0.296"/><stop offset="0.988" stop-opacity="0.000"/><stop offset="0.996" stop-opacity="0.000"/></linearGradient><linearGradient id="heg61" x1="0" y1="0" x2="0" y2="1"><stop offset="0.004" stop-opacity="0.001"/><stop offset="0.407" stop-opacity="0.016"/><stop offset="0.686" stop-opacity="0.067"/><stop offset="0.872" stop-opacity="0.117"/><stop offset="0.934" stop-opacity="0.165"/><stop offset="0.942" stop-opacity="0.182"/><stop offset="0.957" stop-opacity="0.245"/><stop offset="0.965" stop-opacity="0.271"/><stop offset="0.973" stop-opacity="0.287"/><stop offset="0.981" stop-opacity="0.316"/><stop offset="0.988" stop-opacity="0.000"/><stop offset="0.996" stop-opacity="0.000"/></linearGradient><linearGradient id="heg62" x1="0" y1="0" x2="0" y2="1"><stop offset="0.004" stop-opacity="0.001"/><stop offset="0.407" stop-opacity="0.015"/><stop offset="0.686" stop-opacity="0.063"/><stop offset="0.872" stop-opacity="0.112"/><stop offset="0.934" stop-opacity="0.159"/><stop offset="0.942" stop-opacity="0.175"/><stop offset="0.965" stop-opacity="0.261"/><stop offset="0.981" stop-opacity="0.292"/><stop offset="0.988" stop-opacity="0.000"/><stop offset="0.996" stop-opacity="0.000"/></linearGradient><linearGradient id="heg65" x1="0" y1="0" x2="0" y2="1"><stop offset="0.004" stop-opacity="0.000"/><stop offset="0.415" stop-opacity="0.014"/><stop offset="0.694" stop-opacity="0.061"/><stop offset="0.872" stop-opacity="0.105"/><stop offset="0.934" stop-opacity="0.152"/><stop offset="0.942" stop-opacity="0.167"/><stop offset="0.965" stop-opacity="0.253"/><stop offset="0.981" stop-opacity="0.286"/><stop offset="0.988" stop-opacity="0.000"/><stop offset="0.996" stop-opacity="0.000"/></linearGradient><linearGradient id="heg66" x1="0" y1="0" x2="0" y2="1"><stop offset="0.004" stop-opacity="0.000"/><stop offset="0.415" stop-opacity="0.014"/><stop offset="0.686" stop-opacity="0.060"/><stop offset="0.872" stop-opacity="0.108"/><stop offset="0.934" stop-opacity="0.156"/><stop offset="0.942" stop-opacity="0.172"/><stop offset="0.965" stop-opacity="0.261"/><stop offset="0.981" stop-opacity="0.296"/><stop offset="0.988" stop-opacity="0.000"/><stop offset="0.996" stop-opacity="0.000"/></linearGradient><linearGradient id="heg67" x1="0" y1="0" x2="0" y2="1"><stop offset="0.004" stop-opacity="0.000"/><stop offset="0.415" stop-opacity="0.014"/><stop offset="0.694" stop-opacity="0.059"/><stop offset="0.872" stop-opacity="0.104"/><stop offset="0.934" stop-opacity="0.151"/><stop offset="0.942" stop-opacity="0.167"/><stop offset="0.965" stop-opacity="0.255"/><stop offset="0.981" stop-opacity="0.290"/><stop offset="0.988" stop-opacity="0.000"/><stop offset="0.996" stop-opacity="0.000"/></linearGradient><linearGradient id="heg69" x1="0" y1="0" x2="0" y2="1"><stop offset="0.004" stop-opacity="0.000"/><stop offset="0.415" stop-opacity="0.013"/><stop offset="0.694" stop-opacity="0.056"/><stop offset="0.872" stop-opacity="0.099"/><stop offset="0.934" stop-opacity="0.146"/><stop offset="0.942" stop-opacity="0.162"/><stop offset="0.965" stop-opacity="0.249"/><stop offset="0.981" stop-opacity="0.285"/><stop offset="0.988" stop-opacity="0.000"/><stop offset="0.996" stop-opacity="0.000"/></linearGradient><linearGradient id="heg70" x1="0" y1="0" x2="0" y2="1"><stop offset="0.004" stop-opacity="0.000"/><stop offset="0.415" stop-opacity="0.013"/><stop offset="0.694" stop-opacity="0.057"/><stop offset="0.872" stop-opacity="0.101"/><stop offset="0.934" stop-opacity="0.150"/><stop offset="0.942" stop-opacity="0.167"/><stop offset="0.965" stop-opacity="0.257"/><stop offset="0.981" stop-opacity="0.295"/><stop offset="0.988" stop-opacity="0.000"/><stop offset="0.996" stop-opacity="0.000"/></linearGradient><linearGradient id="heg71" x1="0" y1="0" x2="0" y2="1"><stop offset="0.004" stop-opacity="0.000"/><stop offset="0.422" stop-opacity="0.013"/><stop offset="0.694" stop-opacity="0.055"/><stop offset="0.872" stop-opacity="0.099"/><stop offset="0.934" stop-opacity="0.147"/><stop offset="0.942" stop-opacity="0.163"/><stop offset="0.965" stop-opacity="0.253"/><stop offset="0.981" stop-opacity="0.290"/><stop offset="0.988" stop-opacity="0.000"/><stop offset="0.996" stop-opacity="0.000"/></linearGradient><linearGradient id="heg72" x1="0" y1="0" x2="0" y2="1"><stop offset="0.004" stop-opacity="0.000"/><stop offset="0.422" stop-opacity="0.012"/><stop offset="0.702" stop-opacity="0.054"/><stop offset="0.872" stop-opacity="0.095"/><stop offset="0.934" stop-opacity="0.142"/><stop offset="0.942" stop-opacity="0.158"/><stop offset="0.965" stop-opacity="0.246"/><stop offset="0.981" stop-opacity="0.284"/><stop offset="0.988" stop-opacity="0.000"/><stop offset="0.996" stop-opacity="0.000"/></linearGradient><linearGradient id="heg73" x1="0" y1="0" x2="0" y2="1"><stop offset="0.004" stop-opacity="0.000"/><stop offset="0.422" stop-opacity="0.012"/><stop offset="0.694" stop-opacity="0.052"/><stop offset="0.872" stop-opacity="0.095"/><stop offset="0.934" stop-opacity="0.143"/><stop offset="0.942" stop-opacity="0.159"/><stop offset="0.965" stop-opacity="0.249"/><stop offset="0.981" stop-opacity="0.288"/><stop offset="0.988" stop-opacity="0.000"/><stop offset="0.996" stop-opacity="0.000"/></linearGradient><linearGradient id="heg75" x1="0" y1="0" x2="0" y2="1"><stop offset="0.004" stop-opacity="0.000"/><stop offset="0.422" stop-opacity="0.011"/><stop offset="0.694" stop-opacity="0.051"/><stop offset="0.872" stop-opacity="0.094"/><stop offset="0.934" stop-opacity="0.143"/><stop offset="0.942" stop-opacity="0.160"/><stop offset="0.965" stop-opacity="0.253"/><stop offset="0.981" stop-opacity="0.294"/><stop offset="0.988" stop-opacity="0.000"/><stop offset="0.996" stop-opacity="0.000"/></linearGradient><linearGradient id="heg76" x1="0" y1="0" x2="0" y2="1"><stop offset="0.004" stop-opacity="0.000"/><stop offset="0.430" stop-opacity="0.010"/><stop offset="0.709" stop-opacity="0.049"/><stop offset="0.872" stop-opacity="0.085"/><stop offset="0.934" stop-opacity="0.131"/><stop offset="0.942" stop-opacity="0.146"/><stop offset="0.965" stop-opacity="0.231"/><stop offset="0.981" stop-opacity="0.270"/><stop offset="0.988" stop-opacity="0.000"/><stop offset="0.996" stop-opacity="0.000"/></linearGradient><linearGradient id="heg77" x1="0" y1="0" x2="0" y2="1"><stop offset="0.004" stop-opacity="0.000"/><stop offset="0.430" stop-opacity="0.011"/><stop offset="0.702" stop-opacity="0.049"/><stop offset="0.872" stop-opacity="0.089"/><stop offset="0.934" stop-opacity="0.138"/><stop offset="0.942" stop-opacity="0.154"/><stop offset="0.965" stop-opacity="0.245"/><stop offset="0.981" stop-opacity="0.286"/><stop offset="0.988" stop-opacity="0.000"/><stop offset="0.996" stop-opacity="0.000"/></linearGradient><linearGradient id="heg78" x1="0" y1="0" x2="0" y2="1"><stop offset="0.004" stop-opacity="0.000"/><stop offset="0.438" stop-opacity="0.011"/><stop offset="0.702" stop-opacity="0.048"/><stop offset="0.872" stop-opacity="0.088"/><stop offset="0.934" stop-opacity="0.135"/><stop offset="0.942" stop-opacity="0.151"/><stop offset="0.965" stop-opacity="0.241"/><stop offset="0.981" stop-opacity="0.282"/><stop offset="0.988" stop-opacity="0.000"/><stop offset="0.996" stop-opacity="0.000"/></linearGradient><linearGradient id="heg79" x1="0" y1="0" x2="0" y2="1"><stop offset="0.004" stop-opacity="0.000"/><stop offset="0.438" stop-opacity="0.011"/><stop offset="0.702" stop-opacity="0.046"/><stop offset="0.872" stop-opacity="0.085"/><stop offset="0.934" stop-opacity="0.132"/><stop offset="0.942" stop-opacity="0.148"/><stop offset="0.965" stop-opacity="0.236"/><stop offset="0.981" stop-opacity="0.277"/><stop offset="0.988" stop-opacity="0.000"/><stop offset="0.996" stop-opacity="0.000"/></linearGradient><linearGradient id="heg80" x1="0" y1="0" x2="0" y2="1"><stop offset="0.004" stop-opacity="0.000"/><stop offset="0.446" stop-opacity="0.011"/><stop offset="0.702" stop-opacity="0.044"/><stop offset="0.872" stop-opacity="0.082"/><stop offset="0.934" stop-opacity="0.128"/><stop offset="0.942" stop-opacity="0.143"/><stop offset="0.965" stop-opacity="0.230"/><stop offset="0.981" stop-opacity="0.270"/><stop offset="0.988" stop-opacity="0.000"/><stop offset="0.996" stop-opacity="0.000"/></linearGradient><linearGradient id="heg81" x1="0" y1="0" x2="0" y2="1"><stop offset="0.004" stop-opacity="0.000"/><stop offset="0.446" stop-opacity="0.011"/><stop offset="0.694" stop-opacity="0.044"/><stop offset="0.872" stop-opacity="0.086"/><stop offset="0.934" stop-opacity="0.134"/><stop offset="0.942" stop-opacity="0.150"/><stop offset="0.965" stop-opacity="0.242"/><stop offset="0.981" stop-opacity="0.284"/><stop offset="0.988" stop-opacity="0.000"/><stop offset="0.996" stop-opacity="0.000"/></linearGradient><linearGradient id="heg82" x1="0" y1="0" x2="0" y2="1"><stop offset="0.004" stop-opacity="0.000"/><stop offset="0.461" stop-opacity="0.012"/><stop offset="0.702" stop-opacity="0.042"/><stop offset="0.872" stop-opacity="0.080"/><stop offset="0.934" stop-opacity="0.125"/><stop offset="0.942" stop-opacity="0.140"/><stop offset="0.965" stop-opacity="0.226"/><stop offset="0.981" stop-opacity="0.266"/><stop offset="0.988" stop-opacity="0.000"/><stop offset="0.996" stop-opacity="0.000"/></linearGradient><linearGradient id="heg83" x1="0" y1="0" x2="0" y2="1"><stop offset="0.004" stop-opacity="0.000"/><stop offset="0.461" stop-opacity="0.012"/><stop offset="0.702" stop-opacity="0.043"/><stop offset="0.872" stop-opacity="0.083"/><stop offset="0.934" stop-opacity="0.130"/><stop offset="0.942" stop-opacity="0.146"/><stop offset="0.965" stop-opacity="0.235"/><stop offset="0.981" stop-opacity="0.277"/><stop offset="0.988" stop-opacity="0.000"/><stop offset="0.996" stop-opacity="0.000"/></linearGradient><linearGradient id="heg85" x1="0" y1="0" x2="0" y2="1"><stop offset="0.004" stop-opacity="0.000"/><stop offset="0.484" stop-opacity="0.012"/><stop offset="0.709" stop-opacity="0.041"/><stop offset="0.872" stop-opacity="0.076"/><stop offset="0.934" stop-opacity="0.120"/><stop offset="0.942" stop-opacity="0.136"/><stop offset="0.965" stop-opacity="0.220"/><stop offset="0.981" stop-opacity="0.260"/><stop offset="0.988" stop-opacity="0.000"/><stop offset="0.996" stop-opacity="0.000"/></linearGradient><linearGradient id="heg86" x1="0" y1="0" x2="0" y2="1"><stop offset="0.004" stop-opacity="0.000"/><stop offset="0.484" stop-opacity="0.012"/><stop offset="0.709" stop-opacity="0.041"/><stop offset="0.872" stop-opacity="0.078"/><stop offset="0.934" stop-opacity="0.123"/><stop offset="0.942" stop-opacity="0.139"/><stop offset="0.965" stop-opacity="0.226"/><stop offset="0.981" stop-opacity="0.268"/><stop offset="0.988" stop-opacity="0.000"/><stop offset="0.996" stop-opacity="0.000"/></linearGradient><linearGradient id="heg87" x1="0" y1="0" x2="0" y2="1"><stop offset="0.004" stop-opacity="0.000"/><stop offset="0.500" stop-opacity="0.013"/><stop offset="0.717" stop-opacity="0.041"/><stop offset="0.872" stop-opacity="0.075"/><stop offset="0.934" stop-opacity="0.119"/><stop offset="0.942" stop-opacity="0.134"/><stop offset="0.965" stop-opacity="0.219"/><stop offset="0.981" stop-opacity="0.260"/><stop offset="0.988" stop-opacity="0.000"/><stop offset="0.996" stop-opacity="0.000"/></linearGradient><linearGradient id="heg88" x1="0" y1="0" x2="0" y2="1"><stop offset="0.004" stop-opacity="0.000"/><stop offset="0.508" stop-opacity="0.013"/><stop offset="0.717" stop-opacity="0.041"/><stop offset="0.872" stop-opacity="0.077"/><stop offset="0.934" stop-opacity="0.123"/><stop offset="0.942" stop-opacity="0.138"/><stop offset="0.965" stop-opacity="0.227"/><stop offset="0.981" stop-opacity="0.270"/><stop offset="0.988" stop-opacity="0.000"/><stop offset="0.996" stop-opacity="0.000"/></linearGradient><linearGradient id="heg89" x1="0" y1="0" x2="0" y2="1"><stop offset="0.004" stop-opacity="0.000"/><stop offset="0.516" stop-opacity="0.013"/><stop offset="0.717" stop-opacity="0.042"/><stop offset="0.872" stop-opacity="0.078"/><stop offset="0.934" stop-opacity="0.125"/><stop offset="0.942" stop-opacity="0.142"/><stop offset="0.965" stop-opacity="0.232"/><stop offset="0.981" stop-opacity="0.277"/><stop offset="0.988" stop-opacity="0.000"/><stop offset="0.996" stop-opacity="0.000"/></linearGradient><linearGradient id="heg91" x1="0" y1="0" x2="0" y2="1"><stop offset="0.004" stop-opacity="0.000"/><stop offset="0.539" stop-opacity="0.013"/><stop offset="0.748" stop-opacity="0.042"/><stop offset="0.872" stop-opacity="0.070"/><stop offset="0.934" stop-opacity="0.113"/><stop offset="0.942" stop-opacity="0.128"/><stop offset="0.965" stop-opacity="0.212"/><stop offset="0.981" stop-opacity="0.253"/><stop offset="0.988" stop-opacity="0.000"/><stop offset="0.996" stop-opacity="0.000"/></linearGradient><linearGradient id="heg92" x1="0" y1="0" x2="0" y2="1"><stop offset="0.004" stop-opacity="0.000"/><stop offset="0.547" stop-opacity="0.014"/><stop offset="0.748" stop-opacity="0.042"/><stop offset="0.872" stop-opacity="0.071"/><stop offset="0.934" stop-opacity="0.116"/><stop offset="0.942" stop-opacity="0.131"/><stop offset="0.965" stop-opacity="0.217"/><stop offset="0.981" stop-opacity="0.260"/><stop offset="0.988" stop-opacity="0.000"/><stop offset="0.996" stop-opacity="0.000"/></linearGradient><linearGradient id="heg93" x1="0" y1="0" x2="0" y2="1"><stop offset="0.004" stop-opacity="0.000"/><stop offset="0.554" stop-opacity="0.015"/><stop offset="0.748" stop-opacity="0.042"/><stop offset="0.872" stop-opacity="0.073"/><stop offset="0.934" stop-opacity="0.118"/><stop offset="0.942" stop-opacity="0.134"/><stop offset="0.965" stop-opacity="0.223"/><stop offset="0.981" stop-opacity="0.267"/><stop offset="0.988" stop-opacity="0.000"/><stop offset="0.996" stop-opacity="0.000"/></linearGradient><linearGradient id="heg94" x1="0" y1="0" x2="0" y2="1"><stop offset="0.004" stop-opacity="0.000"/><stop offset="0.562" stop-opacity="0.015"/><stop offset="0.756" stop-opacity="0.044"/><stop offset="0.872" stop-opacity="0.073"/><stop offset="0.934" stop-opacity="0.120"/><stop offset="0.942" stop-opacity="0.136"/><stop offset="0.965" stop-opacity="0.226"/><stop offset="0.981" stop-opacity="0.272"/><stop offset="0.988" stop-opacity="0.000"/><stop offset="0.996" stop-opacity="0.000"/></linearGradient><linearGradient id="heg95" x1="0" y1="0" x2="0" y2="1"><stop offset="0.004" stop-opacity="0.000"/><stop offset="0.570" stop-opacity="0.015"/><stop offset="0.764" stop-opacity="0.043"/><stop offset="0.872" stop-opacity="0.070"/><stop offset="0.934" stop-opacity="0.115"/><stop offset="0.942" stop-opacity="0.131"/><stop offset="0.965" stop-opacity="0.218"/><stop offset="0.981" stop-opacity="0.263"/><stop offset="0.988" stop-opacity="0.000"/><stop offset="0.996" stop-opacity="0.000"/></linearGradient><linearGradient id="heg96" x1="0" y1="0" x2="0" y2="1"><stop offset="0.004" stop-opacity="0.000"/><stop offset="0.585" stop-opacity="0.015"/><stop offset="0.795" stop-opacity="0.048"/><stop offset="0.872" stop-opacity="0.066"/><stop offset="0.934" stop-opacity="0.110"/><stop offset="0.942" stop-opacity="0.124"/><stop offset="0.965" stop-opacity="0.208"/><stop offset="0.981" stop-opacity="0.252"/><stop offset="0.988" stop-opacity="0.000"/><stop offset="0.996" stop-opacity="0.000"/></linearGradient><linearGradient id="heg98" x1="0" y1="0" x2="0" y2="1"><stop offset="0.004" stop-opacity="0.000"/><stop offset="0.640" stop-opacity="0.017"/><stop offset="0.872" stop-opacity="0.062"/><stop offset="0.934" stop-opacity="0.105"/><stop offset="0.942" stop-opacity="0.119"/><stop offset="0.973" stop-opacity="0.221"/><stop offset="0.981" stop-opacity="0.243"/><stop offset="0.988" stop-opacity="0.000"/><stop offset="0.996" stop-opacity="0.000"/></linearGradient><linearGradient id="heg99" x1="0" y1="0" x2="0" y2="1"><stop offset="0.004" stop-opacity="0.000"/><stop offset="0.647" stop-opacity="0.017"/><stop offset="0.872" stop-opacity="0.059"/><stop offset="0.934" stop-opacity="0.101"/><stop offset="0.942" stop-opacity="0.115"/><stop offset="0.973" stop-opacity="0.213"/><stop offset="0.981" stop-opacity="0.235"/><stop offset="0.988" stop-opacity="0.000"/><stop offset="0.996" stop-opacity="0.000"/></linearGradient><linearGradient id="heg100" x1="0" y1="0" x2="0" y2="1"><stop offset="0.004" stop-opacity="0.000"/><stop offset="0.686" stop-opacity="0.014"/><stop offset="0.880" stop-opacity="0.041"/><stop offset="0.934" stop-opacity="0.066"/><stop offset="0.950" stop-opacity="0.091"/><stop offset="0.981" stop-opacity="0.154"/><stop offset="0.988" stop-opacity="0.000"/><stop offset="0.996" stop-opacity="0.000"/></linearGradient><linearGradient id="heg101" x1="0" y1="0" x2="0" y2="1"><stop offset="0.004" stop-opacity="0.000"/><stop offset="0.795" stop-opacity="0.009"/><stop offset="0.934" stop-opacity="0.022"/><stop offset="0.981" stop-opacity="0.052"/><stop offset="0.988" stop-opacity="0.000"/><stop offset="0.996" stop-opacity="0.000"/></linearGradient></defs>
<g filter="url(#fheg)"><rect x="321" y="200" width="1" height="129" fill="url(#heg32)"/><rect x="322" y="200" width="1" height="129" fill="url(#heg33)"/><rect x="323" y="200" width="1" height="129" fill="url(#heg34)"/><rect x="324" y="200" width="1" height="129" fill="url(#heg35)"/><rect x="325" y="200" width="1" height="129" fill="url(#heg36)"/><rect x="326" y="200" width="1" height="129" fill="url(#heg37)"/><rect x="327" y="200" width="1" height="129" fill="url(#heg38)"/><rect x="328" y="200" width="1" height="129" fill="url(#heg39)"/><rect x="329" y="200" width="1" height="129" fill="url(#heg40)"/><rect x="330" y="200" width="1" height="129" fill="url(#heg41)"/><rect x="331" y="200" width="1" height="129" fill="url(#heg42)"/><rect x="332" y="200" width="1" height="129" fill="url(#heg43)"/><rect x="333" y="200" width="1" height="129" fill="url(#heg44)"/><rect x="334" y="200" width="1" height="129" fill="url(#heg45)"/><rect x="335" y="200" width="1" height="129" fill="url(#heg46)"/><rect x="336" y="200" width="1" height="129" fill="url(#heg47)"/><rect x="337" y="200" width="1" height="129" fill="url(#heg48)"/><rect x="338" y="200" width="1" height="129" fill="url(#heg49)"/><rect x="339" y="200" width="1" height="129" fill="url(#heg50)"/><rect x="340" y="200" width="1" height="129" fill="url(#heg51)"/><rect x="341" y="200" width="1" height="129" fill="url(#heg52)"/><rect x="342" y="200" width="1" height="129" fill="url(#heg53)"/><rect x="343" y="200" width="1" height="129" fill="url(#heg54)"/><rect x="344" y="200" width="1" height="129" fill="url(#heg55)"/><rect x="345" y="200" width="1" height="129" fill="url(#heg56)"/><rect x="346" y="200" width="1" height="129" fill="url(#heg57)"/><rect x="347" y="200" width="1" height="129" fill="url(#heg58)"/><rect x="348" y="200" width="1" height="129" fill="url(#heg59)"/><rect x="349" y="200" width="1" height="129" fill="url(#heg60)"/><rect x="350" y="200" width="1" height="129" fill="url(#heg61)"/><rect x="351" y="200" width="3" height="129" fill="url(#heg62)"/><rect x="354" y="200" width="1" height="129" fill="url(#heg65)"/><rect x="355" y="200" width="1" height="129" fill="url(#heg66)"/><rect x="356" y="200" width="2" height="129" fill="url(#heg67)"/><rect x="358" y="200" width="1" height="129" fill="url(#heg69)"/><rect x="359" y="200" width="1" height="129" fill="url(#heg70)"/><rect x="360" y="200" width="1" height="129" fill="url(#heg71)"/><rect x="361" y="200" width="1" height="129" fill="url(#heg72)"/><rect x="362" y="200" width="2" height="129" fill="url(#heg73)"/><rect x="364" y="200" width="1" height="129" fill="url(#heg75)"/><rect x="365" y="200" width="1" height="129" fill="url(#heg76)"/><rect x="366" y="200" width="1" height="129" fill="url(#heg77)"/><rect x="367" y="200" width="1" height="129" fill="url(#heg78)"/><rect x="368" y="200" width="1" height="129" fill="url(#heg79)"/><rect x="369" y="200" width="1" height="129" fill="url(#heg80)"/><rect x="370" y="200" width="1" height="129" fill="url(#heg81)"/><rect x="371" y="200" width="1" height="129" fill="url(#heg82)"/><rect x="372" y="200" width="2" height="129" fill="url(#heg83)"/><rect x="374" y="200" width="1" height="129" fill="url(#heg85)"/><rect x="375" y="200" width="1" height="129" fill="url(#heg86)"/><rect x="376" y="200" width="1" height="129" fill="url(#heg87)"/><rect x="377" y="200" width="1" height="129" fill="url(#heg88)"/><rect x="378" y="200" width="2" height="129" fill="url(#heg89)"/><rect x="380" y="200" width="1" height="129" fill="url(#heg91)"/><rect x="381" y="200" width="1" height="129" fill="url(#heg92)"/><rect x="382" y="200" width="1" height="129" fill="url(#heg93)"/><rect x="383" y="200" width="1" height="129" fill="url(#heg94)"/><rect x="384" y="200" width="1" height="129" fill="url(#heg95)"/><rect x="385" y="200" width="2" height="129" fill="url(#heg96)"/><rect x="387" y="200" width="1" height="129" fill="url(#heg98)"/><rect x="388" y="200" width="1" height="129" fill="url(#heg99)"/><rect x="389" y="200" width="1" height="129" fill="url(#heg100)"/><rect x="390" y="200" width="1" height="129" fill="url(#heg101)"/></g>
<rect x="524" y="200" width="2" height="134" fill="rgb(237,234,229)"/>
<rect x="526" y="200" width="1" height="134" fill="rgb(235,232,227)"/>
<rect x="527" y="200" width="1" height="134" fill="rgb(238,235,230)"/>
<rect x="528" y="200" width="1" height="134" fill="rgb(232,229,224)"/>
<rect x="529" y="200" width="1" height="134" fill="rgb(234,231,226)"/>
<rect x="530" y="200" width="2" height="134" fill="rgb(236,233,228)"/>
<rect x="532" y="200" width="1" height="134" fill="rgb(234,231,226)"/>
<rect x="533" y="200" width="1" height="134" fill="rgb(237,234,229)"/>
<rect x="534" y="200" width="1" height="134" fill="rgb(239,236,231)"/>
<rect x="535" y="200" width="4" height="134" fill="rgb(237,234,229)"/>
<rect x="539" y="200" width="1" height="134" fill="rgb(234,231,226)"/>
<rect x="540" y="200" width="1" height="134" fill="rgb(236,233,228)"/>
<rect x="541" y="200" width="1" height="134" fill="rgb(239,236,231)"/>
<rect x="542" y="200" width="1" height="134" fill="rgb(234,231,226)"/>
<rect x="543" y="200" width="1" height="134" fill="rgb(237,234,229)"/>
<rect x="544" y="200" width="1" height="134" fill="rgb(236,233,228)"/>
<rect x="545" y="200" width="2" height="134" fill="rgb(235,232,227)"/>
<rect x="547" y="200" width="3" height="134" fill="rgb(237,234,229)"/>
<rect x="550" y="200" width="1" height="134" fill="rgb(234,231,226)"/>
<rect x="551" y="200" width="1" height="134" fill="rgb(236,233,228)"/>
<rect x="552" y="200" width="1" height="134" fill="rgb(237,234,229)"/>
<rect x="553" y="200" width="5" height="134" fill="rgb(238,235,230)"/>
<rect x="558" y="200" width="1" height="134" fill="rgb(235,232,227)"/>
<rect x="559" y="200" width="1" height="134" fill="rgb(237,234,229)"/>
<rect x="560" y="200" width="1" height="134" fill="rgb(235,232,227)"/>
<rect x="561" y="200" width="1" height="134" fill="rgb(232,229,224)"/>
<rect x="562" y="200" width="1" height="134" fill="rgb(233,230,225)"/>
<rect x="563" y="200" width="1" height="134" fill="rgb(241,238,233)"/>
<rect x="564" y="200" width="1" height="134" fill="rgb(234,231,226)"/>
<rect x="565" y="200" width="1" height="134" fill="rgb(232,229,224)"/>
<rect x="566" y="200" width="1" height="134" fill="rgb(235,232,227)"/>
<rect x="567" y="200" width="1" height="134" fill="rgb(240,237,232)"/>
<rect x="568" y="200" width="1" height="134" fill="rgb(236,233,228)"/>
<rect x="569" y="200" width="1" height="134" fill="rgb(237,234,229)"/>
<rect x="570" y="200" width="2" height="134" fill="rgb(236,233,228)"/>
<rect x="572" y="200" width="1" height="134" fill="rgb(239,236,231)"/>
<rect x="573" y="200" width="1" height="134" fill="rgb(238,235,230)"/>
<rect x="574" y="200" width="1" height="134" fill="rgb(236,233,228)"/>
<rect x="575" y="200" width="2" height="134" fill="rgb(238,235,230)"/>
<rect x="577" y="200" width="1" height="134" fill="rgb(236,233,228)"/>
<rect x="578" y="200" width="2" height="134" fill="rgb(237,234,229)"/>
<rect x="580" y="200" width="1" height="134" fill="rgb(235,232,227)"/>
<rect x="581" y="200" width="1" height="134" fill="rgb(239,236,231)"/>
<rect x="582" y="200" width="1" height="134" fill="rgb(236,233,228)"/>
<rect x="583" y="200" width="1" height="134" fill="rgb(235,232,227)"/>
<rect x="584" y="200" width="1" height="134" fill="rgb(233,230,225)"/>
<rect x="585" y="200" width="1" height="134" fill="rgb(234,231,226)"/>
<rect x="586" y="200" width="1" height="134" fill="rgb(240,237,232)"/>
<rect x="587" y="200" width="1" height="134" fill="rgb(234,231,226)"/>
<rect x="588" y="200" width="1" height="134" fill="rgb(237,234,229)"/>
<rect x="589" y="200" width="1" height="134" fill="rgb(236,233,228)"/>
<rect x="590" y="200" width="2" height="134" fill="rgb(238,235,230)"/>
<rect x="592" y="200" width="1" height="134" fill="rgb(235,232,227)"/>
<rect x="593" y="200" width="2" height="134" fill="rgb(236,233,228)"/>
<rect x="595" y="200" width="2" height="134" fill="rgb(237,234,229)"/>
<rect x="597" y="200" width="1" height="134" fill="rgb(236,233,228)"/>
<rect x="598" y="200" width="1" height="134" fill="rgb(238,235,230)"/>
<rect x="599" y="200" width="1" height="134" fill="rgb(239,236,231)"/>
<rect x="600" y="200" width="1" height="134" fill="rgb(238,235,230)"/>
<rect x="601" y="200" width="1" height="134" fill="rgb(235,232,227)"/>
<rect x="602" y="200" width="3" height="134" fill="rgb(237,234,229)"/>
<rect x="605" y="200" width="1" height="134" fill="rgb(240,237,232)"/>
<rect x="606" y="200" width="2" height="134" fill="rgb(236,233,228)"/>
<rect x="608" y="200" width="1" height="134" fill="rgb(235,232,227)"/>
<rect x="609" y="200" width="2" height="134" fill="rgb(236,233,228)"/>
<rect x="611" y="200" width="1" height="134" fill="rgb(240,237,232)"/>
<rect x="612" y="200" width="1" height="134" fill="rgb(237,234,229)"/>
<rect x="613" y="200" width="1" height="134" fill="rgb(235,232,227)"/>
<rect x="614" y="200" width="1" height="134" fill="rgb(240,237,232)"/>
<rect x="615" y="200" width="1" height="134" fill="rgb(234,231,226)"/>
<rect x="616" y="200" width="3" height="134" fill="rgb(238,235,230)"/>
<rect x="619" y="200" width="3" height="134" fill="rgb(236,233,228)"/>
<rect x="622" y="200" width="1" height="134" fill="rgb(238,235,230)"/>
<rect x="623" y="200" width="1" height="134" fill="rgb(232,229,224)"/>
<rect x="624" y="200" width="1" height="134" fill="rgb(235,232,227)"/>
<rect x="625" y="200" width="1" height="134" fill="rgb(237,234,229)"/>
<rect x="626" y="200" width="1" height="134" fill="rgb(235,232,227)"/>
<rect x="627" y="200" width="1" height="134" fill="rgb(233,230,225)"/>
<rect x="628" y="200" width="1" height="134" fill="rgb(236,233,228)"/>
<rect x="629" y="200" width="1" height="134" fill="rgb(235,232,227)"/>
<rect x="630" y="200" width="1" height="134" fill="rgb(238,235,230)"/>
<rect x="631" y="200" width="1" height="134" fill="rgb(239,236,231)"/>
<rect x="632" y="200" width="1" height="134" fill="rgb(237,234,229)"/>
<rect x="633" y="200" width="1" height="134" fill="rgb(233,230,225)"/>
<rect x="634" y="200" width="1" height="134" fill="rgb(236,233,228)"/>
<rect x="635" y="200" width="1" height="134" fill="rgb(235,232,227)"/>
<rect x="636" y="200" width="1" height="134" fill="rgb(238,235,230)"/>
<rect x="637" y="200" width="1" height="134" fill="rgb(240,237,232)"/>
<rect x="638" y="200" width="1" height="134" fill="rgb(237,234,229)"/>
<rect x="639" y="200" width="1" height="134" fill="rgb(241,238,233)"/>
<rect x="640" y="200" width="1" height="134" fill="rgb(240,237,232)"/>
<rect x="641" y="200" width="1" height="134" fill="rgb(238,235,230)"/>
<rect x="642" y="200" width="1" height="134" fill="rgb(235,232,227)"/>
<rect x="643" y="200" width="1" height="134" fill="rgb(237,234,229)"/>
<rect x="644" y="200" width="1" height="134" fill="rgb(234,231,226)"/>
<rect x="645" y="200" width="1" height="134" fill="rgb(239,236,231)"/>
<rect x="646" y="200" width="1" height="134" fill="rgb(237,234,229)"/>
<rect x="647" y="200" width="1" height="134" fill="rgb(239,236,231)"/>
<rect x="648" y="200" width="1" height="134" fill="rgb(237,234,229)"/>
<rect x="649" y="200" width="1" height="134" fill="rgb(233,230,225)"/>
<rect x="650" y="200" width="2" height="134" fill="rgb(238,235,230)"/>
<rect x="652" y="200" width="1" height="134" fill="rgb(240,237,232)"/>
<rect x="653" y="200" width="2" height="134" fill="rgb(235,232,227)"/>
<rect x="655" y="200" width="1" height="134" fill="rgb(237,234,229)"/>
<rect x="656" y="200" width="3" height="134" fill="rgb(235,232,227)"/>
<rect x="659" y="200" width="1" height="134" fill="rgb(242,239,234)"/>
<rect x="660" y="200" width="3" height="134" fill="rgb(236,233,228)"/>
<rect x="663" y="200" width="1" height="134" fill="rgb(237,234,229)"/>
<defs><filter id="fhft" filterUnits="userSpaceOnUse" x="524" y="200" width="140" height="134" color-interpolation-filters="sRGB"><feComponentTransfer in="SourceAlpha" result="ind"><feFuncA type="linear" slope="15" intercept="0"/></feComponentTransfer><feTurbulence type="fractalNoise" baseFrequency="0.9 0.270" numOctaves="1" seed="31" result="T"/><feColorMatrix in="T" type="matrix" values="0 0 0 0 0  0 0 0 0 0  0 0 0 0 0  1 0 0 0 -0.5" result="P"/><feColorMatrix in="T" type="matrix" values="0 0 0 0 0  0 0 0 0 0  0 0 0 0 0  -1 0 0 0 0.5" result="Q"/><feComposite in="ind" in2="P" operator="arithmetic" k1="1" k2="0" k3="0" k4="0" result="PP"/><feComposite in="ind" in2="Q" operator="arithmetic" k1="1" k2="0" k3="0" k4="0" result="QQ"/><feComposite in="SourceGraphic" in2="QQ" operator="arithmetic" k1="0" k2="1" k3="-0.1500" k4="0" result="S1"/><feComposite in="S1" in2="PP" operator="arithmetic" k1="0" k2="1" k3="0.1500" k4="0" result="S2"/><feComponentTransfer in="S2" result="S3"><feFuncA type="linear" slope="3" intercept="0"/></feComponentTransfer><feColorMatrix in="S3" type="matrix" values="0 0 0 0 0.5882  0 0 0 0 0.5451  0 0 0 0 0.4863  0 0 0 1 0"/></filter><linearGradient id="hft0" x1="0" y1="0" x2="0" y2="1"><stop offset="0.004" stop-opacity="0.024"/><stop offset="0.414" stop-opacity="0.043"/><stop offset="0.571" stop-opacity="0.070"/><stop offset="0.683" stop-opacity="0.119"/><stop offset="0.832" stop-opacity="0.275"/><stop offset="0.899" stop-opacity="0.299"/><stop offset="0.974" stop-opacity="0.457"/><stop offset="0.981" stop-opacity="0.000"/><stop offset="0.996" stop-opacity="0.000"/></linearGradient><linearGradient id="hft1" x1="0" y1="0" x2="0" y2="1"><stop offset="0.004" stop-opacity="0.027"/><stop offset="0.414" stop-opacity="0.045"/><stop offset="0.571" stop-opacity="0.071"/><stop offset="0.683" stop-opacity="0.121"/><stop offset="0.832" stop-opacity="0.284"/><stop offset="0.877" stop-opacity="0.299"/><stop offset="0.974" stop-opacity="0.491"/><stop offset="0.981" stop-opacity="0.000"/><stop offset="0.996" stop-opacity="0.000"/></linearGradient><linearGradient id="hft6" x1="0" y1="0" x2="0" y2="1"><stop offset="0.004" stop-opacity="0.003"/><stop offset="0.414" stop-opacity="0.026"/><stop offset="0.593" stop-opacity="0.064"/><stop offset="0.683" stop-opacity="0.096"/><stop offset="0.780" stop-opacity="0.205"/><stop offset="0.832" stop-opacity="0.268"/><stop offset="0.899" stop-opacity="0.299"/><stop offset="0.974" stop-opacity="0.471"/><stop offset="0.981" stop-opacity="0.000"/><stop offset="0.996" stop-opacity="0.000"/></linearGradient><linearGradient id="hft7" x1="0" y1="0" x2="0" y2="1"><stop offset="0.004" stop-opacity="0.000"/><stop offset="0.504" stop-opacity="0.005"/><stop offset="0.690" stop-opacity="0.024"/><stop offset="0.757" stop-opacity="0.062"/><stop offset="0.854" stop-opacity="0.191"/><stop offset="0.937" stop-opacity="0.269"/><stop offset="0.974" stop-opacity="0.296"/><stop offset="0.981" stop-opacity="0.000"/><stop offset="0.996" stop-opacity="0.000"/></linearGradient><linearGradient id="hft8" x1="0" y1="0" x2="0" y2="1"><stop offset="0.004" stop-opacity="0.000"/><stop offset="0.802" stop-opacity="0.004"/><stop offset="0.854" stop-opacity="0.025"/><stop offset="0.907" stop-opacity="0.075"/><stop offset="0.974" stop-opacity="0.162"/><stop offset="0.981" stop-opacity="0.000"/><stop offset="0.996" stop-opacity="0.000"/></linearGradient><linearGradient id="hft9" x1="0" y1="0" x2="0" y2="1"><stop offset="0.004" stop-opacity="0.000"/><stop offset="0.937" stop-opacity="0.003"/><stop offset="0.974" stop-opacity="0.014"/><stop offset="0.981" stop-opacity="0.000"/><stop offset="0.996" stop-opacity="0.000"/></linearGradient><linearGradient id="hft15" x1="0" y1="0" x2="0" y2="1"><stop offset="0.004" stop-opacity="0.000"/><stop offset="0.951" stop-opacity="0.004"/><stop offset="0.974" stop-opacity="0.009"/><stop offset="0.981" stop-opacity="0.000"/><stop offset="0.996" stop-opacity="0.000"/></linearGradient><linearGradient id="hft16" x1="0" y1="0" x2="0" y2="1"><stop offset="0.004" stop-opacity="0.000"/><stop offset="0.869" stop-opacity="0.004"/><stop offset="0.922" stop-opacity="0.026"/><stop offset="0.974" stop-opacity="0.077"/><stop offset="0.981" stop-opacity="0.000"/><stop offset="0.996" stop-opacity="0.000"/></linearGradient><linearGradient id="hft17" x1="0" y1="0" x2="0" y2="1"><stop offset="0.004" stop-opacity="0.000"/><stop offset="0.795" stop-opacity="0.003"/><stop offset="0.832" stop-opacity="0.024"/><stop offset="0.884" stop-opacity="0.077"/><stop offset="0.974" stop-opacity="0.197"/><stop offset="0.981" stop-opacity="0.000"/><stop offset="0.996" stop-opacity="0.000"/></linearGradient><linearGradient id="hft18" x1="0" y1="0" x2="0" y2="1"><stop offset="0.004" stop-opacity="0.000"/><stop offset="0.743" stop-opacity="0.004"/><stop offset="0.772" stop-opacity="0.023"/><stop offset="0.802" stop-opacity="0.068"/><stop offset="0.832" stop-opacity="0.130"/><stop offset="0.907" stop-opacity="0.224"/><stop offset="0.974" stop-opacity="0.283"/><stop offset="0.981" stop-opacity="0.000"/><stop offset="0.996" stop-opacity="0.000"/></linearGradient><linearGradient id="hft19" x1="0" y1="0" x2="0" y2="1"><stop offset="0.004" stop-opacity="0.000"/><stop offset="0.683" stop-opacity="0.004"/><stop offset="0.713" stop-opacity="0.022"/><stop offset="0.743" stop-opacity="0.063"/><stop offset="0.825" stop-opacity="0.228"/><stop offset="0.877" stop-opacity="0.272"/><stop offset="0.929" stop-opacity="0.304"/><stop offset="0.974" stop-opacity="0.416"/><stop offset="0.981" stop-opacity="0.000"/><stop offset="0.996" stop-opacity="0.000"/></linearGradient><linearGradient id="hft20" x1="0" y1="0" x2="0" y2="1"><stop offset="0.004" stop-opacity="0.000"/><stop offset="0.586" stop-opacity="0.004"/><stop offset="0.653" stop-opacity="0.030"/><stop offset="0.683" stop-opacity="0.054"/><stop offset="0.772" stop-opacity="0.210"/><stop offset="0.825" stop-opacity="0.280"/><stop offset="0.869" stop-opacity="0.300"/><stop offset="0.951" stop-opacity="0.445"/><stop offset="0.974" stop-opacity="0.480"/><stop offset="0.981" stop-opacity="0.000"/><stop offset="0.996" stop-opacity="0.000"/></linearGradient><linearGradient id="hft21" x1="0" y1="0" x2="0" y2="1"><stop offset="0.004" stop-opacity="0.000"/><stop offset="0.496" stop-opacity="0.003"/><stop offset="0.571" stop-opacity="0.034"/><stop offset="0.683" stop-opacity="0.117"/><stop offset="0.757" stop-opacity="0.226"/><stop offset="0.832" stop-opacity="0.298"/><stop offset="0.847" stop-opacity="0.314"/><stop offset="0.974" stop-opacity="0.493"/><stop offset="0.981" stop-opacity="0.000"/><stop offset="0.996" stop-opacity="0.000"/></linearGradient><linearGradient id="hft22" x1="0" y1="0" x2="0" y2="1"><stop offset="0.004" stop-opacity="0.000"/><stop offset="0.407" stop-opacity="0.006"/><stop offset="0.459" stop-opacity="0.019"/><stop offset="0.660" stop-opacity="0.125"/><stop offset="0.683" stop-opacity="0.140"/><stop offset="0.765" stop-opacity="0.242"/><stop offset="0.840" stop-opacity="0.314"/><stop offset="0.974" stop-opacity="0.495"/><stop offset="0.981" stop-opacity="0.000"/><stop offset="0.996" stop-opacity="0.000"/></linearGradient><linearGradient id="hft23" x1="0" y1="0" x2="0" y2="1"><stop offset="0.004" stop-opacity="0.000"/><stop offset="0.205" stop-opacity="0.011"/><stop offset="0.444" stop-opacity="0.044"/><stop offset="0.586" stop-opacity="0.094"/><stop offset="0.683" stop-opacity="0.144"/><stop offset="0.765" stop-opacity="0.243"/><stop offset="0.840" stop-opacity="0.315"/><stop offset="0.974" stop-opacity="0.495"/><stop offset="0.981" stop-opacity="0.000"/><stop offset="0.996" stop-opacity="0.000"/></linearGradient><linearGradient id="hft24" x1="0" y1="0" x2="0" y2="1"><stop offset="0.004" stop-opacity="0.017"/><stop offset="0.451" stop-opacity="0.054"/><stop offset="0.578" stop-opacity="0.092"/><stop offset="0.683" stop-opacity="0.145"/><stop offset="0.765" stop-opacity="0.243"/><stop offset="0.840" stop-opacity="0.315"/><stop offset="0.974" stop-opacity="0.495"/><stop offset="0.981" stop-opacity="0.000"/><stop offset="0.996" stop-opacity="0.000"/></linearGradient><linearGradient id="hft25" x1="0" y1="0" x2="0" y2="1"><stop offset="0.004" stop-opacity="0.028"/><stop offset="0.451" stop-opacity="0.055"/><stop offset="0.578" stop-opacity="0.092"/><stop offset="0.683" stop-opacity="0.145"/><stop offset="0.765" stop-opacity="0.243"/><stop offset="0.840" stop-opacity="0.315"/><stop offset="0.974" stop-opacity="0.495"/><stop offset="0.981" stop-opacity="0.000"/><stop offset="0.996" stop-opacity="0.000"/></linearGradient><linearGradient id="hft28" x1="0" y1="0" x2="0" y2="1"><stop offset="0.004" stop-opacity="0.028"/><stop offset="0.451" stop-opacity="0.055"/><stop offset="0.578" stop-opacity="0.092"/><stop offset="0.683" stop-opacity="0.145"/><stop offset="0.765" stop-opacity="0.243"/><stop offset="0.840" stop-opacity="0.311"/><stop offset="0.974" stop-opacity="0.491"/><stop offset="0.981" stop-opacity="0.000"/><stop offset="0.996" stop-opacity="0.000"/></linearGradient><linearGradient id="hft29" x1="0" y1="0" x2="0" y2="1"><stop offset="0.004" stop-opacity="0.017"/><stop offset="0.451" stop-opacity="0.054"/><stop offset="0.578" stop-opacity="0.092"/><stop offset="0.683" stop-opacity="0.143"/><stop offset="0.765" stop-opacity="0.240"/><stop offset="0.832" stop-opacity="0.295"/><stop offset="0.854" stop-opacity="0.303"/><stop offset="0.974" stop-opacity="0.465"/><stop offset="0.981" stop-opacity="0.000"/><stop offset="0.996" stop-opacity="0.000"/></linearGradient><linearGradient id="hft30" x1="0" y1="0" x2="0" y2="1"><stop offset="0.004" stop-opacity="0.000"/><stop offset="0.205" stop-opacity="0.011"/><stop offset="0.451" stop-opacity="0.045"/><stop offset="0.601" stop-opacity="0.096"/><stop offset="0.683" stop-opacity="0.133"/><stop offset="0.765" stop-opacity="0.220"/><stop offset="0.832" stop-opacity="0.272"/><stop offset="0.937" stop-opacity="0.301"/><stop offset="0.974" stop-opacity="0.360"/><stop offset="0.981" stop-opacity="0.000"/><stop offset="0.996" stop-opacity="0.000"/></linearGradient><linearGradient id="hft31" x1="0" y1="0" x2="0" y2="1"><stop offset="0.004" stop-opacity="0.000"/><stop offset="0.407" stop-opacity="0.006"/><stop offset="0.489" stop-opacity="0.026"/><stop offset="0.653" stop-opacity="0.082"/><stop offset="0.690" stop-opacity="0.099"/><stop offset="0.832" stop-opacity="0.199"/><stop offset="0.974" stop-opacity="0.257"/><stop offset="0.981" stop-opacity="0.000"/><stop offset="0.996" stop-opacity="0.000"/></linearGradient><linearGradient id="hft32" x1="0" y1="0" x2="0" y2="1"><stop offset="0.004" stop-opacity="0.000"/><stop offset="0.526" stop-opacity="0.004"/><stop offset="0.713" stop-opacity="0.032"/><stop offset="0.840" stop-opacity="0.080"/><stop offset="0.974" stop-opacity="0.152"/><stop offset="0.981" stop-opacity="0.000"/><stop offset="0.996" stop-opacity="0.000"/></linearGradient><linearGradient id="hft33" x1="0" y1="0" x2="0" y2="1"><stop offset="0.004" stop-opacity="0.000"/><stop offset="0.817" stop-opacity="0.005"/><stop offset="0.944" stop-opacity="0.031"/><stop offset="0.974" stop-opacity="0.042"/><stop offset="0.981" stop-opacity="0.000"/><stop offset="0.996" stop-opacity="0.000"/></linearGradient><linearGradient id="hft110" x1="0" y1="0" x2="0" y2="1"><stop offset="0.004" stop-opacity="0.000"/><stop offset="0.929" stop-opacity="0.002"/><stop offset="0.959" stop-opacity="0.018"/><stop offset="0.974" stop-opacity="0.035"/><stop offset="0.981" stop-opacity="0.000"/><stop offset="0.996" stop-opacity="0.000"/></linearGradient><linearGradient id="hft111" x1="0" y1="0" x2="0" y2="1"><stop offset="0.004" stop-opacity="0.000"/><stop offset="0.892" stop-opacity="0.003"/><stop offset="0.922" stop-opacity="0.024"/><stop offset="0.951" stop-opacity="0.073"/><stop offset="0.974" stop-opacity="0.119"/><stop offset="0.981" stop-opacity="0.000"/><stop offset="0.996" stop-opacity="0.000"/></linearGradient><linearGradient id="hft112" x1="0" y1="0" x2="0" y2="1"><stop offset="0.004" stop-opacity="0.000"/><stop offset="0.847" stop-opacity="0.002"/><stop offset="0.877" stop-opacity="0.022"/><stop offset="0.907" stop-opacity="0.075"/><stop offset="0.959" stop-opacity="0.189"/><stop offset="0.974" stop-opacity="0.215"/><stop offset="0.981" stop-opacity="0.000"/><stop offset="0.996" stop-opacity="0.000"/></linearGradient><linearGradient id="hft113" x1="0" y1="0" x2="0" y2="1"><stop offset="0.004" stop-opacity="0.000"/><stop offset="0.810" stop-opacity="0.003"/><stop offset="0.832" stop-opacity="0.019"/><stop offset="0.854" stop-opacity="0.059"/><stop offset="0.914" stop-opacity="0.201"/><stop offset="0.951" stop-opacity="0.260"/><stop offset="0.974" stop-opacity="0.282"/><stop offset="0.981" stop-opacity="0.000"/><stop offset="0.996" stop-opacity="0.000"/></linearGradient><linearGradient id="hft114" x1="0" y1="0" x2="0" y2="1"><stop offset="0.004" stop-opacity="0.000"/><stop offset="0.772" stop-opacity="0.004"/><stop offset="0.795" stop-opacity="0.026"/><stop offset="0.817" stop-opacity="0.077"/><stop offset="0.862" stop-opacity="0.199"/><stop offset="0.892" stop-opacity="0.254"/><stop offset="0.929" stop-opacity="0.293"/><stop offset="0.937" stop-opacity="0.298"/><stop offset="0.966" stop-opacity="0.377"/><stop offset="0.974" stop-opacity="0.392"/><stop offset="0.981" stop-opacity="0.000"/><stop offset="0.996" stop-opacity="0.000"/></linearGradient><linearGradient id="hft115" x1="0" y1="0" x2="0" y2="1"><stop offset="0.004" stop-opacity="0.000"/><stop offset="0.720" stop-opacity="0.003"/><stop offset="0.743" stop-opacity="0.021"/><stop offset="0.765" stop-opacity="0.063"/><stop offset="0.787" stop-opacity="0.126"/><stop offset="0.817" stop-opacity="0.212"/><stop offset="0.847" stop-opacity="0.268"/><stop offset="0.877" stop-opacity="0.299"/><stop offset="0.907" stop-opacity="0.386"/><stop offset="0.937" stop-opacity="0.437"/><stop offset="0.974" stop-opacity="0.469"/><stop offset="0.981" stop-opacity="0.000"/><stop offset="0.996" stop-opacity="0.000"/></linearGradient><linearGradient id="hft116" x1="0" y1="0" x2="0" y2="1"><stop offset="0.004" stop-opacity="0.004"/><stop offset="0.459" stop-opacity="0.017"/><stop offset="0.541" stop-opacity="0.019"/><stop offset="0.623" stop-opacity="0.006"/><stop offset="0.683" stop-opacity="0.013"/><stop offset="0.705" stop-opacity="0.054"/><stop offset="0.757" stop-opacity="0.196"/><stop offset="0.795" stop-opacity="0.271"/><stop offset="0.817" stop-opacity="0.297"/><stop offset="0.847" stop-opacity="0.395"/><stop offset="0.869" stop-opacity="0.439"/><stop offset="0.907" stop-opacity="0.473"/><stop offset="0.974" stop-opacity="0.493"/><stop offset="0.981" stop-opacity="0.000"/><stop offset="0.996" stop-opacity="0.000"/></linearGradient><linearGradient id="hft117" x1="0" y1="0" x2="0" y2="1"><stop offset="0.004" stop-opacity="0.014"/><stop offset="0.377" stop-opacity="0.038"/><stop offset="0.511" stop-opacity="0.071"/><stop offset="0.578" stop-opacity="0.086"/><stop offset="0.608" stop-opacity="0.087"/><stop offset="0.675" stop-opacity="0.147"/><stop offset="0.713" stop-opacity="0.233"/><stop offset="0.750" stop-opacity="0.287"/><stop offset="0.757" stop-opacity="0.295"/><stop offset="0.765" stop-opacity="0.311"/><stop offset="0.780" stop-opacity="0.379"/><stop offset="0.795" stop-opacity="0.421"/><stop offset="0.817" stop-opacity="0.457"/><stop offset="0.854" stop-opacity="0.484"/><stop offset="0.944" stop-opacity="0.498"/><stop offset="0.974" stop-opacity="0.499"/><stop offset="0.981" stop-opacity="0.000"/><stop offset="0.996" stop-opacity="0.000"/></linearGradient><linearGradient id="hft118" x1="0" y1="0" x2="0" y2="1"><stop offset="0.004" stop-opacity="0.018"/><stop offset="0.369" stop-opacity="0.048"/><stop offset="0.481" stop-opacity="0.080"/><stop offset="0.541" stop-opacity="0.110"/><stop offset="0.608" stop-opacity="0.158"/><stop offset="0.683" stop-opacity="0.277"/><stop offset="0.713" stop-opacity="0.300"/><stop offset="0.750" stop-opacity="0.415"/><stop offset="0.772" stop-opacity="0.472"/><stop offset="0.787" stop-opacity="0.487"/><stop offset="0.877" stop-opacity="0.499"/><stop offset="0.974" stop-opacity="0.500"/><stop offset="0.981" stop-opacity="0.000"/><stop offset="0.996" stop-opacity="0.000"/></linearGradient><linearGradient id="hft119" x1="0" y1="0" x2="0" y2="1"><stop offset="0.004" stop-opacity="0.019"/><stop offset="0.362" stop-opacity="0.048"/><stop offset="0.474" stop-opacity="0.080"/><stop offset="0.534" stop-opacity="0.109"/><stop offset="0.608" stop-opacity="0.172"/><stop offset="0.675" stop-opacity="0.291"/><stop offset="0.690" stop-opacity="0.315"/><stop offset="0.772" stop-opacity="0.491"/><stop offset="0.787" stop-opacity="0.499"/><stop offset="0.974" stop-opacity="0.500"/><stop offset="0.981" stop-opacity="0.000"/><stop offset="0.996" stop-opacity="0.000"/></linearGradient><linearGradient id="hft120" x1="0" y1="0" x2="0" y2="1"><stop offset="0.004" stop-opacity="0.019"/><stop offset="0.362" stop-opacity="0.048"/><stop offset="0.474" stop-opacity="0.080"/><stop offset="0.534" stop-opacity="0.109"/><stop offset="0.608" stop-opacity="0.173"/><stop offset="0.698" stop-opacity="0.338"/><stop offset="0.772" stop-opacity="0.492"/><stop offset="0.787" stop-opacity="0.500"/><stop offset="0.974" stop-opacity="0.500"/><stop offset="0.981" stop-opacity="0.000"/><stop offset="0.996" stop-opacity="0.000"/></linearGradient><linearGradient id="hft124" x1="0" y1="0" x2="0" y2="1"><stop offset="0.004" stop-opacity="0.019"/><stop offset="0.362" stop-opacity="0.048"/><stop offset="0.474" stop-opacity="0.080"/><stop offset="0.534" stop-opacity="0.109"/><stop offset="0.608" stop-opacity="0.172"/><stop offset="0.675" stop-opacity="0.291"/><stop offset="0.690" stop-opacity="0.315"/><stop offset="0.772" stop-opacity="0.491"/><stop offset="0.787" stop-opacity="0.499"/><stop offset="0.974" stop-opacity="0.500"/><stop offset="0.981" stop-opacity="0.000"/><stop offset="0.996" stop-opacity="0.000"/></linearGradient><linearGradient id="hft125" x1="0" y1="0" x2="0" y2="1"><stop offset="0.004" stop-opacity="0.018"/><stop offset="0.369" stop-opacity="0.048"/><stop offset="0.481" stop-opacity="0.080"/><stop offset="0.541" stop-opacity="0.110"/><stop offset="0.608" stop-opacity="0.158"/><stop offset="0.683" stop-opacity="0.277"/><stop offset="0.713" stop-opacity="0.300"/><stop offset="0.750" stop-opacity="0.415"/><stop offset="0.772" stop-opacity="0.472"/><stop offset="0.780" stop-opacity="0.482"/><stop offset="0.974" stop-opacity="0.498"/><stop offset="0.981" stop-opacity="0.000"/><stop offset="0.996" stop-opacity="0.000"/></linearGradient><linearGradient id="hft126" x1="0" y1="0" x2="0" y2="1"><stop offset="0.004" stop-opacity="0.014"/><stop offset="0.377" stop-opacity="0.038"/><stop offset="0.511" stop-opacity="0.071"/><stop offset="0.578" stop-opacity="0.086"/><stop offset="0.608" stop-opacity="0.087"/><stop offset="0.675" stop-opacity="0.147"/><stop offset="0.713" stop-opacity="0.233"/><stop offset="0.750" stop-opacity="0.287"/><stop offset="0.757" stop-opacity="0.295"/><stop offset="0.765" stop-opacity="0.311"/><stop offset="0.772" stop-opacity="0.348"/><stop offset="0.780" stop-opacity="0.373"/><stop offset="0.817" stop-opacity="0.422"/><stop offset="0.877" stop-opacity="0.461"/><stop offset="0.966" stop-opacity="0.486"/><stop offset="0.974" stop-opacity="0.487"/><stop offset="0.981" stop-opacity="0.000"/><stop offset="0.996" stop-opacity="0.000"/></linearGradient><linearGradient id="hft127" x1="0" y1="0" x2="0" y2="1"><stop offset="0.004" stop-opacity="0.004"/><stop offset="0.459" stop-opacity="0.017"/><stop offset="0.541" stop-opacity="0.019"/><stop offset="0.623" stop-opacity="0.006"/><stop offset="0.683" stop-opacity="0.013"/><stop offset="0.705" stop-opacity="0.054"/><stop offset="0.757" stop-opacity="0.196"/><stop offset="0.780" stop-opacity="0.241"/><stop offset="0.825" stop-opacity="0.282"/><stop offset="0.862" stop-opacity="0.301"/><stop offset="0.899" stop-opacity="0.376"/><stop offset="0.937" stop-opacity="0.422"/><stop offset="0.974" stop-opacity="0.449"/><stop offset="0.981" stop-opacity="0.000"/><stop offset="0.996" stop-opacity="0.000"/></linearGradient><linearGradient id="hft128" x1="0" y1="0" x2="0" y2="1"><stop offset="0.004" stop-opacity="0.000"/><stop offset="0.720" stop-opacity="0.003"/><stop offset="0.743" stop-opacity="0.021"/><stop offset="0.765" stop-opacity="0.063"/><stop offset="0.810" stop-opacity="0.155"/><stop offset="0.854" stop-opacity="0.222"/><stop offset="0.914" stop-opacity="0.278"/><stop offset="0.959" stop-opacity="0.306"/><stop offset="0.974" stop-opacity="0.336"/><stop offset="0.981" stop-opacity="0.000"/><stop offset="0.996" stop-opacity="0.000"/></linearGradient><linearGradient id="hft129" x1="0" y1="0" x2="0" y2="1"><stop offset="0.004" stop-opacity="0.000"/><stop offset="0.772" stop-opacity="0.004"/><stop offset="0.810" stop-opacity="0.031"/><stop offset="0.869" stop-opacity="0.124"/><stop offset="0.922" stop-opacity="0.208"/><stop offset="0.974" stop-opacity="0.261"/><stop offset="0.981" stop-opacity="0.000"/><stop offset="0.996" stop-opacity="0.000"/></linearGradient><linearGradient id="hft130" x1="0" y1="0" x2="0" y2="1"><stop offset="0.004" stop-opacity="0.000"/><stop offset="0.832" stop-opacity="0.004"/><stop offset="0.869" stop-opacity="0.025"/><stop offset="0.914" stop-opacity="0.088"/><stop offset="0.974" stop-opacity="0.181"/><stop offset="0.981" stop-opacity="0.000"/><stop offset="0.996" stop-opacity="0.000"/></linearGradient><linearGradient id="hft131" x1="0" y1="0" x2="0" y2="1"><stop offset="0.004" stop-opacity="0.000"/><stop offset="0.884" stop-opacity="0.003"/><stop offset="0.922" stop-opacity="0.020"/><stop offset="0.966" stop-opacity="0.072"/><stop offset="0.974" stop-opacity="0.083"/><stop offset="0.981" stop-opacity="0.000"/><stop offset="0.996" stop-opacity="0.000"/></linearGradient><linearGradient id="hft132" x1="0" y1="0" x2="0" y2="1"><stop offset="0.004" stop-opacity="0.000"/><stop offset="0.944" stop-opacity="0.004"/><stop offset="0.974" stop-opacity="0.017"/><stop offset="0.981" stop-opacity="0.000"/><stop offset="0.996" stop-opacity="0.000"/></linearGradient></defs>
<g filter="url(#fhft)"><rect x="524" y="200" width="1" height="134" fill="url(#hft0)"/><rect x="525" y="200" width="5" height="134" fill="url(#hft1)"/><rect x="530" y="200" width="1" height="134" fill="url(#hft6)"/><rect x="531" y="200" width="1" height="134" fill="url(#hft7)"/><rect x="532" y="200" width="1" height="134" fill="url(#hft8)"/><rect x="533" y="200" width="1" height="134" fill="url(#hft9)"/><rect x="539" y="200" width="1" height="134" fill="url(#hft15)"/><rect x="540" y="200" width="1" height="134" fill="url(#hft16)"/><rect x="541" y="200" width="1" height="134" fill="url(#hft17)"/><rect x="542" y="200" width="1" height="134" fill="url(#hft18)"/><rect x="543" y="200" width="1" height="134" fill="url(#hft19)"/><rect x="544" y="200" width="1" height="134" fill="url(#hft20)"/><rect x="545" y="200" width="1" height="134" fill="url(#hft21)"/><rect x="546" y="200" width="1" height="134" fill="url(#hft22)"/><rect x="547" y="200" width="1" height="134" fill="url(#hft23)"/><rect x="548" y="200" width="1" height="134" fill="url(#hft24)"/><rect x="549" y="200" width="3" height="134" fill="url(#hft25)"/><rect x="552" y="200" width="1" height="134" fill="url(#hft28)"/><rect x="553" y="200" width="1" height="134" fill="url(#hft29)"/><rect x="554" y="200" width="1" height="134" fill="url(#hft30)"/><rect x="555" y="200" width="1" height="134" fill="url(#hft31)"/><rect x="556" y="200" width="1" height="134" fill="url(#hft32)"/><rect x="557" y="200" width="1" height="134" fill="url(#hft33)"/><rect x="558" y="200" width="76" height="134" fill-opacity="0.000"/><rect x="634" y="200" width="1" height="134" fill="url(#hft110)"/><rect x="635" y="200" width="1" height="134" fill="url(#hft111)"/><rect x="636" y="200" width="1" height="134" fill="url(#hft112)"/><rect x="637" y="200" width="1" height="134" fill="url(#hft113)"/><rect x="638" y="200" width="1" height="134" fill="url(#hft114)"/><rect x="639" y="200" width="1" height="134" fill="url(#hft115)"/><rect x="640" y="200" width="1" height="134" fill="url(#hft116)"/><rect x="641" y="200" width="1" height="134" fill="url(#hft117)"/><rect x="642" y="200" width="1" height="134" fill="url(#hft118)"/><rect x="643" y="200" width="1" height="134" fill="url(#hft119)"/><rect x="644" y="200" width="4" height="134" fill="url(#hft120)"/><rect x="648" y="200" width="1" height="134" fill="url(#hft124)"/><rect x="649" y="200" width="1" height="134" fill="url(#hft125)"/><rect x="650" y="200" width="1" height="134" fill="url(#hft126)"/><rect x="651" y="200" width="1" height="134" fill="url(#hft127)"/><rect x="652" y="200" width="1" height="134" fill="url(#hft128)"/><rect x="653" y="200" width="1" height="134" fill="url(#hft129)"/><rect x="654" y="200" width="1" height="134" fill="url(#hft130)"/><rect x="655" y="200" width="1" height="134" fill="url(#hft131)"/><rect x="656" y="200" width="1" height="134" fill="url(#hft132)"/></g>
<defs><filter id="fhfg" filterUnits="userSpaceOnUse" x="524" y="200" width="140" height="134" color-interpolation-filters="sRGB"><feComponentTransfer in="SourceAlpha" result="ind"><feFuncA type="linear" slope="15" intercept="0"/></feComponentTransfer><feTurbulence type="fractalNoise" baseFrequency="0.9 0.270" numOctaves="1" seed="38" result="T"/><feColorMatrix in="T" type="matrix" values="0 0 0 0 0  0 0 0 0 0  0 0 0 0 0  1 0 0 0 -0.5" result="P"/><feColorMatrix in="T" type="matrix" values="0 0 0 0 0  0 0 0 0 0  0 0 0 0 0  -1 0 0 0 0.5" result="Q"/><feComposite in="ind" in2="P" operator="arithmetic" k1="1" k2="0" k3="0" k4="0" result="PP"/><feComposite in="ind" in2="Q" operator="arithmetic" k1="1" k2="0" k3="0" k4="0" result="QQ"/><feComposite in="SourceGraphic" in2="QQ" operator="arithmetic" k1="0" k2="1" k3="-0.1500" k4="0" result="S1"/><feComposite in="S1" in2="PP" operator="arithmetic" k1="0" k2="1" k3="0.1500" k4="0" result="S2"/><feComponentTransfer in="S2" result="S3"><feFuncA type="linear" slope="3" intercept="0"/></feComponentTransfer><feColorMatrix in="S3" type="matrix" values="0 0 0 0 0.2392  0 0 0 0 0.4235  0 0 0 0 0.3137  0 0 0 1 0"/></filter><linearGradient id="hfg34" x1="0" y1="0" x2="0" y2="1"><stop offset="0.004" stop-opacity="0.000"/><stop offset="0.907" stop-opacity="0.013"/><stop offset="0.974" stop-opacity="0.015"/><stop offset="0.981" stop-opacity="0.000"/><stop offset="0.996" stop-opacity="0.000"/></linearGradient><linearGradient id="hfg35" x1="0" y1="0" x2="0" y2="1"><stop offset="0.004" stop-opacity="0.002"/><stop offset="0.362" stop-opacity="0.014"/><stop offset="0.713" stop-opacity="0.066"/><stop offset="0.922" stop-opacity="0.123"/><stop offset="0.974" stop-opacity="0.139"/><stop offset="0.981" stop-opacity="0.000"/><stop offset="0.996" stop-opacity="0.000"/></linearGradient><linearGradient id="hfg36" x1="0" y1="0" x2="0" y2="1"><stop offset="0.004" stop-opacity="0.003"/><stop offset="0.332" stop-opacity="0.018"/><stop offset="0.563" stop-opacity="0.067"/><stop offset="0.728" stop-opacity="0.118"/><stop offset="0.884" stop-opacity="0.191"/><stop offset="0.974" stop-opacity="0.230"/><stop offset="0.981" stop-opacity="0.000"/><stop offset="0.996" stop-opacity="0.000"/></linearGradient><linearGradient id="hfg37" x1="0" y1="0" x2="0" y2="1"><stop offset="0.004" stop-opacity="0.003"/><stop offset="0.310" stop-opacity="0.019"/><stop offset="0.466" stop-opacity="0.053"/><stop offset="0.653" stop-opacity="0.116"/><stop offset="0.780" stop-opacity="0.179"/><stop offset="0.914" stop-opacity="0.267"/><stop offset="0.974" stop-opacity="0.287"/><stop offset="0.981" stop-opacity="0.000"/><stop offset="0.996" stop-opacity="0.000"/></linearGradient><linearGradient id="hfg38" x1="0" y1="0" x2="0" y2="1"><stop offset="0.004" stop-opacity="0.003"/><stop offset="0.302" stop-opacity="0.021"/><stop offset="0.451" stop-opacity="0.055"/><stop offset="0.638" stop-opacity="0.125"/><stop offset="0.772" stop-opacity="0.200"/><stop offset="0.899" stop-opacity="0.300"/><stop offset="0.907" stop-opacity="0.325"/><stop offset="0.974" stop-opacity="0.444"/><stop offset="0.981" stop-opacity="0.000"/><stop offset="0.996" stop-opacity="0.000"/></linearGradient><linearGradient id="hfg39" x1="0" y1="0" x2="0" y2="1"><stop offset="0.004" stop-opacity="0.004"/><stop offset="0.295" stop-opacity="0.021"/><stop offset="0.444" stop-opacity="0.056"/><stop offset="0.638" stop-opacity="0.134"/><stop offset="0.772" stop-opacity="0.214"/><stop offset="0.877" stop-opacity="0.299"/><stop offset="0.899" stop-opacity="0.407"/><stop offset="0.907" stop-opacity="0.432"/><stop offset="0.951" stop-opacity="0.500"/><stop offset="0.974" stop-opacity="0.500"/><stop offset="0.981" stop-opacity="0.000"/><stop offset="0.996" stop-opacity="0.000"/></linearGradient><linearGradient id="hfg40" x1="0" y1="0" x2="0" y2="1"><stop offset="0.004" stop-opacity="0.004"/><stop offset="0.295" stop-opacity="0.021"/><stop offset="0.451" stop-opacity="0.058"/><stop offset="0.646" stop-opacity="0.137"/><stop offset="0.772" stop-opacity="0.212"/><stop offset="0.884" stop-opacity="0.301"/><stop offset="0.899" stop-opacity="0.371"/><stop offset="0.907" stop-opacity="0.394"/><stop offset="0.974" stop-opacity="0.485"/><stop offset="0.981" stop-opacity="0.000"/><stop offset="0.996" stop-opacity="0.000"/></linearGradient><linearGradient id="hfg41" x1="0" y1="0" x2="0" y2="1"><stop offset="0.004" stop-opacity="0.004"/><stop offset="0.295" stop-opacity="0.021"/><stop offset="0.451" stop-opacity="0.058"/><stop offset="0.660" stop-opacity="0.144"/><stop offset="0.772" stop-opacity="0.211"/><stop offset="0.884" stop-opacity="0.298"/><stop offset="0.892" stop-opacity="0.320"/><stop offset="0.899" stop-opacity="0.354"/><stop offset="0.907" stop-opacity="0.375"/><stop offset="0.974" stop-opacity="0.449"/><stop offset="0.981" stop-opacity="0.000"/><stop offset="0.996" stop-opacity="0.000"/></linearGradient><linearGradient id="hfg42" x1="0" y1="0" x2="0" y2="1"><stop offset="0.004" stop-opacity="0.005"/><stop offset="0.295" stop-opacity="0.022"/><stop offset="0.444" stop-opacity="0.058"/><stop offset="0.668" stop-opacity="0.156"/><stop offset="0.780" stop-opacity="0.231"/><stop offset="0.862" stop-opacity="0.297"/><stop offset="0.869" stop-opacity="0.314"/><stop offset="0.899" stop-opacity="0.454"/><stop offset="0.907" stop-opacity="0.475"/><stop offset="0.937" stop-opacity="0.500"/><stop offset="0.974" stop-opacity="0.500"/><stop offset="0.981" stop-opacity="0.000"/><stop offset="0.996" stop-opacity="0.000"/></linearGradient><linearGradient id="hfg43" x1="0" y1="0" x2="0" y2="1"><stop offset="0.004" stop-opacity="0.005"/><stop offset="0.295" stop-opacity="0.021"/><stop offset="0.444" stop-opacity="0.056"/><stop offset="0.675" stop-opacity="0.155"/><stop offset="0.780" stop-opacity="0.223"/><stop offset="0.877" stop-opacity="0.299"/><stop offset="0.899" stop-opacity="0.401"/><stop offset="0.907" stop-opacity="0.423"/><stop offset="0.974" stop-opacity="0.490"/><stop offset="0.981" stop-opacity="0.000"/><stop offset="0.996" stop-opacity="0.000"/></linearGradient><linearGradient id="hfg44" x1="0" y1="0" x2="0" y2="1"><stop offset="0.004" stop-opacity="0.004"/><stop offset="0.295" stop-opacity="0.021"/><stop offset="0.444" stop-opacity="0.055"/><stop offset="0.675" stop-opacity="0.152"/><stop offset="0.780" stop-opacity="0.220"/><stop offset="0.877" stop-opacity="0.299"/><stop offset="0.892" stop-opacity="0.366"/><stop offset="0.899" stop-opacity="0.403"/><stop offset="0.907" stop-opacity="0.429"/><stop offset="0.929" stop-opacity="0.467"/><stop offset="0.951" stop-opacity="0.496"/><stop offset="0.974" stop-opacity="0.500"/><stop offset="0.981" stop-opacity="0.000"/><stop offset="0.996" stop-opacity="0.000"/></linearGradient><linearGradient id="hfg45" x1="0" y1="0" x2="0" y2="1"><stop offset="0.004" stop-opacity="0.004"/><stop offset="0.302" stop-opacity="0.021"/><stop offset="0.451" stop-opacity="0.056"/><stop offset="0.675" stop-opacity="0.147"/><stop offset="0.780" stop-opacity="0.213"/><stop offset="0.884" stop-opacity="0.299"/><stop offset="0.899" stop-opacity="0.372"/><stop offset="0.907" stop-opacity="0.402"/><stop offset="0.922" stop-opacity="0.441"/><stop offset="0.959" stop-opacity="0.500"/><stop offset="0.974" stop-opacity="0.500"/><stop offset="0.981" stop-opacity="0.000"/><stop offset="0.996" stop-opacity="0.000"/></linearGradient><linearGradient id="hfg46" x1="0" y1="0" x2="0" y2="1"><stop offset="0.004" stop-opacity="0.004"/><stop offset="0.302" stop-opacity="0.020"/><stop offset="0.451" stop-opacity="0.052"/><stop offset="0.675" stop-opacity="0.138"/><stop offset="0.780" stop-opacity="0.201"/><stop offset="0.899" stop-opacity="0.299"/><stop offset="0.914" stop-opacity="0.354"/><stop offset="0.929" stop-opacity="0.389"/><stop offset="0.974" stop-opacity="0.473"/><stop offset="0.981" stop-opacity="0.000"/><stop offset="0.996" stop-opacity="0.000"/></linearGradient><linearGradient id="hfg47" x1="0" y1="0" x2="0" y2="1"><stop offset="0.004" stop-opacity="0.003"/><stop offset="0.310" stop-opacity="0.019"/><stop offset="0.459" stop-opacity="0.050"/><stop offset="0.683" stop-opacity="0.130"/><stop offset="0.787" stop-opacity="0.192"/><stop offset="0.892" stop-opacity="0.276"/><stop offset="0.929" stop-opacity="0.301"/><stop offset="0.974" stop-opacity="0.396"/><stop offset="0.981" stop-opacity="0.000"/><stop offset="0.996" stop-opacity="0.000"/></linearGradient><linearGradient id="hfg48" x1="0" y1="0" x2="0" y2="1"><stop offset="0.004" stop-opacity="0.003"/><stop offset="0.310" stop-opacity="0.019"/><stop offset="0.459" stop-opacity="0.050"/><stop offset="0.675" stop-opacity="0.127"/><stop offset="0.780" stop-opacity="0.187"/><stop offset="0.854" stop-opacity="0.247"/><stop offset="0.907" stop-opacity="0.296"/><stop offset="0.914" stop-opacity="0.313"/><stop offset="0.922" stop-opacity="0.343"/><stop offset="0.974" stop-opacity="0.473"/><stop offset="0.981" stop-opacity="0.000"/><stop offset="0.996" stop-opacity="0.000"/></linearGradient><linearGradient id="hfg49" x1="0" y1="0" x2="0" y2="1"><stop offset="0.004" stop-opacity="0.003"/><stop offset="0.310" stop-opacity="0.018"/><stop offset="0.459" stop-opacity="0.048"/><stop offset="0.675" stop-opacity="0.123"/><stop offset="0.787" stop-opacity="0.186"/><stop offset="0.854" stop-opacity="0.240"/><stop offset="0.914" stop-opacity="0.298"/><stop offset="0.966" stop-opacity="0.479"/><stop offset="0.974" stop-opacity="0.500"/><stop offset="0.981" stop-opacity="0.000"/><stop offset="0.996" stop-opacity="0.000"/></linearGradient><linearGradient id="hfg50" x1="0" y1="0" x2="0" y2="1"><stop offset="0.004" stop-opacity="0.002"/><stop offset="0.317" stop-opacity="0.018"/><stop offset="0.466" stop-opacity="0.046"/><stop offset="0.683" stop-opacity="0.114"/><stop offset="0.802" stop-opacity="0.178"/><stop offset="0.869" stop-opacity="0.230"/><stop offset="0.944" stop-opacity="0.299"/><stop offset="0.974" stop-opacity="0.430"/><stop offset="0.981" stop-opacity="0.000"/><stop offset="0.996" stop-opacity="0.000"/></linearGradient><linearGradient id="hfg51" x1="0" y1="0" x2="0" y2="1"><stop offset="0.004" stop-opacity="0.002"/><stop offset="0.317" stop-opacity="0.017"/><stop offset="0.466" stop-opacity="0.044"/><stop offset="0.683" stop-opacity="0.108"/><stop offset="0.825" stop-opacity="0.179"/><stop offset="0.907" stop-opacity="0.249"/><stop offset="0.944" stop-opacity="0.294"/><stop offset="0.951" stop-opacity="0.311"/><stop offset="0.974" stop-opacity="0.442"/><stop offset="0.981" stop-opacity="0.000"/><stop offset="0.996" stop-opacity="0.000"/></linearGradient><linearGradient id="hfg52" x1="0" y1="0" x2="0" y2="1"><stop offset="0.004" stop-opacity="0.002"/><stop offset="0.325" stop-opacity="0.016"/><stop offset="0.481" stop-opacity="0.045"/><stop offset="0.683" stop-opacity="0.101"/><stop offset="0.832" stop-opacity="0.170"/><stop offset="0.907" stop-opacity="0.233"/><stop offset="0.951" stop-opacity="0.296"/><stop offset="0.959" stop-opacity="0.333"/><stop offset="0.974" stop-opacity="0.440"/><stop offset="0.981" stop-opacity="0.000"/><stop offset="0.996" stop-opacity="0.000"/></linearGradient><linearGradient id="hfg53" x1="0" y1="0" x2="0" y2="1"><stop offset="0.004" stop-opacity="0.001"/><stop offset="0.332" stop-opacity="0.015"/><stop offset="0.496" stop-opacity="0.043"/><stop offset="0.690" stop-opacity="0.091"/><stop offset="0.840" stop-opacity="0.153"/><stop offset="0.907" stop-opacity="0.205"/><stop offset="0.966" stop-opacity="0.297"/><stop offset="0.974" stop-opacity="0.341"/><stop offset="0.981" stop-opacity="0.000"/><stop offset="0.996" stop-opacity="0.000"/></linearGradient><linearGradient id="hfg54" x1="0" y1="0" x2="0" y2="1"><stop offset="0.004" stop-opacity="0.001"/><stop offset="0.340" stop-opacity="0.015"/><stop offset="0.511" stop-opacity="0.044"/><stop offset="0.690" stop-opacity="0.086"/><stop offset="0.840" stop-opacity="0.143"/><stop offset="0.899" stop-opacity="0.183"/><stop offset="0.959" stop-opacity="0.291"/><stop offset="0.966" stop-opacity="0.322"/><stop offset="0.974" stop-opacity="0.395"/><stop offset="0.981" stop-opacity="0.000"/><stop offset="0.996" stop-opacity="0.000"/></linearGradient><linearGradient id="hfg55" x1="0" y1="0" x2="0" y2="1"><stop offset="0.004" stop-opacity="0.001"/><stop offset="0.347" stop-opacity="0.014"/><stop offset="0.616" stop-opacity="0.058"/><stop offset="0.832" stop-opacity="0.122"/><stop offset="0.899" stop-opacity="0.164"/><stop offset="0.922" stop-opacity="0.208"/><stop offset="0.966" stop-opacity="0.301"/><stop offset="0.974" stop-opacity="0.385"/><stop offset="0.981" stop-opacity="0.000"/><stop offset="0.996" stop-opacity="0.000"/></linearGradient><linearGradient id="hfg56" x1="0" y1="0" x2="0" y2="1"><stop offset="0.004" stop-opacity="0.000"/><stop offset="0.354" stop-opacity="0.014"/><stop offset="0.660" stop-opacity="0.063"/><stop offset="0.840" stop-opacity="0.115"/><stop offset="0.899" stop-opacity="0.150"/><stop offset="0.914" stop-opacity="0.178"/><stop offset="0.966" stop-opacity="0.292"/><stop offset="0.974" stop-opacity="0.343"/><stop offset="0.981" stop-opacity="0.000"/><stop offset="0.996" stop-opacity="0.000"/></linearGradient><linearGradient id="hfg58" x1="0" y1="0" x2="0" y2="1"><stop offset="0.004" stop-opacity="0.000"/><stop offset="0.369" stop-opacity="0.014"/><stop offset="0.668" stop-opacity="0.062"/><stop offset="0.840" stop-opacity="0.111"/><stop offset="0.899" stop-opacity="0.145"/><stop offset="0.914" stop-opacity="0.173"/><stop offset="0.966" stop-opacity="0.290"/><stop offset="0.974" stop-opacity="0.331"/><stop offset="0.981" stop-opacity="0.000"/><stop offset="0.996" stop-opacity="0.000"/></linearGradient><linearGradient id="hfg59" x1="0" y1="0" x2="0" y2="1"><stop offset="0.004" stop-opacity="0.000"/><stop offset="0.369" stop-opacity="0.014"/><stop offset="0.660" stop-opacity="0.060"/><stop offset="0.840" stop-opacity="0.112"/><stop offset="0.899" stop-opacity="0.146"/><stop offset="0.914" stop-opacity="0.176"/><stop offset="0.966" stop-opacity="0.297"/><stop offset="0.974" stop-opacity="0.376"/><stop offset="0.981" stop-opacity="0.000"/><stop offset="0.996" stop-opacity="0.000"/></linearGradient><linearGradient id="hfg60" x1="0" y1="0" x2="0" y2="1"><stop offset="0.004" stop-opacity="0.000"/><stop offset="0.384" stop-opacity="0.014"/><stop offset="0.675" stop-opacity="0.059"/><stop offset="0.840" stop-opacity="0.104"/><stop offset="0.899" stop-opacity="0.137"/><stop offset="0.914" stop-opacity="0.165"/><stop offset="0.974" stop-opacity="0.296"/><stop offset="0.981" stop-opacity="0.000"/><stop offset="0.996" stop-opacity="0.000"/></linearGradient><linearGradient id="hfg63" x1="0" y1="0" x2="0" y2="1"><stop offset="0.004" stop-opacity="0.000"/><stop offset="0.414" stop-opacity="0.015"/><stop offset="0.683" stop-opacity="0.055"/><stop offset="0.840" stop-opacity="0.095"/><stop offset="0.899" stop-opacity="0.125"/><stop offset="0.914" stop-opacity="0.153"/><stop offset="0.974" stop-opacity="0.285"/><stop offset="0.981" stop-opacity="0.000"/><stop offset="0.996" stop-opacity="0.000"/></linearGradient><linearGradient id="hfg64" x1="0" y1="0" x2="0" y2="1"><stop offset="0.004" stop-opacity="0.000"/><stop offset="0.422" stop-opacity="0.015"/><stop offset="0.683" stop-opacity="0.052"/><stop offset="0.840" stop-opacity="0.092"/><stop offset="0.899" stop-opacity="0.121"/><stop offset="0.914" stop-opacity="0.148"/><stop offset="0.974" stop-opacity="0.280"/><stop offset="0.981" stop-opacity="0.000"/><stop offset="0.996" stop-opacity="0.000"/></linearGradient><linearGradient id="hfg66" x1="0" y1="0" x2="0" y2="1"><stop offset="0.004" stop-opacity="0.000"/><stop offset="0.429" stop-opacity="0.015"/><stop offset="0.683" stop-opacity="0.052"/><stop offset="0.840" stop-opacity="0.092"/><stop offset="0.899" stop-opacity="0.121"/><stop offset="0.914" stop-opacity="0.150"/><stop offset="0.974" stop-opacity="0.291"/><stop offset="0.981" stop-opacity="0.000"/><stop offset="0.996" stop-opacity="0.000"/></linearGradient><linearGradient id="hfg68" x1="0" y1="0" x2="0" y2="1"><stop offset="0.004" stop-opacity="0.000"/><stop offset="0.451" stop-opacity="0.016"/><stop offset="0.683" stop-opacity="0.046"/><stop offset="0.847" stop-opacity="0.087"/><stop offset="0.899" stop-opacity="0.111"/><stop offset="0.914" stop-opacity="0.138"/><stop offset="0.974" stop-opacity="0.276"/><stop offset="0.981" stop-opacity="0.000"/><stop offset="0.996" stop-opacity="0.000"/></linearGradient><linearGradient id="hfg70" x1="0" y1="0" x2="0" y2="1"><stop offset="0.004" stop-opacity="0.000"/><stop offset="0.466" stop-opacity="0.016"/><stop offset="0.683" stop-opacity="0.045"/><stop offset="0.847" stop-opacity="0.085"/><stop offset="0.899" stop-opacity="0.109"/><stop offset="0.914" stop-opacity="0.138"/><stop offset="0.974" stop-opacity="0.282"/><stop offset="0.981" stop-opacity="0.000"/><stop offset="0.996" stop-opacity="0.000"/></linearGradient><linearGradient id="hfg73" x1="0" y1="0" x2="0" y2="1"><stop offset="0.004" stop-opacity="0.000"/><stop offset="0.474" stop-opacity="0.017"/><stop offset="0.683" stop-opacity="0.044"/><stop offset="0.847" stop-opacity="0.084"/><stop offset="0.899" stop-opacity="0.108"/><stop offset="0.914" stop-opacity="0.137"/><stop offset="0.974" stop-opacity="0.287"/><stop offset="0.981" stop-opacity="0.000"/><stop offset="0.996" stop-opacity="0.000"/></linearGradient><linearGradient id="hfg75" x1="0" y1="0" x2="0" y2="1"><stop offset="0.004" stop-opacity="0.000"/><stop offset="0.481" stop-opacity="0.017"/><stop offset="0.690" stop-opacity="0.044"/><stop offset="0.847" stop-opacity="0.082"/><stop offset="0.899" stop-opacity="0.104"/><stop offset="0.914" stop-opacity="0.134"/><stop offset="0.974" stop-opacity="0.283"/><stop offset="0.981" stop-opacity="0.000"/><stop offset="0.996" stop-opacity="0.000"/></linearGradient><linearGradient id="hfg77" x1="0" y1="0" x2="0" y2="1"><stop offset="0.004" stop-opacity="0.000"/><stop offset="0.489" stop-opacity="0.017"/><stop offset="0.705" stop-opacity="0.045"/><stop offset="0.847" stop-opacity="0.077"/><stop offset="0.899" stop-opacity="0.099"/><stop offset="0.914" stop-opacity="0.127"/><stop offset="0.974" stop-opacity="0.272"/><stop offset="0.981" stop-opacity="0.000"/><stop offset="0.996" stop-opacity="0.000"/></linearGradient><linearGradient id="hfg79" x1="0" y1="0" x2="0" y2="1"><stop offset="0.004" stop-opacity="0.000"/><stop offset="0.489" stop-opacity="0.017"/><stop offset="0.713" stop-opacity="0.047"/><stop offset="0.847" stop-opacity="0.078"/><stop offset="0.899" stop-opacity="0.100"/><stop offset="0.914" stop-opacity="0.130"/><stop offset="0.974" stop-opacity="0.280"/><stop offset="0.981" stop-opacity="0.000"/><stop offset="0.996" stop-opacity="0.000"/></linearGradient><linearGradient id="hfg85" x1="0" y1="0" x2="0" y2="1"><stop offset="0.004" stop-opacity="0.000"/><stop offset="0.534" stop-opacity="0.018"/><stop offset="0.825" stop-opacity="0.061"/><stop offset="0.899" stop-opacity="0.090"/><stop offset="0.914" stop-opacity="0.118"/><stop offset="0.974" stop-opacity="0.262"/><stop offset="0.981" stop-opacity="0.000"/><stop offset="0.996" stop-opacity="0.000"/></linearGradient><linearGradient id="hfg86" x1="0" y1="0" x2="0" y2="1"><stop offset="0.004" stop-opacity="0.000"/><stop offset="0.534" stop-opacity="0.018"/><stop offset="0.832" stop-opacity="0.064"/><stop offset="0.899" stop-opacity="0.091"/><stop offset="0.914" stop-opacity="0.120"/><stop offset="0.974" stop-opacity="0.268"/><stop offset="0.981" stop-opacity="0.000"/><stop offset="0.996" stop-opacity="0.000"/></linearGradient><linearGradient id="hfg87" x1="0" y1="0" x2="0" y2="1"><stop offset="0.004" stop-opacity="0.000"/><stop offset="0.534" stop-opacity="0.018"/><stop offset="0.832" stop-opacity="0.065"/><stop offset="0.899" stop-opacity="0.093"/><stop offset="0.914" stop-opacity="0.122"/><stop offset="0.974" stop-opacity="0.276"/><stop offset="0.981" stop-opacity="0.000"/><stop offset="0.996" stop-opacity="0.000"/></linearGradient><linearGradient id="hfg89" x1="0" y1="0" x2="0" y2="1"><stop offset="0.004" stop-opacity="0.000"/><stop offset="0.549" stop-opacity="0.019"/><stop offset="0.832" stop-opacity="0.060"/><stop offset="0.899" stop-opacity="0.087"/><stop offset="0.914" stop-opacity="0.115"/><stop offset="0.974" stop-opacity="0.261"/><stop offset="0.981" stop-opacity="0.000"/><stop offset="0.996" stop-opacity="0.000"/></linearGradient><linearGradient id="hfg90" x1="0" y1="0" x2="0" y2="1"><stop offset="0.004" stop-opacity="0.000"/><stop offset="0.549" stop-opacity="0.020"/><stop offset="0.832" stop-opacity="0.064"/><stop offset="0.899" stop-opacity="0.092"/><stop offset="0.914" stop-opacity="0.121"/><stop offset="0.974" stop-opacity="0.278"/><stop offset="0.981" stop-opacity="0.000"/><stop offset="0.996" stop-opacity="0.000"/></linearGradient><linearGradient id="hfg91" x1="0" y1="0" x2="0" y2="1"><stop offset="0.004" stop-opacity="0.000"/><stop offset="0.549" stop-opacity="0.018"/><stop offset="0.832" stop-opacity="0.060"/><stop offset="0.899" stop-opacity="0.087"/><stop offset="0.914" stop-opacity="0.116"/><stop offset="0.974" stop-opacity="0.266"/><stop offset="0.981" stop-opacity="0.000"/><stop offset="0.996" stop-opacity="0.000"/></linearGradient><linearGradient id="hfg95" x1="0" y1="0" x2="0" y2="1"><stop offset="0.004" stop-opacity="0.000"/><stop offset="0.563" stop-opacity="0.017"/><stop offset="0.832" stop-opacity="0.056"/><stop offset="0.899" stop-opacity="0.081"/><stop offset="0.914" stop-opacity="0.108"/><stop offset="0.974" stop-opacity="0.252"/><stop offset="0.981" stop-opacity="0.000"/><stop offset="0.996" stop-opacity="0.000"/></linearGradient><linearGradient id="hfg96" x1="0" y1="0" x2="0" y2="1"><stop offset="0.004" stop-opacity="0.000"/><stop offset="0.563" stop-opacity="0.017"/><stop offset="0.832" stop-opacity="0.058"/><stop offset="0.899" stop-opacity="0.085"/><stop offset="0.914" stop-opacity="0.114"/><stop offset="0.974" stop-opacity="0.266"/><stop offset="0.981" stop-opacity="0.000"/><stop offset="0.996" stop-opacity="0.000"/></linearGradient><linearGradient id="hfg97" x1="0" y1="0" x2="0" y2="1"><stop offset="0.004" stop-opacity="0.000"/><stop offset="0.563" stop-opacity="0.016"/><stop offset="0.832" stop-opacity="0.056"/><stop offset="0.899" stop-opacity="0.082"/><stop offset="0.914" stop-opacity="0.110"/><stop offset="0.974" stop-opacity="0.258"/><stop offset="0.981" stop-opacity="0.000"/><stop offset="0.996" stop-opacity="0.000"/></linearGradient><linearGradient id="hfg98" x1="0" y1="0" x2="0" y2="1"><stop offset="0.004" stop-opacity="0.000"/><stop offset="0.571" stop-opacity="0.016"/><stop offset="0.832" stop-opacity="0.054"/><stop offset="0.899" stop-opacity="0.079"/><stop offset="0.914" stop-opacity="0.106"/><stop offset="0.974" stop-opacity="0.251"/><stop offset="0.981" stop-opacity="0.000"/><stop offset="0.996" stop-opacity="0.000"/></linearGradient><linearGradient id="hfg100" x1="0" y1="0" x2="0" y2="1"><stop offset="0.004" stop-opacity="0.000"/><stop offset="0.578" stop-opacity="0.015"/><stop offset="0.840" stop-opacity="0.053"/><stop offset="0.899" stop-opacity="0.074"/><stop offset="0.914" stop-opacity="0.100"/><stop offset="0.974" stop-opacity="0.239"/><stop offset="0.981" stop-opacity="0.000"/><stop offset="0.996" stop-opacity="0.000"/></linearGradient><linearGradient id="hfg101" x1="0" y1="0" x2="0" y2="1"><stop offset="0.004" stop-opacity="0.000"/><stop offset="0.578" stop-opacity="0.015"/><stop offset="0.832" stop-opacity="0.052"/><stop offset="0.899" stop-opacity="0.076"/><stop offset="0.914" stop-opacity="0.103"/><stop offset="0.974" stop-opacity="0.247"/><stop offset="0.981" stop-opacity="0.000"/><stop offset="0.996" stop-opacity="0.000"/></linearGradient><linearGradient id="hfg103" x1="0" y1="0" x2="0" y2="1"><stop offset="0.004" stop-opacity="0.000"/><stop offset="0.578" stop-opacity="0.013"/><stop offset="0.832" stop-opacity="0.050"/><stop offset="0.899" stop-opacity="0.074"/><stop offset="0.914" stop-opacity="0.101"/><stop offset="0.974" stop-opacity="0.243"/><stop offset="0.981" stop-opacity="0.000"/><stop offset="0.996" stop-opacity="0.000"/></linearGradient><linearGradient id="hfg106" x1="0" y1="0" x2="0" y2="1"><stop offset="0.004" stop-opacity="0.000"/><stop offset="0.616" stop-opacity="0.010"/><stop offset="0.854" stop-opacity="0.039"/><stop offset="0.899" stop-opacity="0.050"/><stop offset="0.944" stop-opacity="0.113"/><stop offset="0.974" stop-opacity="0.165"/><stop offset="0.981" stop-opacity="0.000"/><stop offset="0.996" stop-opacity="0.000"/></linearGradient><linearGradient id="hfg107" x1="0" y1="0" x2="0" y2="1"><stop offset="0.004" stop-opacity="0.000"/><stop offset="0.757" stop-opacity="0.008"/><stop offset="0.907" stop-opacity="0.019"/><stop offset="0.974" stop-opacity="0.056"/><stop offset="0.981" stop-opacity="0.000"/><stop offset="0.996" stop-opacity="0.000"/></linearGradient></defs>
<g filter="url(#fhfg)"><rect x="558" y="200" width="1" height="134" fill="url(#hfg34)"/><rect x="559" y="200" width="1" height="134" fill="url(#hfg35)"/><rect x="560" y="200" width="1" height="134" fill="url(#hfg36)"/><rect x="561" y="200" width="1" height="134" fill="url(#hfg37)"/><rect x="562" y="200" width="1" height="134" fill="url(#hfg38)"/><rect x="563" y="200" width="1" height="134" fill="url(#hfg39)"/><rect x="564" y="200" width="1" height="134" fill="url(#hfg40)"/><rect x="565" y="200" width="1" height="134" fill="url(#hfg41)"/><rect x="566" y="200" width="1" height="134" fill="url(#hfg42)"/><rect x="567" y="200" width="1" height="134" fill="url(#hfg43)"/><rect x="568" y="200" width="1" height="134" fill="url(#hfg44)"/><rect x="569" y="200" width="1" height="134" fill="url(#hfg45)"/><rect x="570" y="200" width="1" height="134" fill="url(#hfg46)"/><rect x="571" y="200" width="1" height="134" fill="url(#hfg47)"/><rect x="572" y="200" width="1" height="134" fill="url(#hfg48)"/><rect x="573" y="200" width="1" height="134" fill="url(#hfg49)"/><rect x="574" y="200" width="1" height="134" fill="url(#hfg50)"/><rect x="575" y="200" width="1" height="134" fill="url(#hfg51)"/><rect x="576" y="200" width="1" height="134" fill="url(#hfg52)"/><rect x="577" y="200" width="1" height="134" fill="url(#hfg53)"/><rect x="578" y="200" width="1" height="134" fill="url(#hfg54)"/><rect x="579" y="200" width="1" height="134" fill="url(#hfg55)"/><rect x="580" y="200" width="2" height="134" fill="url(#hfg56)"/><rect x="582" y="200" width="1" height="134" fill="url(#hfg58)"/><rect x="583" y="200" width="1" height="134" fill="url(#hfg59)"/><rect x="584" y="200" width="3" height="134" fill="url(#hfg60)"/><rect x="587" y="200" width="1" height="134" fill="url(#hfg63)"/><rect x="588" y="200" width="2" height="134" fill="url(#hfg64)"/><rect x="590" y="200" width="2" height="134" fill="url(#hfg66)"/><rect x="592" y="200" width="2" height="134" fill="url(#hfg68)"/><rect x="594" y="200" width="3" height="134" fill="url(#hfg70)"/><rect x="597" y="200" width="2" height="134" fill="url(#hfg73)"/><rect x="599" y="200" width="2" height="134" fill="url(#hfg75)"/><rect x="601" y="200" width="2" height="134" fill="url(#hfg77)"/><rect x="603" y="200" width="6" height="134" fill="url(#hfg79)"/><rect x="609" y="200" width="1" height="134" fill="url(#hfg85)"/><rect x="610" y="200" width="1" height="134" fill="url(#hfg86)"/><rect x="611" y="200" width="2" height="134" fill="url(#hfg87)"/><rect x="613" y="200" width="1" height="134" fill="url(#hfg89)"/><rect x="614" y="200" width="1" height="134" fill="url(#hfg90)"/><rect x="615" y="200" width="4" height="134" fill="url(#hfg91)"/><rect x="619" y="200" width="1" height="134" fill="url(#hfg95)"/><rect x="620" y="200" width="1" height="134" fill="url(#hfg96)"/><rect x="621" y="200" width="1" height="134" fill="url(#hfg97)"/><rect x="622" y="200" width="2" height="134" fill="url(#hfg98)"/><rect x="624" y="200" width="1" height="134" fill="url(#hfg100)"/><rect x="625" y="200" width="2" height="134" fill="url(#hfg101)"/><rect x="627" y="200" width="3" height="134" fill="url(#hfg103)"/><rect x="630" y="200" width="1" height="134" fill="url(#hfg106)"/><rect x="631" y="200" width="1" height="134" fill="url(#hfg107)"/></g>
<defs><filter id="nz" x="0" y="0" width="100%" height="100%" color-interpolation-filters="sRGB"><feTurbulence type="fractalNoise" baseFrequency="0.95" numOctaves="1" seed="3" result="t1"/><feColorMatrix in="t1" type="matrix" values="0 0 0 0 0.25  0 0 0 0 0.23  0 0 0 0 0.2  0.35 0 0 0 -0.17" result="dk"/><feTurbulence type="fractalNoise" baseFrequency="0.9 0.02" numOctaves="1" seed="7" result="t2"/><feColorMatrix in="t2" type="matrix" values="0 0 0 0 0.3  0 0 0 0 0.28  0 0 0 0 0.26  0 0.2 0 0 -0.1" result="st"/><feMerge><feMergeNode in="dk"/><feMergeNode in="st"/></feMerge></filter></defs>
<rect x="289" y="200" width="136" height="127" filter="url(#nz)"/>
<rect x="524" y="200" width="140" height="131" filter="url(#nz)"/>
<defs><linearGradient id="cbgrad" x1="0" y1="0" x2="1" y2="0"><stop offset="0" stop-color="#8a8275"/><stop offset="0.25" stop-color="#bdb6ab"/><stop offset="0.5" stop-color="#f1eee9"/><stop offset="0.75" stop-color="#9dbba7"/><stop offset="1" stop-color="#3b694e"/></linearGradient></defs>
<rect x="288.8" y="199.6" width="136.39999999999998" height="129.79999999999998" fill="none" stroke="#625b5b" stroke-width="0.9"/>
<rect x="288.8" y="329.4" width="136.39999999999998" height="1.6" fill="#dedad5"/>
<line x1="288.80" y1="329.40" x2="425.20" y2="329.40" stroke="#6f6767" stroke-width="1.2"/>
<line x1="288.60" y1="329.40" x2="288.60" y2="326.80" stroke="#6f6767" stroke-width="1"/>
<text x="288.6" y="340.6" font-size="9.6" text-anchor="middle" font-weight="normal" fill="#2a2424">400</text>
<line x1="318.94" y1="329.40" x2="318.94" y2="326.80" stroke="#6f6767" stroke-width="1"/>
<text x="318.94" y="340.6" font-size="9.6" text-anchor="middle" font-weight="normal" fill="#2a2424">500</text>
<line x1="349.28" y1="329.40" x2="349.28" y2="326.80" stroke="#6f6767" stroke-width="1"/>
<text x="349.28000000000003" y="340.6" font-size="9.6" text-anchor="middle" font-weight="normal" fill="#2a2424">600</text>
<line x1="379.62" y1="329.40" x2="379.62" y2="326.80" stroke="#6f6767" stroke-width="1"/>
<text x="379.62" y="340.6" font-size="9.6" text-anchor="middle" font-weight="normal" fill="#2a2424">700</text>
<line x1="409.96" y1="329.40" x2="409.96" y2="326.80" stroke="#6f6767" stroke-width="1"/>
<text x="409.96000000000004" y="340.6" font-size="9.6" text-anchor="middle" font-weight="normal" fill="#2a2424">800</text>
<line x1="303.77" y1="329.40" x2="303.77" y2="327.80" stroke="#6f6767" stroke-width="1"/>
<line x1="334.11" y1="329.40" x2="334.11" y2="327.80" stroke="#6f6767" stroke-width="1"/>
<line x1="364.45" y1="329.40" x2="364.45" y2="327.80" stroke="#6f6767" stroke-width="1"/>
<line x1="394.79" y1="329.40" x2="394.79" y2="327.80" stroke="#6f6767" stroke-width="1"/>
<line x1="288.80" y1="226.80" x2="291.40" y2="226.80" stroke="#3a3434" stroke-width="1"/>
<text x="286.2" y="230.20000000000002" font-size="9.6" text-anchor="end" font-weight="normal" fill="#2a2424">1</text>
<line x1="288.80" y1="265.40" x2="291.40" y2="265.40" stroke="#3a3434" stroke-width="1"/>
<text x="286.2" y="268.8" font-size="9.6" text-anchor="end" font-weight="normal" fill="#2a2424">0.1</text>
<line x1="288.80" y1="304.00" x2="291.40" y2="304.00" stroke="#3a3434" stroke-width="1"/>
<text x="286.2" y="307.4" font-size="9.6" text-anchor="end" font-weight="normal" fill="#2a2424">0.01</text>
<text x="286.2" y="333.0" font-size="9.6" text-anchor="end" font-weight="normal" fill="#2a2424">0.00</text>
<line x1="288.80" y1="292.38" x2="290.30" y2="292.38" stroke="#3a3434" stroke-width="0.8"/>
<line x1="288.80" y1="285.58" x2="290.30" y2="285.58" stroke="#3a3434" stroke-width="0.8"/>
<line x1="288.80" y1="280.76" x2="290.30" y2="280.76" stroke="#3a3434" stroke-width="0.8"/>
<line x1="288.80" y1="277.02" x2="290.30" y2="277.02" stroke="#3a3434" stroke-width="0.8"/>
<line x1="288.80" y1="273.96" x2="290.30" y2="273.96" stroke="#3a3434" stroke-width="0.8"/>
<line x1="288.80" y1="271.38" x2="290.30" y2="271.38" stroke="#3a3434" stroke-width="0.8"/>
<line x1="288.80" y1="269.14" x2="290.30" y2="269.14" stroke="#3a3434" stroke-width="0.8"/>
<line x1="288.80" y1="267.17" x2="290.30" y2="267.17" stroke="#3a3434" stroke-width="0.8"/>
<line x1="288.80" y1="253.78" x2="290.30" y2="253.78" stroke="#3a3434" stroke-width="0.8"/>
<line x1="288.80" y1="246.98" x2="290.30" y2="246.98" stroke="#3a3434" stroke-width="0.8"/>
<line x1="288.80" y1="242.16" x2="290.30" y2="242.16" stroke="#3a3434" stroke-width="0.8"/>
<line x1="288.80" y1="238.42" x2="290.30" y2="238.42" stroke="#3a3434" stroke-width="0.8"/>
<line x1="288.80" y1="235.36" x2="290.30" y2="235.36" stroke="#3a3434" stroke-width="0.8"/>
<line x1="288.80" y1="232.78" x2="290.30" y2="232.78" stroke="#3a3434" stroke-width="0.8"/>
<line x1="288.80" y1="230.54" x2="290.30" y2="230.54" stroke="#3a3434" stroke-width="0.8"/>
<line x1="288.80" y1="228.57" x2="290.30" y2="228.57" stroke="#3a3434" stroke-width="0.8"/>
<line x1="288.80" y1="215.18" x2="290.30" y2="215.18" stroke="#3a3434" stroke-width="0.8"/>
<line x1="288.80" y1="208.38" x2="290.30" y2="208.38" stroke="#3a3434" stroke-width="0.8"/>
<line x1="288.80" y1="203.56" x2="290.30" y2="203.56" stroke="#3a3434" stroke-width="0.8"/>
<line x1="288.80" y1="199.82" x2="290.30" y2="199.82" stroke="#3a3434" stroke-width="0.8"/>
<text x="235.5" y="178" font-size="15.5" text-anchor="start" font-weight="bold" fill="#1c1414">e</text>
<text x="291" y="195.8" font-size="10.8" text-anchor="start" font-weight="normal" fill="#2a2424">Pristine-SAM</text>
<text x="357.0" y="353.5" font-size="10.8" text-anchor="middle" font-weight="normal" fill="#2a2424">Wavelength (nm)</text>
<text x="262.5" y="264.5" font-size="10.8" text-anchor="middle" font-weight="normal" fill="#2a2424" transform="rotate(-90 262.5 264.5)">Delay Time (μs)</text>
<rect x="370" y="213.1" width="43.7" height="5" fill="url(#cbgrad)" stroke="#6a6460" stroke-width="0.5"/>
<line x1="370.40" y1="218.10" x2="370.40" y2="219.70" stroke="#555" stroke-width="0.6"/>
<line x1="381.12" y1="218.10" x2="381.12" y2="219.70" stroke="#555" stroke-width="0.6"/>
<line x1="391.85" y1="218.10" x2="391.85" y2="219.70" stroke="#555" stroke-width="0.6"/>
<line x1="402.57" y1="218.10" x2="402.57" y2="219.70" stroke="#555" stroke-width="0.6"/>
<line x1="413.30" y1="218.10" x2="413.30" y2="219.70" stroke="#555" stroke-width="0.6"/>
<text x="391.85" y="210.7" font-size="9.0" text-anchor="middle" font-weight="normal" fill="#666060" textLength="38.7" lengthAdjust="spacingAndGlyphs">ΔA (O.D.)</text>
<text x="391.85" y="227.2" font-size="6.2" text-anchor="middle" font-weight="normal" fill="#7a7474" textLength="54" lengthAdjust="spacingAndGlyphs">-3.0 m 0.0 m 3.0 m</text>
<rect x="523.6" y="199.8" width="140.69999999999993" height="134.59999999999997" fill="none" stroke="#625b5b" stroke-width="0.9"/>
<rect x="523.6" y="334.4" width="140.69999999999993" height="1.6" fill="#dedad5"/>
<line x1="523.60" y1="334.40" x2="664.30" y2="334.40" stroke="#6f6767" stroke-width="1.2"/>
<line x1="524.00" y1="334.40" x2="524.00" y2="331.80" stroke="#6f6767" stroke-width="1"/>
<text x="524.0" y="345.0" font-size="9.6" text-anchor="middle" font-weight="normal" fill="#2a2424">400</text>
<line x1="554.88" y1="334.40" x2="554.88" y2="331.80" stroke="#6f6767" stroke-width="1"/>
<text x="554.88" y="345.0" font-size="9.6" text-anchor="middle" font-weight="normal" fill="#2a2424">500</text>
<line x1="585.76" y1="334.40" x2="585.76" y2="331.80" stroke="#6f6767" stroke-width="1"/>
<text x="585.76" y="345.0" font-size="9.6" text-anchor="middle" font-weight="normal" fill="#2a2424">600</text>
<line x1="616.64" y1="334.40" x2="616.64" y2="331.80" stroke="#6f6767" stroke-width="1"/>
<text x="616.64" y="345.0" font-size="9.6" text-anchor="middle" font-weight="normal" fill="#2a2424">700</text>
<line x1="647.52" y1="334.40" x2="647.52" y2="331.80" stroke="#6f6767" stroke-width="1"/>
<text x="647.52" y="345.0" font-size="9.6" text-anchor="middle" font-weight="normal" fill="#2a2424">800</text>
<line x1="539.44" y1="334.40" x2="539.44" y2="332.80" stroke="#6f6767" stroke-width="1"/>
<line x1="570.32" y1="334.40" x2="570.32" y2="332.80" stroke="#6f6767" stroke-width="1"/>
<line x1="601.20" y1="334.40" x2="601.20" y2="332.80" stroke="#6f6767" stroke-width="1"/>
<line x1="632.08" y1="334.40" x2="632.08" y2="332.80" stroke="#6f6767" stroke-width="1"/>
<line x1="523.60" y1="227.60" x2="526.20" y2="227.60" stroke="#3a3434" stroke-width="1"/>
<text x="521.0" y="231.0" font-size="9.6" text-anchor="end" font-weight="normal" fill="#2a2424">1</text>
<line x1="523.60" y1="267.60" x2="526.20" y2="267.60" stroke="#3a3434" stroke-width="1"/>
<text x="521.0" y="271.0" font-size="9.6" text-anchor="end" font-weight="normal" fill="#2a2424">0.1</text>
<line x1="523.60" y1="307.60" x2="526.20" y2="307.60" stroke="#3a3434" stroke-width="1"/>
<text x="521.0" y="311.0" font-size="9.6" text-anchor="end" font-weight="normal" fill="#2a2424">0.01</text>
<text x="521.0" y="338.0" font-size="9.6" text-anchor="end" font-weight="normal" fill="#2a2424">0.00</text>
<line x1="523.60" y1="295.56" x2="525.10" y2="295.56" stroke="#3a3434" stroke-width="0.8"/>
<line x1="523.60" y1="288.52" x2="525.10" y2="288.52" stroke="#3a3434" stroke-width="0.8"/>
<line x1="523.60" y1="283.52" x2="525.10" y2="283.52" stroke="#3a3434" stroke-width="0.8"/>
<line x1="523.60" y1="279.64" x2="525.10" y2="279.64" stroke="#3a3434" stroke-width="0.8"/>
<line x1="523.60" y1="276.47" x2="525.10" y2="276.47" stroke="#3a3434" stroke-width="0.8"/>
<line x1="523.60" y1="273.80" x2="525.10" y2="273.80" stroke="#3a3434" stroke-width="0.8"/>
<line x1="523.60" y1="271.48" x2="525.10" y2="271.48" stroke="#3a3434" stroke-width="0.8"/>
<line x1="523.60" y1="269.43" x2="525.10" y2="269.43" stroke="#3a3434" stroke-width="0.8"/>
<line x1="523.60" y1="255.56" x2="525.10" y2="255.56" stroke="#3a3434" stroke-width="0.8"/>
<line x1="523.60" y1="248.52" x2="525.10" y2="248.52" stroke="#3a3434" stroke-width="0.8"/>
<line x1="523.60" y1="243.52" x2="525.10" y2="243.52" stroke="#3a3434" stroke-width="0.8"/>
<line x1="523.60" y1="239.64" x2="525.10" y2="239.64" stroke="#3a3434" stroke-width="0.8"/>
<line x1="523.60" y1="236.47" x2="525.10" y2="236.47" stroke="#3a3434" stroke-width="0.8"/>
<line x1="523.60" y1="233.80" x2="525.10" y2="233.80" stroke="#3a3434" stroke-width="0.8"/>
<line x1="523.60" y1="231.48" x2="525.10" y2="231.48" stroke="#3a3434" stroke-width="0.8"/>
<line x1="523.60" y1="229.43" x2="525.10" y2="229.43" stroke="#3a3434" stroke-width="0.8"/>
<line x1="523.60" y1="215.56" x2="525.10" y2="215.56" stroke="#3a3434" stroke-width="0.8"/>
<line x1="523.60" y1="208.52" x2="525.10" y2="208.52" stroke="#3a3434" stroke-width="0.8"/>
<line x1="523.60" y1="203.52" x2="525.10" y2="203.52" stroke="#3a3434" stroke-width="0.8"/>
<text x="481" y="178" font-size="15.5" text-anchor="start" font-weight="bold" fill="#1c1414">f</text>
<text x="526" y="195.8" font-size="10.8" text-anchor="start" font-weight="normal" fill="#2a2424">ROI-SAM</text>
<text x="593.95" y="357.9" font-size="10.8" text-anchor="middle" font-weight="normal" fill="#2a2424">Wavelength (nm)</text>
<text x="497.5" y="267.1" font-size="10.8" text-anchor="middle" font-weight="normal" fill="#2a2424" transform="rotate(-90 497.5 267.1)">Delay Time (μs)</text>
<rect x="606.4" y="214.4" width="44.6" height="5.2" fill="url(#cbgrad)" stroke="#6a6460" stroke-width="0.5"/>
<line x1="606.80" y1="219.60" x2="606.80" y2="221.20" stroke="#555" stroke-width="0.6"/>
<line x1="617.75" y1="219.60" x2="617.75" y2="221.20" stroke="#555" stroke-width="0.6"/>
<line x1="628.70" y1="219.60" x2="628.70" y2="221.20" stroke="#555" stroke-width="0.6"/>
<line x1="639.65" y1="219.60" x2="639.65" y2="221.20" stroke="#555" stroke-width="0.6"/>
<line x1="650.60" y1="219.60" x2="650.60" y2="221.20" stroke="#555" stroke-width="0.6"/>
<text x="628.6999999999999" y="212.3" font-size="9.3" text-anchor="middle" font-weight="normal" fill="#666060" textLength="39.4" lengthAdjust="spacingAndGlyphs">ΔA (O.D.)</text>
<text x="628.6999999999999" y="229.5" font-size="6.5" text-anchor="middle" font-weight="normal" fill="#7a7474" textLength="56.6" lengthAdjust="spacingAndGlyphs">-3.0 m 0.0 m 3.0 m</text>
<defs><filter id="gm" x="0" y="0" width="100%" height="100%" color-interpolation-filters="sRGB"><feTurbulence type="fractalNoise" baseFrequency="0.045" numOctaves="5" seed="SEED"/><feColorMatrix type="matrix" values="0.28 0 0 0 -0.054  0 1.15 0 0 -0.025  0 0 0 0 0  0 0 0 0 1" result="g"/></filter><linearGradient id="gcb" x1="0" y1="1" x2="0" y2="0"><stop offset="0" stop-color="#080a08"/><stop offset="0.5" stop-color="#127a46"/><stop offset="1" stop-color="#22de82"/></linearGradient></defs>
<defs><filter id="gm5" x="0" y="0" width="100%" height="100%" color-interpolation-filters="sRGB"><feTurbulence type="fractalNoise" baseFrequency="0.22" numOctaves="2" seed="5" result="n1"/><feColorMatrix in="n1" type="matrix" values="0.09 0 0 0 0.5010 0.42 0 0 0 0.5775 0.21 0 0 0 0.5450 0 0 0 0 1" result="c1"/><feTurbulence type="fractalNoise" baseFrequency="0.025" numOctaves="2" seed="55" result="n2"/><feColorMatrix in="n2" type="matrix" values="0.04 0 0 0 0.5260 0.18 0 0 0 0.6975 0.1 0 0 0 0.6000 0 0 0 0 1" result="c2"/><feComposite in="c1" in2="c2" operator="arithmetic" k1="0" k2="1" k3="1" k4="-1"/></filter></defs>
<rect x="286" y="380" width="140" height="135" fill="#17924c"/>
<rect x="286" y="380" width="140" height="135" filter="url(#gm5)"/>
<defs><clipPath id="cp5"><rect x="286" y="380" width="140" height="135"/></clipPath><filter id="bl5" x="-50%" y="-50%" width="200%" height="200%"><feGaussianBlur stdDeviation="7"/></filter></defs>
<g clip-path="url(#cp5)"><g filter="url(#bl5)"><ellipse cx="296" cy="425" rx="12" ry="28" fill="#06502a" opacity="0.293"/><ellipse cx="336" cy="424" rx="30" ry="9" fill="#06502a" opacity="0.260"/><ellipse cx="350" cy="484" rx="22" ry="17" fill="#06502a" opacity="0.293"/><ellipse cx="398" cy="434" rx="16" ry="22" fill="#06502a" opacity="0.260"/><ellipse cx="317" cy="459" rx="20" ry="16" fill="#3ad08a" opacity="0.227"/><ellipse cx="373" cy="453" rx="12" ry="10" fill="#3ad08a" opacity="0.195"/><ellipse cx="406" cy="393" rx="22" ry="13" fill="#3ad08a" opacity="0.195"/><ellipse cx="303" cy="502" rx="18" ry="12" fill="#3ad08a" opacity="0.195"/><ellipse cx="414" cy="478" rx="13" ry="16" fill="#3ad08a" opacity="0.195"/></g></g>
<text x="298" y="398" font-size="12.3" text-anchor="start" font-weight="bold" fill="#ffffff">Pristine-SAM</text>
<rect x="383.6" y="500.4" width="28.4" height="4.6" fill="#ffffff"/>
<rect x="435.2" y="410.8" width="5" height="77" fill="url(#gcb)"/>
<text x="431.9" y="408.4" font-size="10" text-anchor="start" font-weight="normal" fill="#2a2424">255</text>
<text x="437.5" y="499.6" font-size="10" text-anchor="middle" font-weight="normal" fill="#2a2424">0</text>
<defs><filter id="gm9" x="0" y="0" width="100%" height="100%" color-interpolation-filters="sRGB"><feTurbulence type="fractalNoise" baseFrequency="0.22" numOctaves="2" seed="9" result="n1"/><feColorMatrix in="n1" type="matrix" values="0.09 0 0 0 0.4950 0.42 0 0 0 0.5525 0.21 0 0 0 0.5340 0 0 0 0 1" result="c1"/><feTurbulence type="fractalNoise" baseFrequency="0.025" numOctaves="2" seed="59" result="n2"/><feColorMatrix in="n2" type="matrix" values="0.04 0 0 0 0.5200 0.16 0 0 0 0.6825 0.09 0 0 0 0.5940 0 0 0 0 1" result="c2"/><feComposite in="c1" in2="c2" operator="arithmetic" k1="0" k2="1" k3="1" k4="-1"/></filter></defs>
<rect x="519.6" y="380" width="144.4" height="135.4" fill="#148546"/>
<rect x="519.6" y="380" width="144.4" height="135.4" filter="url(#gm9)"/>
<defs><clipPath id="cp9"><rect x="519.6" y="380" width="144.4" height="135.4"/></clipPath><filter id="bl9" x="-50%" y="-50%" width="200%" height="200%"><feGaussianBlur stdDeviation="7"/></filter></defs>
<g clip-path="url(#cp9)"><g filter="url(#bl9)"><ellipse cx="570" cy="470" rx="24" ry="24" fill="#3ad08a" opacity="0.163"/><ellipse cx="556" cy="420" rx="35" ry="14" fill="#06502a" opacity="0.163"/><ellipse cx="600" cy="392" rx="60" ry="10" fill="#06502a" opacity="0.117"/><ellipse cx="640" cy="455" rx="20" ry="18" fill="#3ad08a" opacity="0.098"/></g></g>
<text x="530.4" y="398.4" font-size="12.3" text-anchor="start" font-weight="bold" fill="#ffffff">ROI-SAM</text>
<rect x="623.6" y="498" width="29.8" height="5" fill="#ffffff"/>
<rect x="672.6" y="410.8" width="5" height="77" fill="url(#gcb)"/>
<text x="668.4" y="408.4" font-size="10" text-anchor="start" font-weight="normal" fill="#2a2424">255</text>
<text x="674.9" y="499.6" font-size="10" text-anchor="middle" font-weight="normal" fill="#2a2424">0</text>
<text x="235.5" y="374.4" font-size="15.5" text-anchor="start" font-weight="bold" fill="#1c1414">h</text>
<text x="481.5" y="374.4" font-size="15.5" text-anchor="start" font-weight="bold" fill="#1c1414">i</text>
</svg></body></html>
